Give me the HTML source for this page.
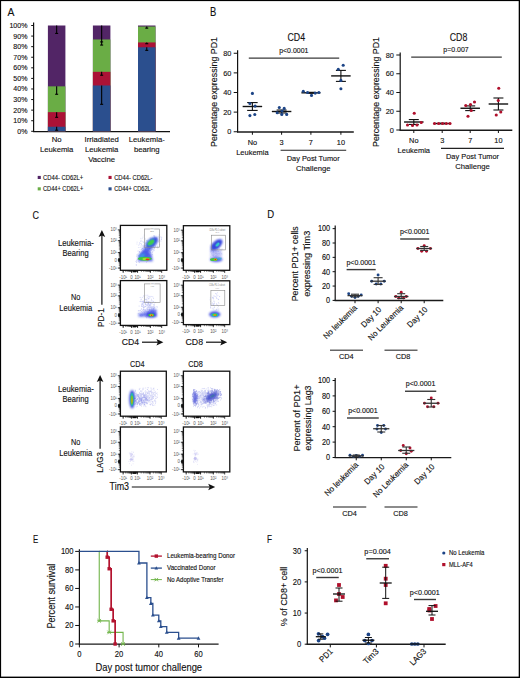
<!DOCTYPE html>
<html><head><meta charset="utf-8"><style>
html,body{margin:0;padding:0;background:#fff;}
svg{display:block;font-family:"Liberation Sans", sans-serif;}
text{stroke:currentColor;stroke-width:0.13px;}
text.ns{stroke:none;}

</style></head><body>
<svg width="520" height="678" viewBox="0 0 520 678">
<defs>
<filter id="b0_3" x="-50%" y="-50%" width="200%" height="200%"><feGaussianBlur stdDeviation="0.3"/></filter>
<filter id="b0_4" x="-50%" y="-50%" width="200%" height="200%"><feGaussianBlur stdDeviation="0.4"/></filter>
<filter id="b0_5" x="-50%" y="-50%" width="200%" height="200%"><feGaussianBlur stdDeviation="0.5"/></filter>
<filter id="b0_6" x="-50%" y="-50%" width="200%" height="200%"><feGaussianBlur stdDeviation="0.6"/></filter>
<filter id="b0_7" x="-50%" y="-50%" width="200%" height="200%"><feGaussianBlur stdDeviation="0.7"/></filter>
<filter id="b0_8" x="-50%" y="-50%" width="200%" height="200%"><feGaussianBlur stdDeviation="0.8"/></filter>
<filter id="b0_9" x="-50%" y="-50%" width="200%" height="200%"><feGaussianBlur stdDeviation="0.9"/></filter>
<filter id="b1_0" x="-50%" y="-50%" width="200%" height="200%"><feGaussianBlur stdDeviation="1.0"/></filter>
<filter id="b1_2" x="-50%" y="-50%" width="200%" height="200%"><feGaussianBlur stdDeviation="1.2"/></filter>
</defs>
<rect x="0" y="0" width="520" height="678" fill="#fff"/>
<text x="7.5" y="15.7" font-size="11.44" text-anchor="start" fill="#111" color="#111" textLength="6.9" lengthAdjust="spacingAndGlyphs">A</text>
<line x1="33.6" y1="22.5" x2="33.6" y2="131.8" stroke="#111" stroke-width="1.2" />
<line x1="31.2" y1="131.3" x2="33.6" y2="131.3" stroke="#111" stroke-width="1" />
<text x="27.4" y="133.8" font-size="7.59" text-anchor="end" fill="#111" color="#111" textLength="10.18" lengthAdjust="spacingAndGlyphs">0%</text>
<line x1="31.2" y1="120.72" x2="33.6" y2="120.72" stroke="#111" stroke-width="1" />
<text x="27.4" y="123.22" font-size="7.59" text-anchor="end" fill="#111" color="#111" textLength="14.1" lengthAdjust="spacingAndGlyphs">10%</text>
<line x1="31.2" y1="110.14" x2="33.6" y2="110.14" stroke="#111" stroke-width="1" />
<text x="27.4" y="112.64" font-size="7.59" text-anchor="end" fill="#111" color="#111" textLength="14.1" lengthAdjust="spacingAndGlyphs">20%</text>
<line x1="31.2" y1="99.56" x2="33.6" y2="99.56" stroke="#111" stroke-width="1" />
<text x="27.4" y="102.06" font-size="7.59" text-anchor="end" fill="#111" color="#111" textLength="14.1" lengthAdjust="spacingAndGlyphs">30%</text>
<line x1="31.2" y1="88.98" x2="33.6" y2="88.98" stroke="#111" stroke-width="1" />
<text x="27.4" y="91.48" font-size="7.59" text-anchor="end" fill="#111" color="#111" textLength="14.1" lengthAdjust="spacingAndGlyphs">40%</text>
<line x1="31.2" y1="78.4" x2="33.6" y2="78.4" stroke="#111" stroke-width="1" />
<text x="27.4" y="80.9" font-size="7.59" text-anchor="end" fill="#111" color="#111" textLength="14.1" lengthAdjust="spacingAndGlyphs">50%</text>
<line x1="31.2" y1="67.82" x2="33.6" y2="67.82" stroke="#111" stroke-width="1" />
<text x="27.4" y="70.32" font-size="7.59" text-anchor="end" fill="#111" color="#111" textLength="14.1" lengthAdjust="spacingAndGlyphs">60%</text>
<line x1="31.2" y1="57.24" x2="33.6" y2="57.24" stroke="#111" stroke-width="1" />
<text x="27.4" y="59.74" font-size="7.59" text-anchor="end" fill="#111" color="#111" textLength="14.1" lengthAdjust="spacingAndGlyphs">70%</text>
<line x1="31.2" y1="46.66" x2="33.6" y2="46.66" stroke="#111" stroke-width="1" />
<text x="27.4" y="49.16" font-size="7.59" text-anchor="end" fill="#111" color="#111" textLength="14.1" lengthAdjust="spacingAndGlyphs">80%</text>
<line x1="31.2" y1="36.08" x2="33.6" y2="36.08" stroke="#111" stroke-width="1" />
<text x="27.4" y="38.58" font-size="7.59" text-anchor="end" fill="#111" color="#111" textLength="14.1" lengthAdjust="spacingAndGlyphs">90%</text>
<line x1="31.2" y1="25.5" x2="33.6" y2="25.5" stroke="#111" stroke-width="1" />
<text x="27.4" y="28" font-size="7.59" text-anchor="end" fill="#111" color="#111" textLength="18.02" lengthAdjust="spacingAndGlyphs">100%</text>
<line x1="33" y1="131.6" x2="170" y2="131.6" stroke="#111" stroke-width="1.2" />
<rect x="47.9" y="25.5" width="17.5" height="105.8" fill="#522566" />
<rect x="47.9" y="86.34" width="17.5" height="44.97" fill="#6aad45" />
<rect x="47.9" y="112.15" width="17.5" height="19.15" fill="#ab1236" />
<rect x="47.9" y="126.75" width="17.5" height="4.55" fill="#2b4f8e" />
<rect x="92.9" y="25.5" width="17.5" height="105.8" fill="#522566" />
<rect x="92.9" y="39.47" width="17.5" height="91.83" fill="#6aad45" />
<rect x="92.9" y="71.84" width="17.5" height="59.46" fill="#ab1236" />
<rect x="92.9" y="85.49" width="17.5" height="45.81" fill="#2b4f8e" />
<rect x="138" y="25.5" width="17.5" height="105.8" fill="#522566" />
<rect x="138" y="26.56" width="17.5" height="104.74" fill="#6aad45" />
<rect x="138" y="42.43" width="17.5" height="88.87" fill="#ab1236" />
<rect x="138" y="47.29" width="17.5" height="84.01" fill="#2b4f8e" />
<line x1="56.65" y1="25.5" x2="56.65" y2="33.43" stroke="#000" stroke-width="1.1" />
<line x1="55.15" y1="33.43" x2="58.15" y2="33.43" stroke="#000" stroke-width="1.1" />
<line x1="56.65" y1="86.34" x2="56.65" y2="94.27" stroke="#000" stroke-width="1.1" />
<line x1="55.15" y1="94.27" x2="58.15" y2="94.27" stroke="#000" stroke-width="1.1" />
<line x1="56.65" y1="112.15" x2="56.65" y2="117.33" stroke="#000" stroke-width="1.1" />
<line x1="55.15" y1="117.33" x2="58.15" y2="117.33" stroke="#000" stroke-width="1.1" />
<line x1="56.65" y1="126.75" x2="56.65" y2="130.24" stroke="#000" stroke-width="1.1" />
<line x1="55.15" y1="130.24" x2="58.15" y2="130.24" stroke="#000" stroke-width="1.1" />
<line x1="101.65" y1="25.5" x2="101.65" y2="45.07" stroke="#000" stroke-width="1.1" />
<line x1="100.15" y1="41.9" x2="103.15" y2="41.9" stroke="#000" stroke-width="1.1" />
<line x1="100.15" y1="45.07" x2="103.15" y2="45.07" stroke="#000" stroke-width="1.1" />
<line x1="101.65" y1="71.84" x2="101.65" y2="75.23" stroke="#000" stroke-width="1.1" />
<line x1="100.15" y1="75.23" x2="103.15" y2="75.23" stroke="#000" stroke-width="1.1" />
<line x1="101.65" y1="85.49" x2="101.65" y2="104.32" stroke="#000" stroke-width="1.1" />
<line x1="100.15" y1="104.32" x2="103.15" y2="104.32" stroke="#000" stroke-width="1.1" />
<line x1="146.75" y1="26.56" x2="146.75" y2="28.14" stroke="#000" stroke-width="1.1" />
<line x1="145.25" y1="28.14" x2="148.25" y2="28.14" stroke="#000" stroke-width="1.1" />
<line x1="146.75" y1="42.43" x2="146.75" y2="43.7" stroke="#000" stroke-width="1.1" />
<line x1="145.25" y1="43.7" x2="148.25" y2="43.7" stroke="#000" stroke-width="1.1" />
<line x1="146.75" y1="47.29" x2="146.75" y2="50.36" stroke="#000" stroke-width="1.1" />
<line x1="145.25" y1="50.36" x2="148.25" y2="50.36" stroke="#000" stroke-width="1.1" />
<text x="56.65" y="141.8" font-size="7.76" text-anchor="middle" fill="#111" color="#111" textLength="9.87" lengthAdjust="spacingAndGlyphs">No</text>
<text x="56.65" y="151.65" font-size="7.76" text-anchor="middle" fill="#111" color="#111" textLength="33.47" lengthAdjust="spacingAndGlyphs">Leukemia</text>
<text x="101.65" y="141.8" font-size="7.76" text-anchor="middle" fill="#111" color="#111" textLength="34.33" lengthAdjust="spacingAndGlyphs">Irriadiated</text>
<text x="101.65" y="151.65" font-size="7.76" text-anchor="middle" fill="#111" color="#111" textLength="33.47" lengthAdjust="spacingAndGlyphs">Leukemia</text>
<text x="101.65" y="161.5" font-size="7.76" text-anchor="middle" fill="#111" color="#111" textLength="26.89" lengthAdjust="spacingAndGlyphs">Vaccine</text>
<text x="146.75" y="141.8" font-size="7.76" text-anchor="middle" fill="#111" color="#111" textLength="36.05" lengthAdjust="spacingAndGlyphs">Leukemia-</text>
<text x="146.75" y="151.65" font-size="7.76" text-anchor="middle" fill="#111" color="#111" textLength="25.75" lengthAdjust="spacingAndGlyphs">bearing</text>
<rect x="37.7" y="175.9" width="3.1" height="3.1" fill="#522566" />
<text x="43" y="179.7" font-size="7.18" text-anchor="start" fill="#111" color="#111" textLength="40.2" lengthAdjust="spacingAndGlyphs">CD44- CD62L+</text>
<rect x="108.5" y="175.9" width="3.1" height="3.1" fill="#ab1236" />
<text x="114.2" y="179.7" font-size="7.18" text-anchor="start" fill="#111" color="#111" textLength="38.3" lengthAdjust="spacingAndGlyphs">CD44- CD62L-</text>
<rect x="37.7" y="187.3" width="3.1" height="3.1" fill="#6aad45" />
<text x="43" y="191.1" font-size="7.18" text-anchor="start" fill="#111" color="#111" textLength="40.2" lengthAdjust="spacingAndGlyphs">CD44+ CD62L+</text>
<rect x="108.5" y="187.3" width="3.1" height="3.1" fill="#2b4f8e" />
<text x="114.2" y="191.1" font-size="7.18" text-anchor="start" fill="#111" color="#111" textLength="38.3" lengthAdjust="spacingAndGlyphs">CD44+ CD62L-</text>
<text x="209.9" y="16" font-size="11.96" text-anchor="start" fill="#111" color="#111" textLength="6.3" lengthAdjust="spacingAndGlyphs">B</text>
<text x="296.3" y="41.4" font-size="10.37" text-anchor="middle" fill="#111" color="#111" textLength="17.6" lengthAdjust="spacingAndGlyphs">CD4</text>
<line x1="237.6" y1="50.3" x2="237.6" y2="132.35" stroke="#111" stroke-width="1.2" />
<line x1="233.7" y1="131.75" x2="237.6" y2="131.75" stroke="#111" stroke-width="1" />
<text x="231.3" y="134.45" font-size="7.9" text-anchor="end" fill="#111" color="#111" textLength="4.08" lengthAdjust="spacingAndGlyphs">0</text>
<line x1="233.7" y1="112.12" x2="237.6" y2="112.12" stroke="#111" stroke-width="1" />
<text x="231.3" y="114.83" font-size="7.9" text-anchor="end" fill="#111" color="#111" textLength="8.16" lengthAdjust="spacingAndGlyphs">20</text>
<line x1="233.7" y1="92.5" x2="237.6" y2="92.5" stroke="#111" stroke-width="1" />
<text x="231.3" y="95.2" font-size="7.9" text-anchor="end" fill="#111" color="#111" textLength="8.16" lengthAdjust="spacingAndGlyphs">40</text>
<line x1="233.7" y1="72.88" x2="237.6" y2="72.88" stroke="#111" stroke-width="1" />
<text x="231.3" y="75.58" font-size="7.9" text-anchor="end" fill="#111" color="#111" textLength="8.16" lengthAdjust="spacingAndGlyphs">60</text>
<line x1="233.7" y1="53.25" x2="237.6" y2="53.25" stroke="#111" stroke-width="1" />
<text x="231.3" y="55.95" font-size="7.9" text-anchor="end" fill="#111" color="#111" textLength="8.16" lengthAdjust="spacingAndGlyphs">80</text>
<line x1="237" y1="131.9" x2="353.8" y2="131.9" stroke="#1a1a1a" stroke-width="1.55" />
<line x1="252.4" y1="131.75" x2="252.4" y2="134.75" stroke="#111" stroke-width="1" />
<line x1="281.6" y1="131.75" x2="281.6" y2="134.75" stroke="#111" stroke-width="1" />
<line x1="310.9" y1="131.75" x2="310.9" y2="134.75" stroke="#111" stroke-width="1" />
<line x1="340.9" y1="131.75" x2="340.9" y2="134.75" stroke="#111" stroke-width="1" />
<text x="252.4" y="145" font-size="7.9" text-anchor="middle" fill="#111" color="#111" textLength="9.38" lengthAdjust="spacingAndGlyphs">No</text>
<text x="252.4" y="154.8" font-size="7.9" text-anchor="middle" fill="#111" color="#111" textLength="32.5" lengthAdjust="spacingAndGlyphs">Leukemia</text>
<text x="281.6" y="145" font-size="7.9" text-anchor="middle" fill="#111" color="#111" textLength="4.08" lengthAdjust="spacingAndGlyphs">3</text>
<text x="310.9" y="145" font-size="7.9" text-anchor="middle" fill="#111" color="#111" textLength="4.08" lengthAdjust="spacingAndGlyphs">7</text>
<text x="340.9" y="145" font-size="7.9" text-anchor="middle" fill="#111" color="#111" textLength="8.16" lengthAdjust="spacingAndGlyphs">10</text>
<line x1="280.6" y1="150.3" x2="346.2" y2="150.3" stroke="#222" stroke-width="1.1" />
<text x="313.2" y="160.5" font-size="7.9" text-anchor="middle" fill="#111" color="#111" textLength="53" lengthAdjust="spacingAndGlyphs">Day Post Tumor</text>
<text x="313.2" y="170.5" font-size="7.9" text-anchor="middle" fill="#111" color="#111" textLength="34.5" lengthAdjust="spacingAndGlyphs">Challenge</text>
<line x1="248.8" y1="58.1" x2="339.2" y2="58.1" stroke="#3a3a3a" stroke-width="1.3" />
<text x="293.8" y="52.5" font-size="7.49" text-anchor="middle" fill="#111" color="#111" textLength="29.17" lengthAdjust="spacingAndGlyphs">p&lt;0.0001</text>
<text x="216.7" y="92" font-size="9.26" text-anchor="middle" fill="#111" color="#111" textLength="110" lengthAdjust="spacingAndGlyphs" transform="rotate(-90 216.7 92)">Percentage expressing PD1</text>
<line x1="242.65" y1="106.5" x2="262.15" y2="106.5" stroke="#111" stroke-width="1.4" />
<line x1="252.4" y1="110.42" x2="252.4" y2="102.58" stroke="#111" stroke-width="1.1" />
<line x1="247.15" y1="102.58" x2="257.65" y2="102.58" stroke="#111" stroke-width="1.1" />
<line x1="247.15" y1="110.42" x2="257.65" y2="110.42" stroke="#111" stroke-width="1.1" />
<line x1="271.85" y1="111.5" x2="291.35" y2="111.5" stroke="#111" stroke-width="1.4" />
<line x1="281.6" y1="112.97" x2="281.6" y2="110.03" stroke="#111" stroke-width="1.1" />
<line x1="276.6" y1="110.03" x2="286.6" y2="110.03" stroke="#111" stroke-width="1.1" />
<line x1="276.6" y1="112.97" x2="286.6" y2="112.97" stroke="#111" stroke-width="1.1" />
<line x1="301.4" y1="92.8" x2="320.4" y2="92.8" stroke="#111" stroke-width="1.4" />
<line x1="310.9" y1="93.29" x2="310.9" y2="92.31" stroke="#111" stroke-width="1.1" />
<line x1="306.9" y1="92.31" x2="314.9" y2="92.31" stroke="#111" stroke-width="1.1" />
<line x1="306.9" y1="93.29" x2="314.9" y2="93.29" stroke="#111" stroke-width="1.1" />
<line x1="331.15" y1="75.9" x2="350.65" y2="75.9" stroke="#111" stroke-width="1.4" />
<line x1="340.9" y1="81.4" x2="340.9" y2="70.41" stroke="#111" stroke-width="1.1" />
<line x1="335.9" y1="70.41" x2="345.9" y2="70.41" stroke="#111" stroke-width="1.1" />
<line x1="335.9" y1="81.4" x2="345.9" y2="81.4" stroke="#111" stroke-width="1.1" />
<circle cx="252.4" cy="93.4" r="1.55" fill="#1c4486" />
<circle cx="249.9" cy="103.5" r="1.55" fill="#1c4486" />
<circle cx="255.1" cy="106.1" r="1.55" fill="#1c4486" />
<circle cx="249.9" cy="115.6" r="1.55" fill="#1c4486" />
<circle cx="254.8" cy="114.5" r="1.55" fill="#1c4486" />
<circle cx="279.3" cy="107.5" r="1.55" fill="#1c4486" />
<circle cx="284.2" cy="108.4" r="1.55" fill="#1c4486" />
<circle cx="277.2" cy="112.7" r="1.55" fill="#1c4486" />
<circle cx="281.8" cy="114.4" r="1.55" fill="#1c4486" />
<circle cx="286.7" cy="114.4" r="1.55" fill="#1c4486" />
<circle cx="282" cy="111" r="1.55" fill="#1c4486" />
<circle cx="303.3" cy="91.3" r="1.55" fill="#1c4486" />
<circle cx="307.5" cy="92.5" r="1.55" fill="#1c4486" />
<circle cx="311.5" cy="95.4" r="1.55" fill="#1c4486" />
<circle cx="315.2" cy="93.1" r="1.55" fill="#1c4486" />
<circle cx="318.9" cy="92.5" r="1.55" fill="#1c4486" />
<circle cx="343.2" cy="65.2" r="1.55" fill="#1c4486" />
<circle cx="338.3" cy="69.2" r="1.55" fill="#1c4486" />
<circle cx="340.9" cy="80.4" r="1.55" fill="#1c4486" />
<circle cx="340.9" cy="88.7" r="1.55" fill="#1c4486" />
<text x="458.5" y="41.4" font-size="10.37" text-anchor="middle" fill="#111" color="#111" textLength="17.6" lengthAdjust="spacingAndGlyphs">CD8</text>
<line x1="400.2" y1="52.5" x2="400.2" y2="130.6" stroke="#111" stroke-width="1.2" />
<line x1="396.3" y1="130" x2="400.2" y2="130" stroke="#111" stroke-width="1" />
<text x="393.9" y="132.7" font-size="7.9" text-anchor="end" fill="#111" color="#111" textLength="4.08" lengthAdjust="spacingAndGlyphs">0</text>
<line x1="396.3" y1="111.25" x2="400.2" y2="111.25" stroke="#111" stroke-width="1" />
<text x="393.9" y="113.95" font-size="7.9" text-anchor="end" fill="#111" color="#111" textLength="8.16" lengthAdjust="spacingAndGlyphs">20</text>
<line x1="396.3" y1="92.5" x2="400.2" y2="92.5" stroke="#111" stroke-width="1" />
<text x="393.9" y="95.2" font-size="7.9" text-anchor="end" fill="#111" color="#111" textLength="8.16" lengthAdjust="spacingAndGlyphs">40</text>
<line x1="396.3" y1="73.75" x2="400.2" y2="73.75" stroke="#111" stroke-width="1" />
<text x="393.9" y="76.45" font-size="7.9" text-anchor="end" fill="#111" color="#111" textLength="8.16" lengthAdjust="spacingAndGlyphs">60</text>
<line x1="396.3" y1="55" x2="400.2" y2="55" stroke="#111" stroke-width="1" />
<text x="393.9" y="57.7" font-size="7.9" text-anchor="end" fill="#111" color="#111" textLength="8.16" lengthAdjust="spacingAndGlyphs">80</text>
<line x1="399.6" y1="130.15" x2="512.3" y2="130.15" stroke="#1a1a1a" stroke-width="1.55" />
<line x1="413.8" y1="130" x2="413.8" y2="133" stroke="#111" stroke-width="1" />
<line x1="442.2" y1="130" x2="442.2" y2="133" stroke="#111" stroke-width="1" />
<line x1="470.2" y1="130" x2="470.2" y2="133" stroke="#111" stroke-width="1" />
<line x1="498.4" y1="130" x2="498.4" y2="133" stroke="#111" stroke-width="1" />
<text x="413.8" y="143.25" font-size="7.9" text-anchor="middle" fill="#111" color="#111" textLength="9.38" lengthAdjust="spacingAndGlyphs">No</text>
<text x="413.8" y="153.05" font-size="7.9" text-anchor="middle" fill="#111" color="#111" textLength="32.5" lengthAdjust="spacingAndGlyphs">Leukemia</text>
<text x="442.2" y="143.25" font-size="7.9" text-anchor="middle" fill="#111" color="#111" textLength="4.08" lengthAdjust="spacingAndGlyphs">3</text>
<text x="470.2" y="143.25" font-size="7.9" text-anchor="middle" fill="#111" color="#111" textLength="4.08" lengthAdjust="spacingAndGlyphs">7</text>
<text x="498.4" y="143.25" font-size="7.9" text-anchor="middle" fill="#111" color="#111" textLength="8.16" lengthAdjust="spacingAndGlyphs">10</text>
<line x1="441" y1="148.4" x2="504" y2="148.4" stroke="#222" stroke-width="1.1" />
<text x="472.5" y="158.6" font-size="7.9" text-anchor="middle" fill="#111" color="#111" textLength="53" lengthAdjust="spacingAndGlyphs">Day Post Tumor</text>
<text x="472.5" y="168.6" font-size="7.9" text-anchor="middle" fill="#111" color="#111" textLength="34.5" lengthAdjust="spacingAndGlyphs">Challenge</text>
<line x1="411.2" y1="57.1" x2="501.8" y2="57.1" stroke="#3a3a3a" stroke-width="1.3" />
<text x="456" y="52.4" font-size="7.49" text-anchor="middle" fill="#111" color="#111" textLength="25.31" lengthAdjust="spacingAndGlyphs">p=0.007</text>
<text x="378.5" y="92" font-size="9.26" text-anchor="middle" fill="#111" color="#111" textLength="110" lengthAdjust="spacingAndGlyphs" transform="rotate(-90 378.5 92)">Percentage expressing PD1</text>
<line x1="404.05" y1="122" x2="423.55" y2="122" stroke="#111" stroke-width="1.4" />
<line x1="413.8" y1="124.44" x2="413.8" y2="119.56" stroke="#111" stroke-width="1.1" />
<line x1="408.8" y1="119.56" x2="418.8" y2="119.56" stroke="#111" stroke-width="1.1" />
<line x1="408.8" y1="124.44" x2="418.8" y2="124.44" stroke="#111" stroke-width="1.1" />
<line x1="433.7" y1="123.5" x2="450.7" y2="123.5" stroke="#111" stroke-width="1.4" />
<line x1="442.2" y1="123.78" x2="442.2" y2="123.22" stroke="#111" stroke-width="1.1" />
<line x1="439.2" y1="123.22" x2="445.2" y2="123.22" stroke="#111" stroke-width="1.1" />
<line x1="439.2" y1="123.78" x2="445.2" y2="123.78" stroke="#111" stroke-width="1.1" />
<line x1="460.45" y1="108.25" x2="479.95" y2="108.25" stroke="#111" stroke-width="1.4" />
<line x1="470.2" y1="110.59" x2="470.2" y2="105.91" stroke="#111" stroke-width="1.1" />
<line x1="465.2" y1="105.91" x2="475.2" y2="105.91" stroke="#111" stroke-width="1.1" />
<line x1="465.2" y1="110.59" x2="475.2" y2="110.59" stroke="#111" stroke-width="1.1" />
<line x1="488.65" y1="104" x2="508.15" y2="104" stroke="#111" stroke-width="1.4" />
<line x1="498.4" y1="110" x2="498.4" y2="98" stroke="#111" stroke-width="1.1" />
<line x1="493.4" y1="98" x2="503.4" y2="98" stroke="#111" stroke-width="1.1" />
<line x1="493.4" y1="110" x2="503.4" y2="110" stroke="#111" stroke-width="1.1" />
<circle cx="414.25" cy="113.25" r="1.55" fill="#b0102c" />
<circle cx="407.5" cy="125" r="1.55" fill="#b0102c" />
<circle cx="412.5" cy="125.5" r="1.55" fill="#b0102c" />
<circle cx="417" cy="125" r="1.55" fill="#b0102c" />
<circle cx="421.25" cy="122.5" r="1.55" fill="#b0102c" />
<circle cx="434.5" cy="123.5" r="1.55" fill="#b0102c" />
<circle cx="438.6" cy="123.5" r="1.55" fill="#b0102c" />
<circle cx="442.5" cy="123.5" r="1.55" fill="#b0102c" />
<circle cx="446.3" cy="123.5" r="1.55" fill="#b0102c" />
<circle cx="450" cy="123.5" r="1.55" fill="#b0102c" />
<circle cx="465.75" cy="105.5" r="1.55" fill="#b0102c" />
<circle cx="474.5" cy="102" r="1.55" fill="#b0102c" />
<circle cx="471.25" cy="110.5" r="1.55" fill="#b0102c" />
<circle cx="468" cy="116.25" r="1.55" fill="#b0102c" />
<circle cx="470.5" cy="104.5" r="1.55" fill="#b0102c" />
<circle cx="498.75" cy="88.25" r="1.55" fill="#b0102c" />
<circle cx="498.25" cy="100.5" r="1.55" fill="#b0102c" />
<circle cx="500.75" cy="112" r="1.55" fill="#b0102c" />
<circle cx="496.25" cy="115" r="1.55" fill="#b0102c" />
<text x="32.5" y="218.6" font-size="11.44" text-anchor="start" fill="#111" color="#111" textLength="6.5" lengthAdjust="spacingAndGlyphs">C</text>
<text x="75.9" y="246.2" font-size="8.51" text-anchor="middle" fill="#111" color="#111" textLength="36" lengthAdjust="spacingAndGlyphs">Leukemia-</text>
<text x="75.6" y="256" font-size="8.51" text-anchor="middle" fill="#111" color="#111" textLength="26" lengthAdjust="spacingAndGlyphs">Bearing</text>
<text x="75.9" y="392.1" font-size="8.51" text-anchor="middle" fill="#111" color="#111" textLength="36" lengthAdjust="spacingAndGlyphs">Leukemia-</text>
<text x="75.6" y="401.9" font-size="8.51" text-anchor="middle" fill="#111" color="#111" textLength="26" lengthAdjust="spacingAndGlyphs">Bearing</text>
<text x="75.7" y="300.4" font-size="8.51" text-anchor="middle" fill="#111" color="#111" textLength="9.38" lengthAdjust="spacingAndGlyphs">No</text>
<text x="75.7" y="310.5" font-size="8.51" text-anchor="middle" fill="#111" color="#111" textLength="33" lengthAdjust="spacingAndGlyphs">Leukemia</text>
<text x="75.7" y="445.4" font-size="8.51" text-anchor="middle" fill="#111" color="#111" textLength="9.38" lengthAdjust="spacingAndGlyphs">No</text>
<text x="75.7" y="455.5" font-size="8.51" text-anchor="middle" fill="#111" color="#111" textLength="33" lengthAdjust="spacingAndGlyphs">Leukemia</text>
<path d="M141.36 249.07h0.01 M141.43 244.11h0.01 M139.67 244.72h0.01 M144.78 248.54h0.01 M144.59 247.49h0.01 M142.99 247.11h0.01 M137.83 251.13h0.01 M143.27 248.99h0.01 M139.78 243.19h0.01 M142.76 245.72h0.01 M143.3 242.15h0.01 M142.77 248.36h0.01 M140.35 256.31h0.01 M143.39 253.18h0.01 M140.45 241.56h0.01 M141.14 245.36h0.01 M143.58 247.49h0.01 M140.88 240.26h0.01 M140.7 253.33h0.01 M139.98 247.47h0.01 M143.07 237.06h0.01 M142.12 253.84h0.01 M136.96 244.07h0.01 M141.73 241.1h0.01 M143.24 245.63h0.01 M138.34 250.97h0.01 M143.67 251.68h0.01 M145.6 248.17h0.01 M142.3 238.2h0.01 M143.54 242.33h0.01 M140.87 238.41h0.01 M139.58 242.81h0.01 M138.36 247.44h0.01 M145.61 249.47h0.01 M142.89 241.58h0.01 M139.2 251.86h0.01 M144.75 246.94h0.01 M142.61 248.61h0.01 M145.99 249.71h0.01 M143.3 249.29h0.01 M138.08 253.69h0.01 M144.39 249.18h0.01 M137.07 242.2h0.01 M144.11 235.13h0.01 M141.54 252.12h0.01 M138.72 255.66h0.01 M143.38 245.1h0.01 M142.81 249.9h0.01 M142.3 252.87h0.01 M140.35 243.51h0.01 M144.6 246.16h0.01 M139.8 251.68h0.01 M145.66 243.33h0.01 M138.55 245.19h0.01 M141.63 244.21h0.01 M145.51 239.84h0.01 M145.15 238.39h0.01 M140.03 249.79h0.01 M144.82 251.15h0.01 M142.86 246.85h0.01" stroke="#6f78e8" stroke-width="0.7" stroke-linecap="round" opacity="0.35"/>
<path d="M150.75 250.22h0.01 M147.79 252.07h0.01 M151.53 245.49h0.01 M154.49 245.37h0.01 M144.19 252.45h0.01 M150.83 252.38h0.01 M147.14 253.6h0.01 M141.85 259.46h0.01 M151.2 247.45h0.01 M147.41 255.01h0.01 M148.09 246.49h0.01 M144.27 254.12h0.01 M146.41 251.62h0.01 M150.53 239.17h0.01 M150.59 252.87h0.01 M157.97 246.93h0.01 M136.41 262.54h0.01 M147.87 254.22h0.01 M150.14 237.86h0.01 M147.5 240.94h0.01 M152.85 251.56h0.01 M147.68 251.65h0.01 M153.35 244.07h0.01 M152.29 254.47h0.01 M153.53 241.01h0.01 M152.79 242.14h0.01 M151.04 250.69h0.01 M151.38 249.82h0.01 M148.75 242.78h0.01 M137.05 254.47h0.01 M158.15 241.86h0.01 M154.11 236.08h0.01 M144.41 247.18h0.01 M157.73 247.88h0.01 M147.44 260.86h0.01 M153.52 241.78h0.01 M145.51 249.27h0.01 M151.75 247.86h0.01 M154.01 235.68h0.01 M159.68 244.71h0.01 M156.37 238.11h0.01 M146.63 258.37h0.01 M149.1 249.4h0.01 M155.94 238.13h0.01 M148.03 246h0.01 M150.57 252.13h0.01 M152.67 252.64h0.01 M150.9 253.04h0.01 M146.64 257.46h0.01 M140.38 259.68h0.01 M146.73 251.44h0.01 M145.09 255.24h0.01 M159.17 235.99h0.01 M154.42 248.28h0.01 M142.81 248.46h0.01 M147.96 257.02h0.01 M135.98 261.5h0.01 M156.7 244.01h0.01 M150.59 251.92h0.01 M145.31 245.79h0.01 M136.36 260.75h0.01 M151.9 241.34h0.01 M140.01 255.21h0.01 M138.2 261.78h0.01 M141.89 260.19h0.01 M151.59 243.61h0.01 M148.35 246.58h0.01 M155.16 245.69h0.01 M153.13 245.55h0.01 M158.29 241.12h0.01 M157.65 246.16h0.01 M144.69 251.18h0.01 M144.46 259.01h0.01 M159.23 234.84h0.01 M154.3 247.8h0.01 M142.14 256.92h0.01 M152.4 249.73h0.01 M147.17 249.79h0.01 M140.61 257.12h0.01 M153.81 243.22h0.01 M140.1 254.65h0.01 M153.34 246.29h0.01 M159.72 237.78h0.01 M149.23 251.82h0.01 M147.79 245.71h0.01 M137.27 259.41h0.01 M150.37 248.16h0.01 M142.48 250.74h0.01 M136.41 256.1h0.01 M161.6 239.02h0.01 M161.76 237.65h0.01 M143.45 257.51h0.01 M149.29 251.75h0.01 M143.13 255.43h0.01 M152.01 247.31h0.01 M152.59 245.49h0.01 M148.49 254.5h0.01 M145.7 247.58h0.01 M144.15 254.93h0.01 M147.82 251.25h0.01 M148.55 250.44h0.01 M143.21 247.96h0.01 M153.92 249.27h0.01 M150.08 246.11h0.01 M147.7 244.1h0.01 M136.51 265.09h0.01 M144.6 259.15h0.01 M146.57 262.08h0.01 M141.33 249.64h0.01 M144.94 257.3h0.01 M151.62 246.52h0.01 M159.36 240.05h0.01 M149.75 251.63h0.01 M161.25 239.35h0.01 M150.89 239.27h0.01 M149.39 252.97h0.01 M149.54 254.97h0.01 M154.53 247.54h0.01 M154.96 239.7h0.01 M148.64 254.86h0.01 M154.06 242.29h0.01 M141.41 259.66h0.01 M153.77 249.95h0.01 M152.9 243.89h0.01 M154.96 244.6h0.01 M149.44 248.51h0.01 M148.66 253.61h0.01 M139.53 256.76h0.01 M143.42 246.36h0.01 M145.59 256.78h0.01 M151.32 245.4h0.01 M142.11 248.34h0.01 M160.88 236.87h0.01 M151.95 239.21h0.01 M141.12 246.98h0.01 M155.75 246.15h0.01 M136.15 264.82h0.01 M146.33 240.69h0.01 M139.7 251.5h0.01 M148.98 250.37h0.01 M154.12 246.73h0.01 M160.92 241.03h0.01 M138.33 259.09h0.01 M138.08 255.7h0.01 M147.52 250.65h0.01 M146.02 242.23h0.01 M140.31 259.7h0.01 M145.79 250.81h0.01 M145.22 248.63h0.01 M153.43 245.35h0.01 M145.34 249.04h0.01 M142.08 257.82h0.01 M139.37 262.34h0.01 M144.57 245.45h0.01 M145.47 251.2h0.01 M152.76 247.88h0.01 M145.09 248.19h0.01 M146.91 250.98h0.01 M153.45 244.94h0.01 M139.28 252.36h0.01 M143.37 251.12h0.01 M140.79 258.48h0.01 M145.31 254.13h0.01 M149.92 244.86h0.01 M155.17 241.62h0.01 M144.15 256.53h0.01 M154.02 250.61h0.01 M155.7 246.29h0.01 M150.65 245.6h0.01 M147.74 243.33h0.01 M152.07 238.19h0.01 M146.69 251.81h0.01 M155.24 240.9h0.01 M143.84 257h0.01 M153.82 247.16h0.01 M148.77 260.4h0.01 M158.32 236.91h0.01 M148.3 246.83h0.01 M154.48 237.12h0.01 M150.64 243.51h0.01" stroke="#5560e0" stroke-width="0.7" stroke-linecap="round" opacity="0.45"/>
<path d="M138.2 261.2 L152.8 261.2 L151.5 254 L146 250 L141 252.5 L138.4 256 Z" fill="#4656e8" opacity="0.9" filter="url(#b1_2)"/>
<path d="M139 258 L143 250 L150 242 L155.5 236.8 L158 238.5 L157 243 L152 248.5 L148 254 L146 259 Z" fill="#4656e8" opacity="0.85" filter="url(#b1_2)"/>
<ellipse cx="151.3" cy="242.3" rx="6.8" ry="3.6" fill="#2f3fd8" opacity="0.85" filter="url(#b1_0)" transform="rotate(-37 151.3 242.3)"/>
<ellipse cx="151" cy="242.4" rx="4.6" ry="2.5" fill="#30b8c0" opacity="0.8" filter="url(#b0_8)" transform="rotate(-37 151 242.4)"/>
<ellipse cx="151" cy="242.5" rx="3.6" ry="1.9" fill="#40d048" opacity="0.95" filter="url(#b0_7)" transform="rotate(-37 151 242.5)"/>
<ellipse cx="142" cy="256" rx="3.4" ry="1.8" fill="#38b0e0" opacity="0.8" filter="url(#b0_8)" transform="rotate(-40 142 256)"/>
<ellipse cx="144.8" cy="258.7" rx="7" ry="2" fill="#3cc83c" opacity="0.95" filter="url(#b0_7)" transform="rotate(0 144.8 258.7)"/>
<ellipse cx="146" cy="259" rx="3.6" ry="1.3" fill="#a8e030" opacity="0.9" filter="url(#b0_5)" transform="rotate(0 146 259)"/>
<ellipse cx="147.5" cy="259.3" rx="2" ry="0.85" fill="#f02a12" opacity="1" filter="url(#b0_4)" transform="rotate(0 147.5 259.3)"/>
<rect x="144.5" y="229" width="15.1" height="18.2" fill="none" stroke="#888" stroke-width="0.6"/>
<rect x="149.85" y="227.4" width="4.4" height="2.2" fill="#fff" />
<text x="152.05" y="229.3" font-size="2.5" text-anchor="middle" fill="#888" color="#888" class="ns" textLength="3.4" lengthAdjust="spacingAndGlyphs">PD1</text>
<text x="152.05" y="231.8" font-size="2.5" text-anchor="middle" fill="#777" color="#777" class="ns" textLength="3.6" lengthAdjust="spacingAndGlyphs">28.8</text>
<line x1="118.8" y1="240.67" x2="120.4" y2="240.67" stroke="#111" stroke-width="0.5" />
<line x1="118.8" y1="237.42" x2="120.4" y2="237.42" stroke="#111" stroke-width="0.5" />
<line x1="118.8" y1="235.52" x2="120.4" y2="235.52" stroke="#111" stroke-width="0.5" />
<line x1="118.8" y1="234.18" x2="120.4" y2="234.18" stroke="#111" stroke-width="0.5" />
<line x1="118.8" y1="233.13" x2="120.4" y2="233.13" stroke="#111" stroke-width="0.5" />
<line x1="118.8" y1="232.28" x2="120.4" y2="232.28" stroke="#111" stroke-width="0.5" />
<line x1="118.8" y1="231.56" x2="120.4" y2="231.56" stroke="#111" stroke-width="0.5" />
<line x1="118.8" y1="230.93" x2="120.4" y2="230.93" stroke="#111" stroke-width="0.5" />
<line x1="118.8" y1="230.38" x2="120.4" y2="230.38" stroke="#111" stroke-width="0.5" />
<line x1="118.8" y1="252.56" x2="120.4" y2="252.56" stroke="#111" stroke-width="0.5" />
<line x1="118.8" y1="248.98" x2="120.4" y2="248.98" stroke="#111" stroke-width="0.5" />
<line x1="118.8" y1="246.89" x2="120.4" y2="246.89" stroke="#111" stroke-width="0.5" />
<line x1="118.8" y1="245.4" x2="120.4" y2="245.4" stroke="#111" stroke-width="0.5" />
<line x1="118.8" y1="244.25" x2="120.4" y2="244.25" stroke="#111" stroke-width="0.5" />
<line x1="118.8" y1="243.31" x2="120.4" y2="243.31" stroke="#111" stroke-width="0.5" />
<line x1="118.8" y1="242.51" x2="120.4" y2="242.51" stroke="#111" stroke-width="0.5" />
<line x1="118.8" y1="241.82" x2="120.4" y2="241.82" stroke="#111" stroke-width="0.5" />
<line x1="118.8" y1="241.21" x2="120.4" y2="241.21" stroke="#111" stroke-width="0.5" />
<line x1="118.8" y1="259.97" x2="120.4" y2="259.97" stroke="#111" stroke-width="0.5" />
<line x1="118.8" y1="257.74" x2="120.4" y2="257.74" stroke="#111" stroke-width="0.5" />
<line x1="118.8" y1="256.44" x2="120.4" y2="256.44" stroke="#111" stroke-width="0.5" />
<line x1="118.8" y1="255.51" x2="120.4" y2="255.51" stroke="#111" stroke-width="0.5" />
<line x1="118.8" y1="254.79" x2="120.4" y2="254.79" stroke="#111" stroke-width="0.5" />
<line x1="118.8" y1="254.21" x2="120.4" y2="254.21" stroke="#111" stroke-width="0.5" />
<line x1="118.8" y1="253.71" x2="120.4" y2="253.71" stroke="#111" stroke-width="0.5" />
<line x1="118.8" y1="253.28" x2="120.4" y2="253.28" stroke="#111" stroke-width="0.5" />
<line x1="118.8" y1="252.9" x2="120.4" y2="252.9" stroke="#111" stroke-width="0.5" />
<line x1="118.8" y1="268.06" x2="120.4" y2="268.06" stroke="#111" stroke-width="0.5" />
<line x1="118.8" y1="265.62" x2="120.4" y2="265.62" stroke="#111" stroke-width="0.5" />
<line x1="118.8" y1="264.2" x2="120.4" y2="264.2" stroke="#111" stroke-width="0.5" />
<line x1="118.8" y1="263.19" x2="120.4" y2="263.19" stroke="#111" stroke-width="0.5" />
<line x1="118.8" y1="262.41" x2="120.4" y2="262.41" stroke="#111" stroke-width="0.5" />
<line x1="118.8" y1="261.77" x2="120.4" y2="261.77" stroke="#111" stroke-width="0.5" />
<line x1="118.8" y1="261.22" x2="120.4" y2="261.22" stroke="#111" stroke-width="0.5" />
<line x1="118.8" y1="260.76" x2="120.4" y2="260.76" stroke="#111" stroke-width="0.5" />
<line x1="118.8" y1="260.34" x2="120.4" y2="260.34" stroke="#111" stroke-width="0.5" />
<line x1="117.8" y1="229.89" x2="120.4" y2="229.89" stroke="#111" stroke-width="0.8" />
<line x1="117.8" y1="240.67" x2="120.4" y2="240.67" stroke="#111" stroke-width="0.8" />
<line x1="117.8" y1="252.56" x2="120.4" y2="252.56" stroke="#111" stroke-width="0.8" />
<line x1="117.8" y1="259.97" x2="120.4" y2="259.97" stroke="#111" stroke-width="0.8" />
<line x1="117.8" y1="268.06" x2="120.4" y2="268.06" stroke="#111" stroke-width="0.8" />
<line x1="123.18" y1="270.3" x2="123.18" y2="271.9" stroke="#111" stroke-width="0.5" />
<line x1="125.7" y1="270.3" x2="125.7" y2="271.9" stroke="#111" stroke-width="0.5" />
<line x1="127.17" y1="270.3" x2="127.17" y2="271.9" stroke="#111" stroke-width="0.5" />
<line x1="128.21" y1="270.3" x2="128.21" y2="271.9" stroke="#111" stroke-width="0.5" />
<line x1="129.02" y1="270.3" x2="129.02" y2="271.9" stroke="#111" stroke-width="0.5" />
<line x1="129.68" y1="270.3" x2="129.68" y2="271.9" stroke="#111" stroke-width="0.5" />
<line x1="130.24" y1="270.3" x2="130.24" y2="271.9" stroke="#111" stroke-width="0.5" />
<line x1="130.73" y1="270.3" x2="130.73" y2="271.9" stroke="#111" stroke-width="0.5" />
<line x1="131.15" y1="270.3" x2="131.15" y2="271.9" stroke="#111" stroke-width="0.5" />
<line x1="131.54" y1="270.3" x2="131.54" y2="271.9" stroke="#111" stroke-width="0.5" />
<line x1="133.35" y1="270.3" x2="133.35" y2="271.9" stroke="#111" stroke-width="0.5" />
<line x1="134.41" y1="270.3" x2="134.41" y2="271.9" stroke="#111" stroke-width="0.5" />
<line x1="135.17" y1="270.3" x2="135.17" y2="271.9" stroke="#111" stroke-width="0.5" />
<line x1="135.75" y1="270.3" x2="135.75" y2="271.9" stroke="#111" stroke-width="0.5" />
<line x1="136.23" y1="270.3" x2="136.23" y2="271.9" stroke="#111" stroke-width="0.5" />
<line x1="136.63" y1="270.3" x2="136.63" y2="271.9" stroke="#111" stroke-width="0.5" />
<line x1="136.98" y1="270.3" x2="136.98" y2="271.9" stroke="#111" stroke-width="0.5" />
<line x1="137.29" y1="270.3" x2="137.29" y2="271.9" stroke="#111" stroke-width="0.5" />
<line x1="137.57" y1="270.3" x2="137.57" y2="271.9" stroke="#111" stroke-width="0.5" />
<line x1="141.41" y1="270.3" x2="141.41" y2="271.9" stroke="#111" stroke-width="0.5" />
<line x1="143.66" y1="270.3" x2="143.66" y2="271.9" stroke="#111" stroke-width="0.5" />
<line x1="145.25" y1="270.3" x2="145.25" y2="271.9" stroke="#111" stroke-width="0.5" />
<line x1="146.49" y1="270.3" x2="146.49" y2="271.9" stroke="#111" stroke-width="0.5" />
<line x1="147.5" y1="270.3" x2="147.5" y2="271.9" stroke="#111" stroke-width="0.5" />
<line x1="148.35" y1="270.3" x2="148.35" y2="271.9" stroke="#111" stroke-width="0.5" />
<line x1="149.09" y1="270.3" x2="149.09" y2="271.9" stroke="#111" stroke-width="0.5" />
<line x1="149.74" y1="270.3" x2="149.74" y2="271.9" stroke="#111" stroke-width="0.5" />
<line x1="150.33" y1="270.3" x2="150.33" y2="271.9" stroke="#111" stroke-width="0.5" />
<line x1="153.75" y1="270.3" x2="153.75" y2="271.9" stroke="#111" stroke-width="0.5" />
<line x1="155.75" y1="270.3" x2="155.75" y2="271.9" stroke="#111" stroke-width="0.5" />
<line x1="157.17" y1="270.3" x2="157.17" y2="271.9" stroke="#111" stroke-width="0.5" />
<line x1="158.27" y1="270.3" x2="158.27" y2="271.9" stroke="#111" stroke-width="0.5" />
<line x1="159.17" y1="270.3" x2="159.17" y2="271.9" stroke="#111" stroke-width="0.5" />
<line x1="159.94" y1="270.3" x2="159.94" y2="271.9" stroke="#111" stroke-width="0.5" />
<line x1="160.59" y1="270.3" x2="160.59" y2="271.9" stroke="#111" stroke-width="0.5" />
<line x1="161.18" y1="270.3" x2="161.18" y2="271.9" stroke="#111" stroke-width="0.5" />
<line x1="123.18" y1="270.3" x2="123.18" y2="272.9" stroke="#111" stroke-width="0.8" />
<line x1="131.54" y1="270.3" x2="131.54" y2="272.9" stroke="#111" stroke-width="0.8" />
<line x1="137.57" y1="270.3" x2="137.57" y2="272.9" stroke="#111" stroke-width="0.8" />
<line x1="150.33" y1="270.3" x2="150.33" y2="272.9" stroke="#111" stroke-width="0.8" />
<line x1="161.7" y1="270.3" x2="161.7" y2="272.9" stroke="#111" stroke-width="0.8" />
<rect x="118.2" y="258.18" width="2.2" height="3.59" fill="#111" />
<rect x="132.46" y="270.3" width="3.71" height="2" fill="#111" />
<text x="116.8" y="231.49" font-size="4.68" text-anchor="end" fill="#555" color="#555" class="ns" textLength="6.28" lengthAdjust="spacingAndGlyphs">10³</text>
<text x="116.8" y="242.27" font-size="4.68" text-anchor="end" fill="#555" color="#555" class="ns" textLength="6.28" lengthAdjust="spacingAndGlyphs">10²</text>
<text x="116.8" y="254.16" font-size="4.68" text-anchor="end" fill="#555" color="#555" class="ns" textLength="6.28" lengthAdjust="spacingAndGlyphs">10¹</text>
<text x="116.8" y="261.57" font-size="4.68" text-anchor="end" fill="#555" color="#555" class="ns" textLength="2.42" lengthAdjust="spacingAndGlyphs">0</text>
<text x="116.8" y="269.66" font-size="4.68" text-anchor="end" fill="#555" color="#555" class="ns" textLength="7.72" lengthAdjust="spacingAndGlyphs">-10¹</text>
<text x="123.18" y="278.7" font-size="4.68" text-anchor="middle" fill="#555" color="#555" class="ns" textLength="7.72" lengthAdjust="spacingAndGlyphs">-10¹</text>
<text x="131.54" y="278.7" font-size="4.68" text-anchor="middle" fill="#555" color="#555" class="ns" textLength="2.42" lengthAdjust="spacingAndGlyphs">0</text>
<text x="137.57" y="278.7" font-size="4.68" text-anchor="middle" fill="#555" color="#555" class="ns" textLength="6.28" lengthAdjust="spacingAndGlyphs">10¹</text>
<text x="150.33" y="278.7" font-size="4.68" text-anchor="middle" fill="#555" color="#555" class="ns" textLength="6.28" lengthAdjust="spacingAndGlyphs">10²</text>
<text x="161.7" y="278.7" font-size="4.68" text-anchor="middle" fill="#555" color="#555" class="ns" textLength="6.28" lengthAdjust="spacingAndGlyphs">10³</text>
<rect x="120.4" y="225.4" width="46.4" height="44.9" fill="none" stroke="#111" stroke-width="1.3"/>
<path d="M213.57 255.59h0.01 M220.67 251.95h0.01 M213.63 256.06h0.01 M215.83 253.55h0.01 M221.33 257.66h0.01 M216.01 255.93h0.01 M213.73 251.78h0.01 M220.78 245.92h0.01 M220.12 249.7h0.01 M215.79 250.44h0.01 M215.58 246.56h0.01 M216.08 244.81h0.01 M215.75 253.54h0.01 M217.64 250.84h0.01 M212.84 252.8h0.01 M214.3 259.83h0.01 M218.69 251.42h0.01 M214.35 248.49h0.01 M212.72 250.24h0.01 M217.03 254.58h0.01 M213.53 252.06h0.01 M214.17 252.85h0.01 M216.54 254.04h0.01 M215.16 253.83h0.01 M216.18 255.86h0.01 M215.99 246.84h0.01 M212.34 255.14h0.01 M213.73 255.17h0.01 M218.61 253.53h0.01 M217.78 251.48h0.01 M211.07 251.85h0.01 M217.59 249.35h0.01 M215.65 255.75h0.01 M212.93 255.2h0.01 M222.52 249.23h0.01 M216.51 251.25h0.01 M221.39 253.58h0.01 M219.14 248.55h0.01 M215.94 251.95h0.01 M219.15 243.25h0.01 M218.61 251.34h0.01 M217.57 253.83h0.01 M210.75 250.94h0.01 M221.22 249.13h0.01 M212.42 245.2h0.01 M211.73 253.68h0.01 M221.92 254.15h0.01 M214.18 248.63h0.01 M217.85 254.74h0.01 M212.45 246.15h0.01 M217.02 253.24h0.01 M211.43 250.99h0.01 M214.1 254.3h0.01 M215.59 251.57h0.01 M214.76 257.27h0.01 M220.87 250.17h0.01 M218.96 248.21h0.01 M216.25 255.75h0.01 M221.3 250.09h0.01 M215.74 252.98h0.01 M210.76 252.08h0.01 M213.63 253.86h0.01 M216.13 253.3h0.01 M214.08 256.44h0.01 M215.04 248.97h0.01 M217.67 244.16h0.01 M213.63 251.9h0.01 M218.97 251.19h0.01 M217.08 248.72h0.01 M217.06 260.32h0.01 M213.75 252.09h0.01 M216.61 257.12h0.01 M218.12 255.98h0.01 M216.72 253.27h0.01 M219.25 253.84h0.01 M218.84 250.14h0.01 M215.98 250.73h0.01 M214.25 247.81h0.01 M213.79 255.2h0.01 M216.13 252.33h0.01 M215.39 256.57h0.01 M217.73 251.29h0.01 M218.33 251.24h0.01 M211.96 259.28h0.01 M217.63 247.21h0.01 M219.78 253.72h0.01 M217.17 256.46h0.01 M216.69 251.25h0.01 M210.58 256.86h0.01 M216.11 250.57h0.01" stroke="#6f78e8" stroke-width="0.7" stroke-linecap="round" opacity="0.35"/>
<path d="M210.6 250.5 L212 244.5 L217 240 L221.8 239.5 L222.2 242.5 L219 247.5 L214 251.5 Z" fill="#4656e8" opacity="0.9" filter="url(#b1_2)"/>
<ellipse cx="216.5" cy="244.7" rx="6.5" ry="3.3" fill="#2f3fd8" opacity="0.85" filter="url(#b1_0)" transform="rotate(-40 216.5 244.7)"/>
<ellipse cx="217.6" cy="244.6" rx="2.6" ry="1.3" fill="#3ad8c8" opacity="0.95" filter="url(#b0_6)" transform="rotate(-45 217.6 244.6)"/>
<path d="M210.4 250 L221.5 250 L222 257 L210.4 257 Z" fill="#7a84ec" opacity="0.45" filter="url(#b1_2)"/>
<ellipse cx="216.2" cy="259.5" rx="6.2" ry="2.4" fill="#4656e8" opacity="0.95" filter="url(#b1_0)" transform="rotate(0 216.2 259.5)"/>
<ellipse cx="213.8" cy="259.6" rx="3.8" ry="1.5" fill="#3cc83c" opacity="0.95" filter="url(#b0_7)" transform="rotate(0 213.8 259.6)"/>
<ellipse cx="219.5" cy="258.6" rx="2.2" ry="1.1" fill="#35b8d0" opacity="0.8" filter="url(#b0_5)" transform="rotate(0 219.5 258.6)"/>
<ellipse cx="215.3" cy="259.6" rx="1.6" ry="1" fill="#d8e020" opacity="0.9" filter="url(#b0_4)" transform="rotate(0 215.3 259.6)"/>
<ellipse cx="215.3" cy="259.6" rx="1" ry="0.75" fill="#f02a12" opacity="1" filter="url(#b0_3)" transform="rotate(0 215.3 259.6)"/>
<rect x="211.3" y="235.2" width="14.1" height="14.7" fill="none" stroke="#888" stroke-width="0.6"/>
<text x="217.2" y="231.2" font-size="2.7" text-anchor="middle" fill="#777" color="#777" class="ns" textLength="16" lengthAdjust="spacingAndGlyphs">CD8a PD-1 subset</text>
<text x="217.3" y="233.4" font-size="2.5" text-anchor="middle" fill="#999" color="#999" class="ns" textLength="3.6" lengthAdjust="spacingAndGlyphs">27.3</text>
<line x1="181.8" y1="240.86" x2="183.4" y2="240.86" stroke="#111" stroke-width="0.5" />
<line x1="181.8" y1="237.64" x2="183.4" y2="237.64" stroke="#111" stroke-width="0.5" />
<line x1="181.8" y1="235.76" x2="183.4" y2="235.76" stroke="#111" stroke-width="0.5" />
<line x1="181.8" y1="234.42" x2="183.4" y2="234.42" stroke="#111" stroke-width="0.5" />
<line x1="181.8" y1="233.38" x2="183.4" y2="233.38" stroke="#111" stroke-width="0.5" />
<line x1="181.8" y1="232.53" x2="183.4" y2="232.53" stroke="#111" stroke-width="0.5" />
<line x1="181.8" y1="231.82" x2="183.4" y2="231.82" stroke="#111" stroke-width="0.5" />
<line x1="181.8" y1="231.2" x2="183.4" y2="231.2" stroke="#111" stroke-width="0.5" />
<line x1="181.8" y1="230.65" x2="183.4" y2="230.65" stroke="#111" stroke-width="0.5" />
<line x1="181.8" y1="252.68" x2="183.4" y2="252.68" stroke="#111" stroke-width="0.5" />
<line x1="181.8" y1="249.13" x2="183.4" y2="249.13" stroke="#111" stroke-width="0.5" />
<line x1="181.8" y1="247.04" x2="183.4" y2="247.04" stroke="#111" stroke-width="0.5" />
<line x1="181.8" y1="245.57" x2="183.4" y2="245.57" stroke="#111" stroke-width="0.5" />
<line x1="181.8" y1="244.42" x2="183.4" y2="244.42" stroke="#111" stroke-width="0.5" />
<line x1="181.8" y1="243.49" x2="183.4" y2="243.49" stroke="#111" stroke-width="0.5" />
<line x1="181.8" y1="242.69" x2="183.4" y2="242.69" stroke="#111" stroke-width="0.5" />
<line x1="181.8" y1="242.01" x2="183.4" y2="242.01" stroke="#111" stroke-width="0.5" />
<line x1="181.8" y1="241.4" x2="183.4" y2="241.4" stroke="#111" stroke-width="0.5" />
<line x1="181.8" y1="260.04" x2="183.4" y2="260.04" stroke="#111" stroke-width="0.5" />
<line x1="181.8" y1="257.83" x2="183.4" y2="257.83" stroke="#111" stroke-width="0.5" />
<line x1="181.8" y1="256.53" x2="183.4" y2="256.53" stroke="#111" stroke-width="0.5" />
<line x1="181.8" y1="255.61" x2="183.4" y2="255.61" stroke="#111" stroke-width="0.5" />
<line x1="181.8" y1="254.9" x2="183.4" y2="254.9" stroke="#111" stroke-width="0.5" />
<line x1="181.8" y1="254.32" x2="183.4" y2="254.32" stroke="#111" stroke-width="0.5" />
<line x1="181.8" y1="253.82" x2="183.4" y2="253.82" stroke="#111" stroke-width="0.5" />
<line x1="181.8" y1="253.4" x2="183.4" y2="253.4" stroke="#111" stroke-width="0.5" />
<line x1="181.8" y1="253.02" x2="183.4" y2="253.02" stroke="#111" stroke-width="0.5" />
<line x1="181.8" y1="268.07" x2="183.4" y2="268.07" stroke="#111" stroke-width="0.5" />
<line x1="181.8" y1="265.65" x2="183.4" y2="265.65" stroke="#111" stroke-width="0.5" />
<line x1="181.8" y1="264.24" x2="183.4" y2="264.24" stroke="#111" stroke-width="0.5" />
<line x1="181.8" y1="263.24" x2="183.4" y2="263.24" stroke="#111" stroke-width="0.5" />
<line x1="181.8" y1="262.46" x2="183.4" y2="262.46" stroke="#111" stroke-width="0.5" />
<line x1="181.8" y1="261.82" x2="183.4" y2="261.82" stroke="#111" stroke-width="0.5" />
<line x1="181.8" y1="261.29" x2="183.4" y2="261.29" stroke="#111" stroke-width="0.5" />
<line x1="181.8" y1="260.82" x2="183.4" y2="260.82" stroke="#111" stroke-width="0.5" />
<line x1="181.8" y1="260.41" x2="183.4" y2="260.41" stroke="#111" stroke-width="0.5" />
<line x1="180.8" y1="230.16" x2="183.4" y2="230.16" stroke="#111" stroke-width="0.8" />
<line x1="180.8" y1="240.86" x2="183.4" y2="240.86" stroke="#111" stroke-width="0.8" />
<line x1="180.8" y1="252.68" x2="183.4" y2="252.68" stroke="#111" stroke-width="0.8" />
<line x1="180.8" y1="260.04" x2="183.4" y2="260.04" stroke="#111" stroke-width="0.8" />
<line x1="180.8" y1="268.07" x2="183.4" y2="268.07" stroke="#111" stroke-width="0.8" />
<line x1="186.18" y1="270.3" x2="186.18" y2="271.9" stroke="#111" stroke-width="0.5" />
<line x1="188.7" y1="270.3" x2="188.7" y2="271.9" stroke="#111" stroke-width="0.5" />
<line x1="190.17" y1="270.3" x2="190.17" y2="271.9" stroke="#111" stroke-width="0.5" />
<line x1="191.21" y1="270.3" x2="191.21" y2="271.9" stroke="#111" stroke-width="0.5" />
<line x1="192.02" y1="270.3" x2="192.02" y2="271.9" stroke="#111" stroke-width="0.5" />
<line x1="192.68" y1="270.3" x2="192.68" y2="271.9" stroke="#111" stroke-width="0.5" />
<line x1="193.24" y1="270.3" x2="193.24" y2="271.9" stroke="#111" stroke-width="0.5" />
<line x1="193.73" y1="270.3" x2="193.73" y2="271.9" stroke="#111" stroke-width="0.5" />
<line x1="194.15" y1="270.3" x2="194.15" y2="271.9" stroke="#111" stroke-width="0.5" />
<line x1="194.54" y1="270.3" x2="194.54" y2="271.9" stroke="#111" stroke-width="0.5" />
<line x1="196.35" y1="270.3" x2="196.35" y2="271.9" stroke="#111" stroke-width="0.5" />
<line x1="197.41" y1="270.3" x2="197.41" y2="271.9" stroke="#111" stroke-width="0.5" />
<line x1="198.17" y1="270.3" x2="198.17" y2="271.9" stroke="#111" stroke-width="0.5" />
<line x1="198.75" y1="270.3" x2="198.75" y2="271.9" stroke="#111" stroke-width="0.5" />
<line x1="199.23" y1="270.3" x2="199.23" y2="271.9" stroke="#111" stroke-width="0.5" />
<line x1="199.63" y1="270.3" x2="199.63" y2="271.9" stroke="#111" stroke-width="0.5" />
<line x1="199.98" y1="270.3" x2="199.98" y2="271.9" stroke="#111" stroke-width="0.5" />
<line x1="200.29" y1="270.3" x2="200.29" y2="271.9" stroke="#111" stroke-width="0.5" />
<line x1="200.57" y1="270.3" x2="200.57" y2="271.9" stroke="#111" stroke-width="0.5" />
<line x1="204.41" y1="270.3" x2="204.41" y2="271.9" stroke="#111" stroke-width="0.5" />
<line x1="206.66" y1="270.3" x2="206.66" y2="271.9" stroke="#111" stroke-width="0.5" />
<line x1="208.25" y1="270.3" x2="208.25" y2="271.9" stroke="#111" stroke-width="0.5" />
<line x1="209.49" y1="270.3" x2="209.49" y2="271.9" stroke="#111" stroke-width="0.5" />
<line x1="210.5" y1="270.3" x2="210.5" y2="271.9" stroke="#111" stroke-width="0.5" />
<line x1="211.35" y1="270.3" x2="211.35" y2="271.9" stroke="#111" stroke-width="0.5" />
<line x1="212.09" y1="270.3" x2="212.09" y2="271.9" stroke="#111" stroke-width="0.5" />
<line x1="212.74" y1="270.3" x2="212.74" y2="271.9" stroke="#111" stroke-width="0.5" />
<line x1="213.33" y1="270.3" x2="213.33" y2="271.9" stroke="#111" stroke-width="0.5" />
<line x1="216.75" y1="270.3" x2="216.75" y2="271.9" stroke="#111" stroke-width="0.5" />
<line x1="218.75" y1="270.3" x2="218.75" y2="271.9" stroke="#111" stroke-width="0.5" />
<line x1="220.17" y1="270.3" x2="220.17" y2="271.9" stroke="#111" stroke-width="0.5" />
<line x1="221.27" y1="270.3" x2="221.27" y2="271.9" stroke="#111" stroke-width="0.5" />
<line x1="222.17" y1="270.3" x2="222.17" y2="271.9" stroke="#111" stroke-width="0.5" />
<line x1="222.94" y1="270.3" x2="222.94" y2="271.9" stroke="#111" stroke-width="0.5" />
<line x1="223.59" y1="270.3" x2="223.59" y2="271.9" stroke="#111" stroke-width="0.5" />
<line x1="224.18" y1="270.3" x2="224.18" y2="271.9" stroke="#111" stroke-width="0.5" />
<line x1="186.18" y1="270.3" x2="186.18" y2="272.9" stroke="#111" stroke-width="0.8" />
<line x1="194.54" y1="270.3" x2="194.54" y2="272.9" stroke="#111" stroke-width="0.8" />
<line x1="200.57" y1="270.3" x2="200.57" y2="272.9" stroke="#111" stroke-width="0.8" />
<line x1="213.33" y1="270.3" x2="213.33" y2="272.9" stroke="#111" stroke-width="0.8" />
<line x1="224.7" y1="270.3" x2="224.7" y2="272.9" stroke="#111" stroke-width="0.8" />
<rect x="181.2" y="258.26" width="2.2" height="3.57" fill="#111" />
<rect x="195.46" y="270.3" width="3.71" height="2" fill="#111" />
<text x="179.8" y="231.76" font-size="4.68" text-anchor="end" fill="#555" color="#555" class="ns" textLength="6.28" lengthAdjust="spacingAndGlyphs">10³</text>
<text x="179.8" y="242.46" font-size="4.68" text-anchor="end" fill="#555" color="#555" class="ns" textLength="6.28" lengthAdjust="spacingAndGlyphs">10²</text>
<text x="179.8" y="254.28" font-size="4.68" text-anchor="end" fill="#555" color="#555" class="ns" textLength="6.28" lengthAdjust="spacingAndGlyphs">10¹</text>
<text x="179.8" y="261.64" font-size="4.68" text-anchor="end" fill="#555" color="#555" class="ns" textLength="2.42" lengthAdjust="spacingAndGlyphs">0</text>
<text x="179.8" y="269.67" font-size="4.68" text-anchor="end" fill="#555" color="#555" class="ns" textLength="7.72" lengthAdjust="spacingAndGlyphs">-10¹</text>
<text x="186.18" y="278.7" font-size="4.68" text-anchor="middle" fill="#555" color="#555" class="ns" textLength="7.72" lengthAdjust="spacingAndGlyphs">-10¹</text>
<text x="194.54" y="278.7" font-size="4.68" text-anchor="middle" fill="#555" color="#555" class="ns" textLength="2.42" lengthAdjust="spacingAndGlyphs">0</text>
<text x="200.57" y="278.7" font-size="4.68" text-anchor="middle" fill="#555" color="#555" class="ns" textLength="6.28" lengthAdjust="spacingAndGlyphs">10¹</text>
<text x="213.33" y="278.7" font-size="4.68" text-anchor="middle" fill="#555" color="#555" class="ns" textLength="6.28" lengthAdjust="spacingAndGlyphs">10²</text>
<text x="224.7" y="278.7" font-size="4.68" text-anchor="middle" fill="#555" color="#555" class="ns" textLength="6.28" lengthAdjust="spacingAndGlyphs">10³</text>
<rect x="183.4" y="225.7" width="46.4" height="44.6" fill="none" stroke="#111" stroke-width="1.3"/>
<path d="M148.93 307.01h0.01 M150.72 304.09h0.01 M144.67 310.89h0.01 M154.35 304.13h0.01 M146.33 316.79h0.01 M145.21 311.27h0.01 M156.23 306.76h0.01 M153.75 301.88h0.01 M148.14 306h0.01 M147.63 313.84h0.01 M143.84 309.73h0.01 M141.2 309.73h0.01 M150.15 304.7h0.01 M149.92 296.43h0.01 M151.18 296.46h0.01 M143.17 302.88h0.01 M144.79 312.08h0.01 M147.45 303.92h0.01 M149.99 316.78h0.01 M147.03 308.88h0.01 M153.82 308.24h0.01 M146.78 309.21h0.01 M152.31 310.85h0.01 M145.5 299.65h0.01 M147.57 313.22h0.01 M141.01 299.82h0.01 M145.57 303.66h0.01 M149.48 301.94h0.01 M142.15 303.94h0.01 M146.73 302.18h0.01 M147.07 311.38h0.01 M142.69 303.77h0.01 M143.01 306.28h0.01 M149.87 297.67h0.01 M149.55 306.33h0.01 M151.44 307.86h0.01 M149.61 309.37h0.01 M154.17 305.05h0.01 M151.8 303.84h0.01 M151 301.21h0.01 M146.4 317.75h0.01 M149.45 305.47h0.01 M140.7 301.36h0.01 M148.07 312.61h0.01 M149.34 309.91h0.01 M146.77 315.29h0.01 M144.85 302.93h0.01 M151.88 306.91h0.01 M145.47 302.76h0.01 M145.59 310.55h0.01 M148.95 298.64h0.01 M149.34 307.66h0.01 M141.5 311.52h0.01 M145.46 304.32h0.01 M151.38 315.08h0.01 M143.21 309.35h0.01 M144.28 314.27h0.01 M143.44 311.77h0.01 M144.61 309.75h0.01 M146.49 302.15h0.01 M143.82 307.44h0.01 M153.94 307.27h0.01 M153.5 311.31h0.01 M142.51 312.09h0.01 M149.73 310.71h0.01 M151.95 311.27h0.01 M147.93 309.7h0.01 M145.19 306.73h0.01 M151.87 303.62h0.01 M153.31 301.38h0.01 M148.47 303.07h0.01 M147.87 302.01h0.01 M138.21 313.61h0.01 M148.67 302.87h0.01 M148.11 312.94h0.01 M141.62 305.78h0.01 M149.97 309.92h0.01 M153.84 308.63h0.01 M147.07 304.69h0.01 M148.45 303.73h0.01 M141.36 301.69h0.01 M143.72 302.52h0.01 M140.63 310.64h0.01 M139.8 310.79h0.01 M141.42 308.79h0.01 M154.56 307.82h0.01 M142.98 306.81h0.01 M147.81 295.23h0.01 M143.66 307.56h0.01 M144.42 307.02h0.01 M151.04 311.48h0.01 M151.98 310.33h0.01 M145.42 306.38h0.01 M145.51 304.46h0.01 M146.01 295.29h0.01 M145.17 306.34h0.01 M141.64 306.34h0.01 M149.84 305.43h0.01 M149.85 304.53h0.01 M151.69 308.92h0.01 M147.13 302.68h0.01 M150.51 303.34h0.01 M148.23 303.18h0.01 M148.11 311.4h0.01 M142.18 306.28h0.01 M150.39 307.45h0.01 M151.71 316.44h0.01 M152.07 311.79h0.01 M143.6 301.86h0.01 M151.89 300.57h0.01 M143.22 301.76h0.01 M148.27 301.63h0.01 M154.21 305.99h0.01 M141.03 315.01h0.01 M143.79 307.94h0.01 M146.93 304.46h0.01 M148.79 302h0.01 M140.03 301.57h0.01 M146.87 306.86h0.01 M150.06 307.28h0.01 M142.64 301.89h0.01 M149.67 309.94h0.01 M146.33 305.37h0.01 M152.15 306.6h0.01 M151.06 310.29h0.01 M148.17 314.99h0.01 M143.85 304.17h0.01 M142.56 301.32h0.01 M147.13 310.19h0.01 M153.46 311.75h0.01 M153.63 298.29h0.01 M143.48 309.44h0.01 M154.89 307.18h0.01 M142.28 304.2h0.01 M143.37 300.92h0.01 M155.26 302.43h0.01 M153.52 308.68h0.01 M143.63 309.17h0.01 M155.92 310.55h0.01 M153.94 307.14h0.01 M149.84 305.19h0.01 M149.35 314.95h0.01 M139.13 306.09h0.01 M148.32 302.79h0.01 M145.31 311.61h0.01 M148.79 296.42h0.01 M157.6 307h0.01 M146.81 299.23h0.01 M146.69 299.38h0.01 M147.39 309.53h0.01 M147.17 308.32h0.01 M142.31 315.79h0.01 M145.97 301.54h0.01 M141.45 304.19h0.01 M148.6 298.82h0.01 M146.24 315.77h0.01 M150.76 305.51h0.01 M147.7 305.72h0.01 M146.74 311.26h0.01 M146.88 300.72h0.01 M150.58 302.53h0.01 M141.24 299.19h0.01 M138.85 310.51h0.01 M142.74 304.12h0.01 M148.82 315.32h0.01 M147.79 307.7h0.01 M145.29 309.48h0.01 M148.58 306.84h0.01 M144.25 297.88h0.01 M144.06 296.46h0.01 M153.73 309.99h0.01 M140.37 315.57h0.01 M149.92 309.25h0.01 M148.11 307.61h0.01 M152.79 296.79h0.01 M140.17 297.44h0.01 M143.93 302.56h0.01 M149.02 308.23h0.01 M147.17 302.1h0.01 M144.57 312.69h0.01 M151.2 307.16h0.01 M145.23 316.59h0.01 M143.73 310.72h0.01 M153.34 304.77h0.01 M151.54 299.25h0.01 M152.57 307.8h0.01 M138.27 310.85h0.01 M142.09 314.83h0.01 M143.27 305.43h0.01 M148.56 304.34h0.01 M148.43 302.9h0.01 M150.7 306.54h0.01 M153.39 306.71h0.01 M149.57 313.46h0.01 M141.05 316.56h0.01 M146.2 310.92h0.01 M144.98 299.25h0.01 M153.03 312.39h0.01 M155.46 312.07h0.01 M143.85 295.69h0.01 M143.42 302.11h0.01 M142.52 310.29h0.01 M148.8 304.75h0.01 M147.95 305.55h0.01 M148.17 311.39h0.01 M152.28 302.04h0.01 M147.63 313.69h0.01 M147.15 297.13h0.01 M144.16 311.21h0.01 M152.93 316.86h0.01 M142.25 297.39h0.01 M149.86 312.61h0.01 M148.06 298.04h0.01 M151.3 311.65h0.01 M150.04 303.33h0.01 M148.67 311.64h0.01 M148.81 309.63h0.01 M147.07 312.28h0.01 M143.77 305.97h0.01 M145.32 310.21h0.01" stroke="#5f6ae4" stroke-width="0.7" stroke-linecap="round" opacity="0.45"/>
<path d="M138.5 313.5 L146 312 L152 308.5 L156.5 309.5 L157 316.8 L138.5 316.8 Z" fill="#4656e8" opacity="0.75" filter="url(#b1_2)"/>
<ellipse cx="151.3" cy="314.8" rx="4.8" ry="2.6" fill="#2f3fd8" opacity="0.9" filter="url(#b0_9)" transform="rotate(0 151.3 314.8)"/>
<ellipse cx="151.3" cy="315" rx="3" ry="1.6" fill="#3cc83c" opacity="1" filter="url(#b0_5)" transform="rotate(0 151.3 315)"/>
<ellipse cx="151.5" cy="315.2" rx="1.6" ry="1" fill="#d8e020" opacity="1" filter="url(#b0_4)" transform="rotate(0 151.5 315.2)"/>
<ellipse cx="151.6" cy="315.3" rx="1" ry="0.7" fill="#f02a12" opacity="1" filter="url(#b0_3)" transform="rotate(0 151.6 315.3)"/>
<rect x="144.4" y="283.9" width="15.7" height="18.7" fill="none" stroke="#888" stroke-width="0.6"/>
<rect x="150.05" y="282.3" width="4.4" height="2.2" fill="#fff" />
<text x="152.25" y="284.2" font-size="2.5" text-anchor="middle" fill="#888" color="#888" class="ns" textLength="3.4" lengthAdjust="spacingAndGlyphs">PD1</text>
<text x="152.25" y="286.7" font-size="2.5" text-anchor="middle" fill="#777" color="#777" class="ns" textLength="3.6" lengthAdjust="spacingAndGlyphs">4.06</text>
<line x1="118.8" y1="295.83" x2="120.4" y2="295.83" stroke="#111" stroke-width="0.5" />
<line x1="118.8" y1="292.6" x2="120.4" y2="292.6" stroke="#111" stroke-width="0.5" />
<line x1="118.8" y1="290.7" x2="120.4" y2="290.7" stroke="#111" stroke-width="0.5" />
<line x1="118.8" y1="289.36" x2="120.4" y2="289.36" stroke="#111" stroke-width="0.5" />
<line x1="118.8" y1="288.32" x2="120.4" y2="288.32" stroke="#111" stroke-width="0.5" />
<line x1="118.8" y1="287.47" x2="120.4" y2="287.47" stroke="#111" stroke-width="0.5" />
<line x1="118.8" y1="286.75" x2="120.4" y2="286.75" stroke="#111" stroke-width="0.5" />
<line x1="118.8" y1="286.12" x2="120.4" y2="286.12" stroke="#111" stroke-width="0.5" />
<line x1="118.8" y1="285.57" x2="120.4" y2="285.57" stroke="#111" stroke-width="0.5" />
<line x1="118.8" y1="307.7" x2="120.4" y2="307.7" stroke="#111" stroke-width="0.5" />
<line x1="118.8" y1="304.13" x2="120.4" y2="304.13" stroke="#111" stroke-width="0.5" />
<line x1="118.8" y1="302.04" x2="120.4" y2="302.04" stroke="#111" stroke-width="0.5" />
<line x1="118.8" y1="300.56" x2="120.4" y2="300.56" stroke="#111" stroke-width="0.5" />
<line x1="118.8" y1="299.41" x2="120.4" y2="299.41" stroke="#111" stroke-width="0.5" />
<line x1="118.8" y1="298.47" x2="120.4" y2="298.47" stroke="#111" stroke-width="0.5" />
<line x1="118.8" y1="297.67" x2="120.4" y2="297.67" stroke="#111" stroke-width="0.5" />
<line x1="118.8" y1="296.98" x2="120.4" y2="296.98" stroke="#111" stroke-width="0.5" />
<line x1="118.8" y1="296.38" x2="120.4" y2="296.38" stroke="#111" stroke-width="0.5" />
<line x1="118.8" y1="315.1" x2="120.4" y2="315.1" stroke="#111" stroke-width="0.5" />
<line x1="118.8" y1="312.87" x2="120.4" y2="312.87" stroke="#111" stroke-width="0.5" />
<line x1="118.8" y1="311.57" x2="120.4" y2="311.57" stroke="#111" stroke-width="0.5" />
<line x1="118.8" y1="310.65" x2="120.4" y2="310.65" stroke="#111" stroke-width="0.5" />
<line x1="118.8" y1="309.93" x2="120.4" y2="309.93" stroke="#111" stroke-width="0.5" />
<line x1="118.8" y1="309.34" x2="120.4" y2="309.34" stroke="#111" stroke-width="0.5" />
<line x1="118.8" y1="308.85" x2="120.4" y2="308.85" stroke="#111" stroke-width="0.5" />
<line x1="118.8" y1="308.42" x2="120.4" y2="308.42" stroke="#111" stroke-width="0.5" />
<line x1="118.8" y1="308.04" x2="120.4" y2="308.04" stroke="#111" stroke-width="0.5" />
<line x1="118.8" y1="323.16" x2="120.4" y2="323.16" stroke="#111" stroke-width="0.5" />
<line x1="118.8" y1="320.73" x2="120.4" y2="320.73" stroke="#111" stroke-width="0.5" />
<line x1="118.8" y1="319.31" x2="120.4" y2="319.31" stroke="#111" stroke-width="0.5" />
<line x1="118.8" y1="318.3" x2="120.4" y2="318.3" stroke="#111" stroke-width="0.5" />
<line x1="118.8" y1="317.52" x2="120.4" y2="317.52" stroke="#111" stroke-width="0.5" />
<line x1="118.8" y1="316.88" x2="120.4" y2="316.88" stroke="#111" stroke-width="0.5" />
<line x1="118.8" y1="316.35" x2="120.4" y2="316.35" stroke="#111" stroke-width="0.5" />
<line x1="118.8" y1="315.88" x2="120.4" y2="315.88" stroke="#111" stroke-width="0.5" />
<line x1="118.8" y1="315.46" x2="120.4" y2="315.46" stroke="#111" stroke-width="0.5" />
<line x1="117.8" y1="285.08" x2="120.4" y2="285.08" stroke="#111" stroke-width="0.8" />
<line x1="117.8" y1="295.83" x2="120.4" y2="295.83" stroke="#111" stroke-width="0.8" />
<line x1="117.8" y1="307.7" x2="120.4" y2="307.7" stroke="#111" stroke-width="0.8" />
<line x1="117.8" y1="315.1" x2="120.4" y2="315.1" stroke="#111" stroke-width="0.8" />
<line x1="117.8" y1="323.16" x2="120.4" y2="323.16" stroke="#111" stroke-width="0.8" />
<line x1="123.18" y1="325.4" x2="123.18" y2="327" stroke="#111" stroke-width="0.5" />
<line x1="125.7" y1="325.4" x2="125.7" y2="327" stroke="#111" stroke-width="0.5" />
<line x1="127.17" y1="325.4" x2="127.17" y2="327" stroke="#111" stroke-width="0.5" />
<line x1="128.21" y1="325.4" x2="128.21" y2="327" stroke="#111" stroke-width="0.5" />
<line x1="129.02" y1="325.4" x2="129.02" y2="327" stroke="#111" stroke-width="0.5" />
<line x1="129.68" y1="325.4" x2="129.68" y2="327" stroke="#111" stroke-width="0.5" />
<line x1="130.24" y1="325.4" x2="130.24" y2="327" stroke="#111" stroke-width="0.5" />
<line x1="130.73" y1="325.4" x2="130.73" y2="327" stroke="#111" stroke-width="0.5" />
<line x1="131.15" y1="325.4" x2="131.15" y2="327" stroke="#111" stroke-width="0.5" />
<line x1="131.54" y1="325.4" x2="131.54" y2="327" stroke="#111" stroke-width="0.5" />
<line x1="133.35" y1="325.4" x2="133.35" y2="327" stroke="#111" stroke-width="0.5" />
<line x1="134.41" y1="325.4" x2="134.41" y2="327" stroke="#111" stroke-width="0.5" />
<line x1="135.17" y1="325.4" x2="135.17" y2="327" stroke="#111" stroke-width="0.5" />
<line x1="135.75" y1="325.4" x2="135.75" y2="327" stroke="#111" stroke-width="0.5" />
<line x1="136.23" y1="325.4" x2="136.23" y2="327" stroke="#111" stroke-width="0.5" />
<line x1="136.63" y1="325.4" x2="136.63" y2="327" stroke="#111" stroke-width="0.5" />
<line x1="136.98" y1="325.4" x2="136.98" y2="327" stroke="#111" stroke-width="0.5" />
<line x1="137.29" y1="325.4" x2="137.29" y2="327" stroke="#111" stroke-width="0.5" />
<line x1="137.57" y1="325.4" x2="137.57" y2="327" stroke="#111" stroke-width="0.5" />
<line x1="141.41" y1="325.4" x2="141.41" y2="327" stroke="#111" stroke-width="0.5" />
<line x1="143.66" y1="325.4" x2="143.66" y2="327" stroke="#111" stroke-width="0.5" />
<line x1="145.25" y1="325.4" x2="145.25" y2="327" stroke="#111" stroke-width="0.5" />
<line x1="146.49" y1="325.4" x2="146.49" y2="327" stroke="#111" stroke-width="0.5" />
<line x1="147.5" y1="325.4" x2="147.5" y2="327" stroke="#111" stroke-width="0.5" />
<line x1="148.35" y1="325.4" x2="148.35" y2="327" stroke="#111" stroke-width="0.5" />
<line x1="149.09" y1="325.4" x2="149.09" y2="327" stroke="#111" stroke-width="0.5" />
<line x1="149.74" y1="325.4" x2="149.74" y2="327" stroke="#111" stroke-width="0.5" />
<line x1="150.33" y1="325.4" x2="150.33" y2="327" stroke="#111" stroke-width="0.5" />
<line x1="153.75" y1="325.4" x2="153.75" y2="327" stroke="#111" stroke-width="0.5" />
<line x1="155.75" y1="325.4" x2="155.75" y2="327" stroke="#111" stroke-width="0.5" />
<line x1="157.17" y1="325.4" x2="157.17" y2="327" stroke="#111" stroke-width="0.5" />
<line x1="158.27" y1="325.4" x2="158.27" y2="327" stroke="#111" stroke-width="0.5" />
<line x1="159.17" y1="325.4" x2="159.17" y2="327" stroke="#111" stroke-width="0.5" />
<line x1="159.94" y1="325.4" x2="159.94" y2="327" stroke="#111" stroke-width="0.5" />
<line x1="160.59" y1="325.4" x2="160.59" y2="327" stroke="#111" stroke-width="0.5" />
<line x1="161.18" y1="325.4" x2="161.18" y2="327" stroke="#111" stroke-width="0.5" />
<line x1="123.18" y1="325.4" x2="123.18" y2="328" stroke="#111" stroke-width="0.8" />
<line x1="131.54" y1="325.4" x2="131.54" y2="328" stroke="#111" stroke-width="0.8" />
<line x1="137.57" y1="325.4" x2="137.57" y2="328" stroke="#111" stroke-width="0.8" />
<line x1="150.33" y1="325.4" x2="150.33" y2="328" stroke="#111" stroke-width="0.8" />
<line x1="161.7" y1="325.4" x2="161.7" y2="328" stroke="#111" stroke-width="0.8" />
<rect x="118.2" y="313.3" width="2.2" height="3.58" fill="#111" />
<rect x="132.46" y="325.4" width="3.71" height="2" fill="#111" />
<text x="116.8" y="286.68" font-size="4.68" text-anchor="end" fill="#555" color="#555" class="ns" textLength="6.28" lengthAdjust="spacingAndGlyphs">10³</text>
<text x="116.8" y="297.43" font-size="4.68" text-anchor="end" fill="#555" color="#555" class="ns" textLength="6.28" lengthAdjust="spacingAndGlyphs">10²</text>
<text x="116.8" y="309.3" font-size="4.68" text-anchor="end" fill="#555" color="#555" class="ns" textLength="6.28" lengthAdjust="spacingAndGlyphs">10¹</text>
<text x="116.8" y="316.7" font-size="4.68" text-anchor="end" fill="#555" color="#555" class="ns" textLength="2.42" lengthAdjust="spacingAndGlyphs">0</text>
<text x="116.8" y="324.76" font-size="4.68" text-anchor="end" fill="#555" color="#555" class="ns" textLength="7.72" lengthAdjust="spacingAndGlyphs">-10¹</text>
<text x="123.18" y="333.8" font-size="4.68" text-anchor="middle" fill="#555" color="#555" class="ns" textLength="7.72" lengthAdjust="spacingAndGlyphs">-10¹</text>
<text x="131.54" y="333.8" font-size="4.68" text-anchor="middle" fill="#555" color="#555" class="ns" textLength="2.42" lengthAdjust="spacingAndGlyphs">0</text>
<text x="137.57" y="333.8" font-size="4.68" text-anchor="middle" fill="#555" color="#555" class="ns" textLength="6.28" lengthAdjust="spacingAndGlyphs">10¹</text>
<text x="150.33" y="333.8" font-size="4.68" text-anchor="middle" fill="#555" color="#555" class="ns" textLength="6.28" lengthAdjust="spacingAndGlyphs">10²</text>
<text x="161.7" y="333.8" font-size="4.68" text-anchor="middle" fill="#555" color="#555" class="ns" textLength="6.28" lengthAdjust="spacingAndGlyphs">10³</text>
<rect x="120.4" y="280.6" width="46.4" height="44.8" fill="none" stroke="#111" stroke-width="1.3"/>
<path d="M217.53 305.23h0.01 M214.64 296.16h0.01 M216.51 309.4h0.01 M216.7 304.33h0.01 M214.36 302.93h0.01 M210.44 307.77h0.01 M213.69 295.92h0.01 M212.6 297.46h0.01 M217.74 307.82h0.01 M210.66 307.09h0.01 M217.84 298.81h0.01 M210.24 297.9h0.01 M212.97 303.88h0.01 M215.75 293.56h0.01 M217.9 295.36h0.01 M212.78 297.3h0.01 M213.26 309.14h0.01 M217.73 305.31h0.01 M216.02 293.49h0.01 M213.33 298.97h0.01 M211.87 304.8h0.01 M212.63 298.1h0.01 M216.9 309.32h0.01 M215.56 296.63h0.01 M218.89 303.63h0.01 M217.97 310.13h0.01 M218.61 299.57h0.01 M218.37 306.27h0.01 M210.08 299.77h0.01 M210.44 301.4h0.01 M216.85 296.13h0.01 M216.21 310.09h0.01 M210.76 307.83h0.01 M214.33 303.48h0.01 M214.51 307.49h0.01 M218.32 302.48h0.01 M210.65 306.08h0.01 M213.5 305.46h0.01 M215.84 310.93h0.01 M218.64 299.52h0.01 M213.28 304.38h0.01 M218.81 308.91h0.01 M216.66 294.74h0.01 M210.96 303.36h0.01 M212.24 308.26h0.01 M217.47 292.81h0.01 M212.38 302.91h0.01 M213.42 301.15h0.01 M216.5 297.55h0.01 M216.49 298.5h0.01 M213.26 304.95h0.01 M213.16 303.58h0.01 M214.53 306.04h0.01 M213.83 307.96h0.01 M210.89 305.4h0.01 M213.36 297.61h0.01 M219.65 296.63h0.01 M218.84 310.01h0.01 M214.63 301.29h0.01 M213.65 298.54h0.01 M216.43 303.82h0.01 M213.95 304.6h0.01 M219.67 296.48h0.01" stroke="#6f78e8" stroke-width="0.7" stroke-linecap="round" opacity="0.4"/>
<ellipse cx="214.7" cy="314.3" rx="5.6" ry="3" fill="#3a48e0" opacity="0.95" filter="url(#b1_0)" transform="rotate(0 214.7 314.3)"/>
<ellipse cx="214.8" cy="314.9" rx="3.8" ry="1.9" fill="#2ab0d8" opacity="0.9" filter="url(#b0_7)" transform="rotate(0 214.8 314.9)"/>
<ellipse cx="214.8" cy="315" rx="2.6" ry="1.4" fill="#3cc83c" opacity="1" filter="url(#b0_5)" transform="rotate(0 214.8 315)"/>
<ellipse cx="214.9" cy="315.1" rx="1.5" ry="0.95" fill="#d8e020" opacity="1" filter="url(#b0_4)" transform="rotate(0 214.9 315.1)"/>
<ellipse cx="215" cy="315.1" rx="0.9" ry="0.65" fill="#f02a12" opacity="1" filter="url(#b0_3)" transform="rotate(0 215 315.1)"/>
<rect x="210.9" y="290.3" width="13.9" height="15" fill="none" stroke="#888" stroke-width="0.6"/>
<text x="217" y="286.4" font-size="2.7" text-anchor="middle" fill="#777" color="#777" class="ns" textLength="16" lengthAdjust="spacingAndGlyphs">CD8a PD-1 subset</text>
<text x="217.3" y="288.8" font-size="2.5" text-anchor="middle" fill="#999" color="#999" class="ns" textLength="3.6" lengthAdjust="spacingAndGlyphs">1.34</text>
<line x1="181.8" y1="295.69" x2="183.4" y2="295.69" stroke="#111" stroke-width="0.5" />
<line x1="181.8" y1="292.53" x2="183.4" y2="292.53" stroke="#111" stroke-width="0.5" />
<line x1="181.8" y1="290.68" x2="183.4" y2="290.68" stroke="#111" stroke-width="0.5" />
<line x1="181.8" y1="289.36" x2="183.4" y2="289.36" stroke="#111" stroke-width="0.5" />
<line x1="181.8" y1="288.34" x2="183.4" y2="288.34" stroke="#111" stroke-width="0.5" />
<line x1="181.8" y1="287.51" x2="183.4" y2="287.51" stroke="#111" stroke-width="0.5" />
<line x1="181.8" y1="286.81" x2="183.4" y2="286.81" stroke="#111" stroke-width="0.5" />
<line x1="181.8" y1="286.2" x2="183.4" y2="286.2" stroke="#111" stroke-width="0.5" />
<line x1="181.8" y1="285.66" x2="183.4" y2="285.66" stroke="#111" stroke-width="0.5" />
<line x1="181.8" y1="307.3" x2="183.4" y2="307.3" stroke="#111" stroke-width="0.5" />
<line x1="181.8" y1="303.8" x2="183.4" y2="303.8" stroke="#111" stroke-width="0.5" />
<line x1="181.8" y1="301.76" x2="183.4" y2="301.76" stroke="#111" stroke-width="0.5" />
<line x1="181.8" y1="300.31" x2="183.4" y2="300.31" stroke="#111" stroke-width="0.5" />
<line x1="181.8" y1="299.19" x2="183.4" y2="299.19" stroke="#111" stroke-width="0.5" />
<line x1="181.8" y1="298.27" x2="183.4" y2="298.27" stroke="#111" stroke-width="0.5" />
<line x1="181.8" y1="297.49" x2="183.4" y2="297.49" stroke="#111" stroke-width="0.5" />
<line x1="181.8" y1="296.82" x2="183.4" y2="296.82" stroke="#111" stroke-width="0.5" />
<line x1="181.8" y1="296.22" x2="183.4" y2="296.22" stroke="#111" stroke-width="0.5" />
<line x1="181.8" y1="314.53" x2="183.4" y2="314.53" stroke="#111" stroke-width="0.5" />
<line x1="181.8" y1="312.35" x2="183.4" y2="312.35" stroke="#111" stroke-width="0.5" />
<line x1="181.8" y1="311.08" x2="183.4" y2="311.08" stroke="#111" stroke-width="0.5" />
<line x1="181.8" y1="310.17" x2="183.4" y2="310.17" stroke="#111" stroke-width="0.5" />
<line x1="181.8" y1="309.47" x2="183.4" y2="309.47" stroke="#111" stroke-width="0.5" />
<line x1="181.8" y1="308.9" x2="183.4" y2="308.9" stroke="#111" stroke-width="0.5" />
<line x1="181.8" y1="308.42" x2="183.4" y2="308.42" stroke="#111" stroke-width="0.5" />
<line x1="181.8" y1="308" x2="183.4" y2="308" stroke="#111" stroke-width="0.5" />
<line x1="181.8" y1="307.63" x2="183.4" y2="307.63" stroke="#111" stroke-width="0.5" />
<line x1="181.8" y1="322.41" x2="183.4" y2="322.41" stroke="#111" stroke-width="0.5" />
<line x1="181.8" y1="320.04" x2="183.4" y2="320.04" stroke="#111" stroke-width="0.5" />
<line x1="181.8" y1="318.65" x2="183.4" y2="318.65" stroke="#111" stroke-width="0.5" />
<line x1="181.8" y1="317.66" x2="183.4" y2="317.66" stroke="#111" stroke-width="0.5" />
<line x1="181.8" y1="316.9" x2="183.4" y2="316.9" stroke="#111" stroke-width="0.5" />
<line x1="181.8" y1="316.28" x2="183.4" y2="316.28" stroke="#111" stroke-width="0.5" />
<line x1="181.8" y1="315.75" x2="183.4" y2="315.75" stroke="#111" stroke-width="0.5" />
<line x1="181.8" y1="315.29" x2="183.4" y2="315.29" stroke="#111" stroke-width="0.5" />
<line x1="181.8" y1="314.89" x2="183.4" y2="314.89" stroke="#111" stroke-width="0.5" />
<line x1="180.8" y1="285.18" x2="183.4" y2="285.18" stroke="#111" stroke-width="0.8" />
<line x1="180.8" y1="295.69" x2="183.4" y2="295.69" stroke="#111" stroke-width="0.8" />
<line x1="180.8" y1="307.3" x2="183.4" y2="307.3" stroke="#111" stroke-width="0.8" />
<line x1="180.8" y1="314.53" x2="183.4" y2="314.53" stroke="#111" stroke-width="0.8" />
<line x1="180.8" y1="322.41" x2="183.4" y2="322.41" stroke="#111" stroke-width="0.8" />
<line x1="186.18" y1="324.6" x2="186.18" y2="326.2" stroke="#111" stroke-width="0.5" />
<line x1="188.7" y1="324.6" x2="188.7" y2="326.2" stroke="#111" stroke-width="0.5" />
<line x1="190.17" y1="324.6" x2="190.17" y2="326.2" stroke="#111" stroke-width="0.5" />
<line x1="191.21" y1="324.6" x2="191.21" y2="326.2" stroke="#111" stroke-width="0.5" />
<line x1="192.02" y1="324.6" x2="192.02" y2="326.2" stroke="#111" stroke-width="0.5" />
<line x1="192.68" y1="324.6" x2="192.68" y2="326.2" stroke="#111" stroke-width="0.5" />
<line x1="193.24" y1="324.6" x2="193.24" y2="326.2" stroke="#111" stroke-width="0.5" />
<line x1="193.73" y1="324.6" x2="193.73" y2="326.2" stroke="#111" stroke-width="0.5" />
<line x1="194.15" y1="324.6" x2="194.15" y2="326.2" stroke="#111" stroke-width="0.5" />
<line x1="194.54" y1="324.6" x2="194.54" y2="326.2" stroke="#111" stroke-width="0.5" />
<line x1="196.35" y1="324.6" x2="196.35" y2="326.2" stroke="#111" stroke-width="0.5" />
<line x1="197.41" y1="324.6" x2="197.41" y2="326.2" stroke="#111" stroke-width="0.5" />
<line x1="198.17" y1="324.6" x2="198.17" y2="326.2" stroke="#111" stroke-width="0.5" />
<line x1="198.75" y1="324.6" x2="198.75" y2="326.2" stroke="#111" stroke-width="0.5" />
<line x1="199.23" y1="324.6" x2="199.23" y2="326.2" stroke="#111" stroke-width="0.5" />
<line x1="199.63" y1="324.6" x2="199.63" y2="326.2" stroke="#111" stroke-width="0.5" />
<line x1="199.98" y1="324.6" x2="199.98" y2="326.2" stroke="#111" stroke-width="0.5" />
<line x1="200.29" y1="324.6" x2="200.29" y2="326.2" stroke="#111" stroke-width="0.5" />
<line x1="200.57" y1="324.6" x2="200.57" y2="326.2" stroke="#111" stroke-width="0.5" />
<line x1="204.41" y1="324.6" x2="204.41" y2="326.2" stroke="#111" stroke-width="0.5" />
<line x1="206.66" y1="324.6" x2="206.66" y2="326.2" stroke="#111" stroke-width="0.5" />
<line x1="208.25" y1="324.6" x2="208.25" y2="326.2" stroke="#111" stroke-width="0.5" />
<line x1="209.49" y1="324.6" x2="209.49" y2="326.2" stroke="#111" stroke-width="0.5" />
<line x1="210.5" y1="324.6" x2="210.5" y2="326.2" stroke="#111" stroke-width="0.5" />
<line x1="211.35" y1="324.6" x2="211.35" y2="326.2" stroke="#111" stroke-width="0.5" />
<line x1="212.09" y1="324.6" x2="212.09" y2="326.2" stroke="#111" stroke-width="0.5" />
<line x1="212.74" y1="324.6" x2="212.74" y2="326.2" stroke="#111" stroke-width="0.5" />
<line x1="213.33" y1="324.6" x2="213.33" y2="326.2" stroke="#111" stroke-width="0.5" />
<line x1="216.75" y1="324.6" x2="216.75" y2="326.2" stroke="#111" stroke-width="0.5" />
<line x1="218.75" y1="324.6" x2="218.75" y2="326.2" stroke="#111" stroke-width="0.5" />
<line x1="220.17" y1="324.6" x2="220.17" y2="326.2" stroke="#111" stroke-width="0.5" />
<line x1="221.27" y1="324.6" x2="221.27" y2="326.2" stroke="#111" stroke-width="0.5" />
<line x1="222.17" y1="324.6" x2="222.17" y2="326.2" stroke="#111" stroke-width="0.5" />
<line x1="222.94" y1="324.6" x2="222.94" y2="326.2" stroke="#111" stroke-width="0.5" />
<line x1="223.59" y1="324.6" x2="223.59" y2="326.2" stroke="#111" stroke-width="0.5" />
<line x1="224.18" y1="324.6" x2="224.18" y2="326.2" stroke="#111" stroke-width="0.5" />
<line x1="186.18" y1="324.6" x2="186.18" y2="327.2" stroke="#111" stroke-width="0.8" />
<line x1="194.54" y1="324.6" x2="194.54" y2="327.2" stroke="#111" stroke-width="0.8" />
<line x1="200.57" y1="324.6" x2="200.57" y2="327.2" stroke="#111" stroke-width="0.8" />
<line x1="213.33" y1="324.6" x2="213.33" y2="327.2" stroke="#111" stroke-width="0.8" />
<line x1="224.7" y1="324.6" x2="224.7" y2="327.2" stroke="#111" stroke-width="0.8" />
<rect x="181.2" y="312.77" width="2.2" height="3.5" fill="#111" />
<rect x="195.46" y="324.6" width="3.71" height="2" fill="#111" />
<text x="179.8" y="286.78" font-size="4.68" text-anchor="end" fill="#555" color="#555" class="ns" textLength="6.28" lengthAdjust="spacingAndGlyphs">10³</text>
<text x="179.8" y="297.29" font-size="4.68" text-anchor="end" fill="#555" color="#555" class="ns" textLength="6.28" lengthAdjust="spacingAndGlyphs">10²</text>
<text x="179.8" y="308.9" font-size="4.68" text-anchor="end" fill="#555" color="#555" class="ns" textLength="6.28" lengthAdjust="spacingAndGlyphs">10¹</text>
<text x="179.8" y="316.13" font-size="4.68" text-anchor="end" fill="#555" color="#555" class="ns" textLength="2.42" lengthAdjust="spacingAndGlyphs">0</text>
<text x="179.8" y="324.01" font-size="4.68" text-anchor="end" fill="#555" color="#555" class="ns" textLength="7.72" lengthAdjust="spacingAndGlyphs">-10¹</text>
<text x="186.18" y="333" font-size="4.68" text-anchor="middle" fill="#555" color="#555" class="ns" textLength="7.72" lengthAdjust="spacingAndGlyphs">-10¹</text>
<text x="194.54" y="333" font-size="4.68" text-anchor="middle" fill="#555" color="#555" class="ns" textLength="2.42" lengthAdjust="spacingAndGlyphs">0</text>
<text x="200.57" y="333" font-size="4.68" text-anchor="middle" fill="#555" color="#555" class="ns" textLength="6.28" lengthAdjust="spacingAndGlyphs">10¹</text>
<text x="213.33" y="333" font-size="4.68" text-anchor="middle" fill="#555" color="#555" class="ns" textLength="6.28" lengthAdjust="spacingAndGlyphs">10²</text>
<text x="224.7" y="333" font-size="4.68" text-anchor="middle" fill="#555" color="#555" class="ns" textLength="6.28" lengthAdjust="spacingAndGlyphs">10³</text>
<rect x="183.4" y="280.8" width="46.4" height="43.8" fill="none" stroke="#111" stroke-width="1.3"/>
<text x="137.3" y="366.5" font-size="8.74" text-anchor="middle" fill="#111" color="#111" textLength="14.5" lengthAdjust="spacingAndGlyphs">CD4</text>
<text x="195.5" y="366.5" font-size="8.74" text-anchor="middle" fill="#111" color="#111" textLength="14.6" lengthAdjust="spacingAndGlyphs">CD8</text>
<path d="M148.08 387.84h0.01 M150.22 404.26h0.01 M138.26 396.87h0.01 M145.77 400.16h0.01 M141.9 397.9h0.01 M140.17 398.58h0.01 M134.54 398.92h0.01 M135.43 390.2h0.01 M138.79 401.86h0.01 M148.39 396.66h0.01 M136.14 393.01h0.01 M157.21 397.45h0.01 M134.68 398.2h0.01 M146.8 396.52h0.01 M141.79 390.93h0.01 M136.47 406.89h0.01 M138.67 402.42h0.01 M147.88 402.41h0.01 M135.26 401.52h0.01 M148.07 393.47h0.01 M148.8 392.59h0.01 M137.86 398.16h0.01 M135.28 391.17h0.01 M141.59 401.69h0.01 M142.04 404.18h0.01 M153.03 392.5h0.01 M152.34 398.03h0.01 M150.82 397.02h0.01 M155.46 393.14h0.01 M135.6 391.06h0.01 M155 392.74h0.01 M135.17 393.81h0.01 M140.35 391.6h0.01 M142.07 394.65h0.01 M139.56 393.25h0.01 M145.09 395.17h0.01 M146.16 398.63h0.01 M139.79 394.05h0.01 M151.11 388.93h0.01 M138.45 396.71h0.01 M142.51 402.75h0.01 M141.54 402.71h0.01 M156.14 398.52h0.01 M149.43 397.65h0.01 M148.7 391h0.01 M153.21 393.96h0.01 M153.87 397.01h0.01 M155.02 395.76h0.01 M141.59 399.08h0.01 M140.91 395.19h0.01 M145.99 398.12h0.01 M146.24 398.06h0.01 M143.34 394h0.01 M144.07 394.38h0.01 M140 388.39h0.01 M144.31 395.48h0.01 M134.69 392.87h0.01 M144.65 396.79h0.01 M146.3 395.49h0.01 M140.37 405.53h0.01 M154.85 405.09h0.01 M141.88 397.98h0.01 M137.62 403.14h0.01 M155.55 403.49h0.01 M137.16 403.8h0.01 M138.22 394.41h0.01 M138.03 396.53h0.01 M139.21 389.09h0.01 M139.6 404.04h0.01 M138.54 395.61h0.01 M135.84 403.81h0.01 M147.18 393.43h0.01 M152 396.81h0.01 M134.81 401.7h0.01 M138.38 396.44h0.01 M153.88 389.23h0.01 M143.02 399.45h0.01 M150.4 404.9h0.01 M150.79 395.36h0.01 M139.13 398.86h0.01 M145.43 405.84h0.01 M147.01 391.9h0.01 M145.53 393.82h0.01 M152.74 392.65h0.01 M147.5 400.29h0.01 M151.6 403.89h0.01 M138 403.16h0.01 M136.53 401.88h0.01 M146.73 398.54h0.01 M153.65 396.5h0.01 M155.41 400.81h0.01 M145.92 394.55h0.01 M137.98 395.59h0.01 M143.18 397.57h0.01 M151.43 392.5h0.01 M138.47 396.58h0.01 M146.18 392.17h0.01 M145.08 398.89h0.01 M147.03 400.31h0.01 M147.59 398.04h0.01 M147.65 396.24h0.01 M137.34 395.38h0.01 M145.15 403.96h0.01 M140.22 393.6h0.01 M140.09 398.96h0.01 M145.59 398.83h0.01 M145.18 402.16h0.01 M146.31 396.03h0.01 M147.39 389.55h0.01 M149.8 397.96h0.01 M141.26 394.1h0.01 M151.53 399.55h0.01 M145.07 400.08h0.01 M139.64 398.42h0.01 M145.65 400.22h0.01 M144.3 396.85h0.01 M143.46 394.42h0.01 M151.66 401.01h0.01 M151.28 390.92h0.01 M137.35 399.66h0.01 M148.99 391.95h0.01 M141.35 395.87h0.01 M145.72 399.12h0.01 M141.79 391.62h0.01 M144.59 402.7h0.01 M149.32 400.36h0.01 M148.91 393.25h0.01 M150.67 401.99h0.01 M141.66 394.84h0.01 M137.78 398.84h0.01 M145.06 400.86h0.01 M151.3 399.23h0.01 M147.34 396.2h0.01 M143.47 393.52h0.01 M146.58 397.21h0.01 M147.42 392.95h0.01 M145.38 397.7h0.01 M149.85 391.64h0.01 M149.27 401.99h0.01 M150.15 395.11h0.01 M140.48 396.79h0.01 M152.34 404.54h0.01 M143.25 394.45h0.01 M148.47 398.16h0.01 M136.49 394.69h0.01 M144.44 400.94h0.01 M148.83 390.94h0.01 M146.16 399.15h0.01 M143.47 392.54h0.01 M144.29 395.9h0.01 M147.57 393.01h0.01 M153.89 388.14h0.01 M143.43 397.7h0.01 M153.29 393.57h0.01 M149.59 394.17h0.01 M152.52 405.44h0.01 M141.64 400.08h0.01 M137.21 403.21h0.01 M155.86 396.54h0.01 M135.05 400.57h0.01 M155.85 401.84h0.01 M139.66 405.21h0.01 M134.62 404.28h0.01 M154.85 394.79h0.01 M143.2 397.45h0.01 M151.16 396.13h0.01 M146.94 399.43h0.01 M145.92 406.67h0.01 M149 397.5h0.01 M142.81 394.59h0.01 M157.11 396.98h0.01 M135.05 395.72h0.01 M143.54 395.41h0.01 M154.1 390.7h0.01 M149.48 397.75h0.01 M144.42 400.08h0.01 M141.13 399.43h0.01 M152.57 401.94h0.01 M144.57 394.53h0.01 M138.19 401.59h0.01 M150.3 391.75h0.01 M145.9 392.9h0.01 M145.96 401.93h0.01 M150.97 387.92h0.01 M155.41 398.41h0.01 M145.59 402.7h0.01 M138.9 394.6h0.01 M141.63 397.49h0.01 M135.57 400.93h0.01 M149.9 397.34h0.01 M156.41 393.55h0.01 M146.68 396.44h0.01 M140.25 394.93h0.01 M141.51 394.25h0.01 M139.81 395.41h0.01 M135.46 397.82h0.01 M151.89 395.52h0.01 M141.3 404.71h0.01 M154.23 401.16h0.01 M155.17 394.79h0.01 M144.42 403.16h0.01 M139.98 397.43h0.01 M148.58 399h0.01 M143.04 402.65h0.01 M143.79 401.27h0.01 M154.93 399.77h0.01 M150.96 391.04h0.01 M150.04 404.52h0.01 M136.97 394.66h0.01 M142.89 401.2h0.01 M147.52 403.17h0.01 M136.64 402.85h0.01 M153.36 396.97h0.01 M148.98 394.25h0.01 M135.03 396.51h0.01 M141.52 406.16h0.01 M146.97 398.86h0.01 M151.25 392.93h0.01 M153.4 398.51h0.01 M150.18 399.23h0.01 M149.97 400.74h0.01 M137.57 404.31h0.01 M149.11 391.59h0.01 M143.1 389.43h0.01 M145.03 391.8h0.01 M147.26 389.56h0.01 M148.88 395.75h0.01 M145.54 397.1h0.01 M145.48 390.81h0.01 M136.39 396.12h0.01 M137.85 395.18h0.01 M135.71 400.12h0.01 M143.32 393.55h0.01 M136.61 402.44h0.01 M139.4 401.03h0.01 M148.03 387.66h0.01 M135.3 398.53h0.01 M148.47 401.06h0.01 M152.72 401.89h0.01 M141.54 396.81h0.01 M151.72 394.65h0.01 M153.63 388.6h0.01 M150.76 396.02h0.01 M147.8 397.31h0.01 M135.12 396.2h0.01 M141 393.33h0.01 M138.01 403.5h0.01 M139.56 392.58h0.01 M152.34 399.56h0.01 M136.06 402.2h0.01 M154.95 395.17h0.01 M153.19 396.53h0.01 M149.14 400.93h0.01 M140.66 397.76h0.01 M155.3 391.68h0.01 M151.79 393.39h0.01 M149.47 400.49h0.01 M147.46 400.19h0.01 M136.16 393.44h0.01 M143.16 396.57h0.01 M140.96 405.14h0.01 M152.64 396.8h0.01 M150.93 391.29h0.01 M141.78 394.94h0.01 M144.45 404.77h0.01 M136.54 396.06h0.01 M148.99 399.11h0.01 M145.01 395.12h0.01 M149.61 398.82h0.01 M146.34 397.66h0.01 M145.56 393.04h0.01 M142.72 393.15h0.01 M148.78 400.57h0.01 M137.55 395.98h0.01 M136.76 399.9h0.01 M145.17 398.99h0.01 M147.66 393.3h0.01 M145.91 402.4h0.01 M143.39 394.18h0.01 M145.55 400.54h0.01 M141.64 400.36h0.01 M152.22 396h0.01 M140.81 397h0.01 M136.25 397.37h0.01 M142.41 398.83h0.01 M141.33 400.92h0.01 M148.04 401.01h0.01 M145.33 398.8h0.01 M140.39 394.04h0.01 M153.48 403.14h0.01 M151.16 399.04h0.01 M147.15 395.01h0.01 M146.49 394.56h0.01 M137.03 404.76h0.01 M138.56 398.07h0.01 M140.55 398.75h0.01 M142.73 393.98h0.01 M154.21 392.59h0.01 M140.74 400.74h0.01 M139.96 395.84h0.01 M147.99 395.34h0.01 M143.92 406.18h0.01 M135.69 403.35h0.01 M137.78 396.47h0.01 M142.22 399.15h0.01 M153.64 405.39h0.01 M140 404.71h0.01 M154.33 400.6h0.01 M138.67 402.69h0.01 M144.22 399.36h0.01 M142.94 401.06h0.01 M155.57 402.08h0.01 M143.68 402.64h0.01 M157.48 389.47h0.01 M150.17 399.94h0.01 M140.28 393.99h0.01 M142.5 394.15h0.01 M149.36 393.2h0.01 M140.85 395.63h0.01 M142.76 389.84h0.01 M147.51 397.6h0.01 M148.42 399.98h0.01 M142.62 402.4h0.01 M152.6 397.76h0.01 M141.11 395.49h0.01 M150.62 391.38h0.01 M143.18 393.92h0.01 M144.79 397.7h0.01 M152.05 389.25h0.01 M144.55 399h0.01 M151.88 391.32h0.01 M151.52 397.92h0.01 M144.77 395.39h0.01 M141.46 393.14h0.01 M143.76 388.19h0.01 M144.47 399.7h0.01 M153.69 394.84h0.01 M157.09 392.95h0.01 M142.81 388.29h0.01 M137.77 394.28h0.01 M135.62 401.11h0.01 M149.09 395.92h0.01 M145.04 396h0.01 M139.35 389.39h0.01 M144.86 403.82h0.01 M157.37 394.83h0.01 M138.36 397.16h0.01 M153.02 398.38h0.01 M140.08 399.79h0.01 M143.46 400.19h0.01 M140.69 390.74h0.01 M145.89 401.14h0.01 M135.28 398h0.01 M152.47 394.88h0.01 M152.76 401.72h0.01 M137.58 406.28h0.01 M152.13 403.26h0.01 M136.56 395.14h0.01 M145.73 387.99h0.01 M150.85 399.62h0.01 M141.38 400.51h0.01 M151.91 398.28h0.01 M150.31 404.33h0.01 M140.93 398.72h0.01 M140.98 402.97h0.01" stroke="#6a70e0" stroke-width="0.7" stroke-linecap="round" opacity="0.4"/>
<path d="M139.42 401.38h0.01 M141.53 400.19h0.01 M147.66 399.75h0.01 M146.49 402.4h0.01 M146.11 399.52h0.01 M144.59 402.2h0.01 M138.62 400.78h0.01 M140.5 399.9h0.01 M146.03 397.91h0.01 M139.25 398.13h0.01 M141.06 401.64h0.01 M147.8 400.9h0.01 M142.79 397.87h0.01 M143.24 403.93h0.01 M144.44 404.58h0.01 M144.19 395.68h0.01 M139.82 401.7h0.01 M142.6 397.65h0.01 M137.57 402.79h0.01 M135.86 404.14h0.01 M141.08 400.87h0.01 M135.86 398.28h0.01 M143.65 395.75h0.01 M136.3 400.12h0.01 M142.85 402.12h0.01 M139.57 399.4h0.01 M140.09 398.34h0.01 M141.97 400.46h0.01 M138.58 400.72h0.01 M140.95 399.78h0.01 M145.25 395.04h0.01 M141.97 396.93h0.01 M139.78 404.32h0.01 M136.83 399.71h0.01 M138.73 402.74h0.01 M137.24 395.15h0.01 M142.97 398.98h0.01 M139.77 403.11h0.01 M137.59 398.92h0.01 M141.57 401.19h0.01 M139.02 402.98h0.01 M146.4 399.01h0.01 M141.53 399.02h0.01 M138.56 396.32h0.01 M139.48 403.73h0.01 M145.38 399h0.01 M138.97 397.98h0.01 M143.55 400.34h0.01 M139.11 397.06h0.01 M146.06 402.25h0.01 M137.34 402.85h0.01 M136.75 401.85h0.01 M137.31 398.81h0.01 M142.9 401.25h0.01 M144.88 397.59h0.01 M147.06 403.87h0.01 M140.96 401.34h0.01 M138.01 399.56h0.01 M135.93 400.26h0.01 M141.77 403.87h0.01 M144.64 402.35h0.01 M139.61 399.35h0.01 M139.69 400.64h0.01 M133.59 402.22h0.01 M134.98 398.52h0.01 M141.09 398.52h0.01 M147.39 399.72h0.01 M147.04 403.38h0.01 M139.09 401.15h0.01 M145.99 399.04h0.01 M141.34 398.39h0.01 M141.23 398.98h0.01 M141.32 402.89h0.01 M146.35 400.38h0.01 M141.78 402.47h0.01 M139.89 396.95h0.01 M145.26 397.31h0.01 M144.57 397.22h0.01 M144.26 404.32h0.01 M137.31 404.28h0.01 M137.84 394.92h0.01 M143.77 402.02h0.01 M140.79 399.12h0.01 M139.54 399.17h0.01 M134.13 398.37h0.01 M139.61 397.95h0.01 M142.52 403.06h0.01 M143.78 396.63h0.01 M141.62 400.4h0.01 M146.52 403.45h0.01 M143.01 403.5h0.01 M139.48 404.43h0.01 M139.36 401.14h0.01 M144.53 397.37h0.01 M138.3 394.94h0.01 M141.63 399.84h0.01 M139.75 401.44h0.01 M141.34 399.23h0.01 M144.05 405.05h0.01 M139.29 397.29h0.01 M138.68 400.27h0.01 M143.25 397.52h0.01 M144.84 397.05h0.01 M144.18 401.23h0.01 M139.99 399.52h0.01 M142.83 402.49h0.01 M135.86 400.79h0.01 M138.15 401.82h0.01 M146.26 400.15h0.01 M140.59 400.53h0.01 M143.16 400.47h0.01 M139.48 397.9h0.01 M140.31 403.49h0.01 M140.61 403.88h0.01 M142.05 399.96h0.01 M134.63 398.09h0.01 M145.8 396.28h0.01 M137.2 396.84h0.01 M138.88 401.85h0.01 M146.61 398.29h0.01" stroke="#5a62e0" stroke-width="0.7" stroke-linecap="round" opacity="0.45"/>
<ellipse cx="132.1" cy="399.2" rx="2.8" ry="9.3" fill="#2f3fd8" opacity="0.95" filter="url(#b0_8)" transform="rotate(0 132.1 399.2)"/>
<ellipse cx="132" cy="399.4" rx="1.8" ry="7" fill="#28b8b0" opacity="0.95" filter="url(#b0_6)" transform="rotate(0 132 399.4)"/>
<ellipse cx="131.9" cy="400" rx="1.2" ry="4.6" fill="#78c828" opacity="0.95" filter="url(#b0_5)" transform="rotate(0 131.9 400)"/>
<ellipse cx="131.8" cy="400.5" rx="0.8" ry="2.2" fill="#c8a020" opacity="0.8" filter="url(#b0_4)" transform="rotate(0 131.8 400.5)"/>
<line x1="118.8" y1="386.5" x2="120.4" y2="386.5" stroke="#111" stroke-width="0.5" />
<line x1="118.8" y1="383.25" x2="120.4" y2="383.25" stroke="#111" stroke-width="0.5" />
<line x1="118.8" y1="381.35" x2="120.4" y2="381.35" stroke="#111" stroke-width="0.5" />
<line x1="118.8" y1="380" x2="120.4" y2="380" stroke="#111" stroke-width="0.5" />
<line x1="118.8" y1="378.95" x2="120.4" y2="378.95" stroke="#111" stroke-width="0.5" />
<line x1="118.8" y1="378.1" x2="120.4" y2="378.1" stroke="#111" stroke-width="0.5" />
<line x1="118.8" y1="377.37" x2="120.4" y2="377.37" stroke="#111" stroke-width="0.5" />
<line x1="118.8" y1="376.75" x2="120.4" y2="376.75" stroke="#111" stroke-width="0.5" />
<line x1="118.8" y1="376.19" x2="120.4" y2="376.19" stroke="#111" stroke-width="0.5" />
<line x1="118.8" y1="398.43" x2="120.4" y2="398.43" stroke="#111" stroke-width="0.5" />
<line x1="118.8" y1="394.84" x2="120.4" y2="394.84" stroke="#111" stroke-width="0.5" />
<line x1="118.8" y1="392.74" x2="120.4" y2="392.74" stroke="#111" stroke-width="0.5" />
<line x1="118.8" y1="391.25" x2="120.4" y2="391.25" stroke="#111" stroke-width="0.5" />
<line x1="118.8" y1="390.09" x2="120.4" y2="390.09" stroke="#111" stroke-width="0.5" />
<line x1="118.8" y1="389.15" x2="120.4" y2="389.15" stroke="#111" stroke-width="0.5" />
<line x1="118.8" y1="388.35" x2="120.4" y2="388.35" stroke="#111" stroke-width="0.5" />
<line x1="118.8" y1="387.66" x2="120.4" y2="387.66" stroke="#111" stroke-width="0.5" />
<line x1="118.8" y1="387.05" x2="120.4" y2="387.05" stroke="#111" stroke-width="0.5" />
<line x1="118.8" y1="405.85" x2="120.4" y2="405.85" stroke="#111" stroke-width="0.5" />
<line x1="118.8" y1="403.61" x2="120.4" y2="403.61" stroke="#111" stroke-width="0.5" />
<line x1="118.8" y1="402.31" x2="120.4" y2="402.31" stroke="#111" stroke-width="0.5" />
<line x1="118.8" y1="401.38" x2="120.4" y2="401.38" stroke="#111" stroke-width="0.5" />
<line x1="118.8" y1="400.66" x2="120.4" y2="400.66" stroke="#111" stroke-width="0.5" />
<line x1="118.8" y1="400.07" x2="120.4" y2="400.07" stroke="#111" stroke-width="0.5" />
<line x1="118.8" y1="399.58" x2="120.4" y2="399.58" stroke="#111" stroke-width="0.5" />
<line x1="118.8" y1="399.14" x2="120.4" y2="399.14" stroke="#111" stroke-width="0.5" />
<line x1="118.8" y1="398.76" x2="120.4" y2="398.76" stroke="#111" stroke-width="0.5" />
<line x1="118.8" y1="413.95" x2="120.4" y2="413.95" stroke="#111" stroke-width="0.5" />
<line x1="118.8" y1="411.51" x2="120.4" y2="411.51" stroke="#111" stroke-width="0.5" />
<line x1="118.8" y1="410.09" x2="120.4" y2="410.09" stroke="#111" stroke-width="0.5" />
<line x1="118.8" y1="409.07" x2="120.4" y2="409.07" stroke="#111" stroke-width="0.5" />
<line x1="118.8" y1="408.29" x2="120.4" y2="408.29" stroke="#111" stroke-width="0.5" />
<line x1="118.8" y1="407.65" x2="120.4" y2="407.65" stroke="#111" stroke-width="0.5" />
<line x1="118.8" y1="407.1" x2="120.4" y2="407.1" stroke="#111" stroke-width="0.5" />
<line x1="118.8" y1="406.63" x2="120.4" y2="406.63" stroke="#111" stroke-width="0.5" />
<line x1="118.8" y1="406.22" x2="120.4" y2="406.22" stroke="#111" stroke-width="0.5" />
<line x1="117.8" y1="375.7" x2="120.4" y2="375.7" stroke="#111" stroke-width="0.8" />
<line x1="117.8" y1="386.5" x2="120.4" y2="386.5" stroke="#111" stroke-width="0.8" />
<line x1="117.8" y1="398.43" x2="120.4" y2="398.43" stroke="#111" stroke-width="0.8" />
<line x1="117.8" y1="405.85" x2="120.4" y2="405.85" stroke="#111" stroke-width="0.8" />
<line x1="117.8" y1="413.95" x2="120.4" y2="413.95" stroke="#111" stroke-width="0.8" />
<line x1="123.15" y1="416.2" x2="123.15" y2="417.8" stroke="#111" stroke-width="0.5" />
<line x1="125.64" y1="416.2" x2="125.64" y2="417.8" stroke="#111" stroke-width="0.5" />
<line x1="127.1" y1="416.2" x2="127.1" y2="417.8" stroke="#111" stroke-width="0.5" />
<line x1="128.13" y1="416.2" x2="128.13" y2="417.8" stroke="#111" stroke-width="0.5" />
<line x1="128.93" y1="416.2" x2="128.93" y2="417.8" stroke="#111" stroke-width="0.5" />
<line x1="129.58" y1="416.2" x2="129.58" y2="417.8" stroke="#111" stroke-width="0.5" />
<line x1="130.14" y1="416.2" x2="130.14" y2="417.8" stroke="#111" stroke-width="0.5" />
<line x1="130.62" y1="416.2" x2="130.62" y2="417.8" stroke="#111" stroke-width="0.5" />
<line x1="131.04" y1="416.2" x2="131.04" y2="417.8" stroke="#111" stroke-width="0.5" />
<line x1="131.42" y1="416.2" x2="131.42" y2="417.8" stroke="#111" stroke-width="0.5" />
<line x1="133.21" y1="416.2" x2="133.21" y2="417.8" stroke="#111" stroke-width="0.5" />
<line x1="134.26" y1="416.2" x2="134.26" y2="417.8" stroke="#111" stroke-width="0.5" />
<line x1="135.01" y1="416.2" x2="135.01" y2="417.8" stroke="#111" stroke-width="0.5" />
<line x1="135.59" y1="416.2" x2="135.59" y2="417.8" stroke="#111" stroke-width="0.5" />
<line x1="136.06" y1="416.2" x2="136.06" y2="417.8" stroke="#111" stroke-width="0.5" />
<line x1="136.46" y1="416.2" x2="136.46" y2="417.8" stroke="#111" stroke-width="0.5" />
<line x1="136.8" y1="416.2" x2="136.8" y2="417.8" stroke="#111" stroke-width="0.5" />
<line x1="137.11" y1="416.2" x2="137.11" y2="417.8" stroke="#111" stroke-width="0.5" />
<line x1="137.38" y1="416.2" x2="137.38" y2="417.8" stroke="#111" stroke-width="0.5" />
<line x1="141.18" y1="416.2" x2="141.18" y2="417.8" stroke="#111" stroke-width="0.5" />
<line x1="143.41" y1="416.2" x2="143.41" y2="417.8" stroke="#111" stroke-width="0.5" />
<line x1="144.98" y1="416.2" x2="144.98" y2="417.8" stroke="#111" stroke-width="0.5" />
<line x1="146.21" y1="416.2" x2="146.21" y2="417.8" stroke="#111" stroke-width="0.5" />
<line x1="147.21" y1="416.2" x2="147.21" y2="417.8" stroke="#111" stroke-width="0.5" />
<line x1="148.05" y1="416.2" x2="148.05" y2="417.8" stroke="#111" stroke-width="0.5" />
<line x1="148.78" y1="416.2" x2="148.78" y2="417.8" stroke="#111" stroke-width="0.5" />
<line x1="149.43" y1="416.2" x2="149.43" y2="417.8" stroke="#111" stroke-width="0.5" />
<line x1="150.01" y1="416.2" x2="150.01" y2="417.8" stroke="#111" stroke-width="0.5" />
<line x1="153.39" y1="416.2" x2="153.39" y2="417.8" stroke="#111" stroke-width="0.5" />
<line x1="155.37" y1="416.2" x2="155.37" y2="417.8" stroke="#111" stroke-width="0.5" />
<line x1="156.78" y1="416.2" x2="156.78" y2="417.8" stroke="#111" stroke-width="0.5" />
<line x1="157.87" y1="416.2" x2="157.87" y2="417.8" stroke="#111" stroke-width="0.5" />
<line x1="158.76" y1="416.2" x2="158.76" y2="417.8" stroke="#111" stroke-width="0.5" />
<line x1="159.51" y1="416.2" x2="159.51" y2="417.8" stroke="#111" stroke-width="0.5" />
<line x1="160.16" y1="416.2" x2="160.16" y2="417.8" stroke="#111" stroke-width="0.5" />
<line x1="160.74" y1="416.2" x2="160.74" y2="417.8" stroke="#111" stroke-width="0.5" />
<line x1="123.15" y1="416.2" x2="123.15" y2="418.8" stroke="#111" stroke-width="0.8" />
<line x1="131.42" y1="416.2" x2="131.42" y2="418.8" stroke="#111" stroke-width="0.8" />
<line x1="137.38" y1="416.2" x2="137.38" y2="418.8" stroke="#111" stroke-width="0.8" />
<line x1="150.01" y1="416.2" x2="150.01" y2="418.8" stroke="#111" stroke-width="0.8" />
<line x1="161.25" y1="416.2" x2="161.25" y2="418.8" stroke="#111" stroke-width="0.8" />
<rect x="118.2" y="404.05" width="2.2" height="3.6" fill="#111" />
<rect x="132.33" y="416.2" width="3.67" height="2" fill="#111" />
<text x="116.8" y="377.3" font-size="4.68" text-anchor="end" fill="#555" color="#555" class="ns" textLength="6.28" lengthAdjust="spacingAndGlyphs">10³</text>
<text x="116.8" y="388.1" font-size="4.68" text-anchor="end" fill="#555" color="#555" class="ns" textLength="6.28" lengthAdjust="spacingAndGlyphs">10²</text>
<text x="116.8" y="400.03" font-size="4.68" text-anchor="end" fill="#555" color="#555" class="ns" textLength="6.28" lengthAdjust="spacingAndGlyphs">10¹</text>
<text x="116.8" y="407.45" font-size="4.68" text-anchor="end" fill="#555" color="#555" class="ns" textLength="2.42" lengthAdjust="spacingAndGlyphs">0</text>
<text x="116.8" y="415.55" font-size="4.68" text-anchor="end" fill="#555" color="#555" class="ns" textLength="7.72" lengthAdjust="spacingAndGlyphs">-10¹</text>
<text x="123.15" y="424.6" font-size="4.68" text-anchor="middle" fill="#555" color="#555" class="ns" textLength="7.72" lengthAdjust="spacingAndGlyphs">-10¹</text>
<text x="131.42" y="424.6" font-size="4.68" text-anchor="middle" fill="#555" color="#555" class="ns" textLength="2.42" lengthAdjust="spacingAndGlyphs">0</text>
<text x="137.38" y="424.6" font-size="4.68" text-anchor="middle" fill="#555" color="#555" class="ns" textLength="6.28" lengthAdjust="spacingAndGlyphs">10¹</text>
<text x="150.01" y="424.6" font-size="4.68" text-anchor="middle" fill="#555" color="#555" class="ns" textLength="6.28" lengthAdjust="spacingAndGlyphs">10²</text>
<text x="161.25" y="424.6" font-size="4.68" text-anchor="middle" fill="#555" color="#555" class="ns" textLength="6.28" lengthAdjust="spacingAndGlyphs">10³</text>
<rect x="120.4" y="371.2" width="45.9" height="45" fill="none" stroke="#111" stroke-width="1.3"/>
<path d="M202.72 407.03h0.01 M204.27 392.02h0.01 M200.24 395.33h0.01 M197.6 397.79h0.01 M213.35 398.48h0.01 M198.15 399.97h0.01 M206.91 401.7h0.01 M203.76 400.71h0.01 M197.59 401.15h0.01 M199.23 397.32h0.01 M207.8 399.39h0.01 M204.45 402.57h0.01 M203.32 391.86h0.01 M212.74 394.97h0.01 M215.18 393.06h0.01 M210.88 398.74h0.01 M198.22 406.5h0.01 M215.21 398.89h0.01 M210.99 394.61h0.01 M206.11 399.12h0.01 M209.99 400.88h0.01 M203.73 394.85h0.01 M201.84 400.82h0.01 M202.21 395.87h0.01 M203.04 397.25h0.01 M203.95 400.77h0.01 M210.97 403.19h0.01 M213.57 391.34h0.01 M210.83 395.45h0.01 M200.87 406.69h0.01 M200.2 394.69h0.01 M201.98 394.38h0.01 M214.43 398.44h0.01 M217.63 398.04h0.01 M201.96 404.03h0.01 M200.33 396.65h0.01 M204.69 398.43h0.01 M215.09 393.32h0.01 M208.81 397.36h0.01 M194.91 394.39h0.01 M204.58 400.31h0.01 M209 399.91h0.01 M206 395.72h0.01 M208.57 392.45h0.01 M194.88 398.27h0.01 M194.02 397.49h0.01 M199.49 396.33h0.01 M204.94 394.12h0.01 M201.1 390.16h0.01 M206.4 393.45h0.01 M199.74 400.34h0.01 M206.85 398.37h0.01 M194.12 401.26h0.01 M206.35 392.98h0.01 M211.97 396.7h0.01 M205.76 395.75h0.01 M210.51 397.7h0.01 M215.58 398.61h0.01 M200.82 397.78h0.01 M213.1 394.89h0.01 M209.55 400.04h0.01 M207.25 398.87h0.01 M206.43 394.05h0.01 M215.66 395.61h0.01 M200.33 395.34h0.01 M207.95 392.09h0.01 M217.53 401.35h0.01 M217.57 399h0.01 M193.4 406.32h0.01 M216.46 398.66h0.01 M216.63 393.61h0.01 M207.71 401.67h0.01 M206.27 403.57h0.01 M207.26 401.31h0.01 M205.4 390.54h0.01 M209.41 404.1h0.01 M216.73 404.88h0.01 M209.98 394.25h0.01 M204.47 388.45h0.01 M205.27 402.77h0.01 M213.85 403.41h0.01 M197.91 396.09h0.01 M197.9 406.49h0.01 M209.04 394.93h0.01 M205.64 399.18h0.01 M215.17 403.38h0.01 M210.48 399.06h0.01 M204.15 396.23h0.01 M208.12 397.45h0.01 M209.03 406.78h0.01 M204.9 396.83h0.01 M199.91 398.96h0.01 M202.61 399.65h0.01 M213.75 400.82h0.01 M212.54 401.05h0.01 M212.73 404.06h0.01 M215.38 403.27h0.01 M201.91 398.71h0.01 M200.9 403.82h0.01 M212.36 394.48h0.01 M215.1 390.66h0.01 M205.81 401.3h0.01 M206.05 399.98h0.01 M215.9 397.94h0.01 M197.68 403.14h0.01 M205.31 398.71h0.01 M200.17 391.92h0.01 M195.53 398.03h0.01 M214.34 390.56h0.01 M200.56 401.69h0.01 M200.31 402.4h0.01 M202.34 400.22h0.01 M206.86 397.84h0.01 M206.9 405.09h0.01 M202.02 401.44h0.01 M207.75 400.18h0.01 M212.77 389.1h0.01 M208.08 396.72h0.01 M202.7 394.19h0.01 M198.68 393.99h0.01 M219.87 395.61h0.01 M211.19 392.06h0.01 M208.42 404.98h0.01 M204.78 393.07h0.01 M203.15 393.37h0.01 M194.42 398.85h0.01 M202.03 394.52h0.01 M197.96 394.63h0.01 M209.15 404.61h0.01 M193.04 401.7h0.01 M196.42 398.86h0.01 M207.33 400.64h0.01 M214.73 393.61h0.01 M195.7 398.85h0.01 M207.78 394.09h0.01 M214.77 405.12h0.01 M194.72 401.85h0.01 M207.48 396.58h0.01 M195.54 406.61h0.01 M207.35 395.3h0.01 M210.18 400.57h0.01 M212.79 399.79h0.01 M208.3 391.54h0.01 M202.68 399.25h0.01 M201.98 393.28h0.01 M205.75 395.04h0.01 M201.82 394.17h0.01 M199.8 398.59h0.01 M201.35 402.31h0.01 M204.95 398.86h0.01 M210.43 403.76h0.01 M211.11 398.27h0.01 M203.96 394.21h0.01 M203.81 401.9h0.01 M207.51 395.74h0.01 M193.79 392.27h0.01 M209.53 402.66h0.01 M207.84 390.61h0.01 M204.46 399.41h0.01 M198.81 401.05h0.01 M203.63 394.12h0.01 M196.58 403.83h0.01 M208.13 393.06h0.01 M198.51 403.9h0.01 M210.59 395.62h0.01 M218.74 394.26h0.01 M198.35 404.97h0.01 M204.77 399.99h0.01 M205.43 392.95h0.01 M196.15 398.74h0.01 M216.58 390.97h0.01 M217.27 397.15h0.01 M197.17 400.93h0.01 M209.83 392.7h0.01 M197.34 401.79h0.01 M198.1 391.78h0.01 M204.19 399.2h0.01 M200.42 392.92h0.01 M206.19 388.98h0.01 M210.79 399.68h0.01 M220.44 399.99h0.01 M209.12 398.8h0.01 M205.06 391.36h0.01 M218.37 398.52h0.01 M202.67 392.71h0.01 M218.54 398.52h0.01 M196.95 403.04h0.01 M221.4 395.17h0.01 M208.89 395.36h0.01 M201.83 404.24h0.01 M205.69 402.12h0.01 M204.16 402.06h0.01 M211.85 391.76h0.01 M197.22 399.17h0.01 M213.01 398.19h0.01 M214.88 389.38h0.01 M209.46 394.2h0.01 M207.1 399.46h0.01 M197.92 398.25h0.01 M196.78 400.99h0.01 M198.66 396.76h0.01 M207.21 394.44h0.01 M214.77 393.19h0.01 M213.15 398.19h0.01 M197.41 398.4h0.01 M198.89 397.4h0.01 M205.39 407.42h0.01 M203.97 406.39h0.01 M208.48 390.87h0.01 M214.69 398.47h0.01 M204.08 397.05h0.01 M207.84 396.13h0.01 M201.34 396.93h0.01 M214.95 393.25h0.01 M208.07 391.75h0.01 M199.02 392.2h0.01 M204.99 401.67h0.01 M208.04 395.12h0.01 M210.65 395.41h0.01 M209.26 398.82h0.01 M196.12 403.7h0.01 M203.62 395.6h0.01 M218.59 398.62h0.01 M204.98 401.88h0.01 M199.23 396.91h0.01 M201.31 397.69h0.01 M211.89 394.5h0.01 M208.17 395.07h0.01 M204.46 399.13h0.01 M198.15 404.56h0.01 M208.87 404.03h0.01 M214.34 399.8h0.01 M203.84 392.84h0.01 M203.82 396.04h0.01 M207.62 395.34h0.01 M215.09 394h0.01 M204.85 402.93h0.01 M204.96 392h0.01 M209.17 396.44h0.01 M196.82 395.82h0.01 M210.16 398.79h0.01 M208.86 394.37h0.01 M207.81 397.06h0.01 M204.27 396.9h0.01 M202.29 403.65h0.01 M207.71 406.39h0.01 M213.8 405.01h0.01 M205.38 400.02h0.01 M202.36 397.78h0.01 M197.75 396.13h0.01 M216.05 397.56h0.01 M216.64 400.49h0.01 M214.3 401.65h0.01 M201.81 402.82h0.01 M202.94 395.84h0.01 M199.62 407.97h0.01 M211.97 392.63h0.01 M208.53 399.44h0.01 M208.72 395.71h0.01 M195.66 399.98h0.01 M213.63 400.65h0.01 M212.29 402.5h0.01 M197.97 399.2h0.01 M209.62 402.44h0.01 M207.71 400.34h0.01 M193.85 396.69h0.01 M209.3 406.14h0.01 M210.31 400.64h0.01 M214.38 397.54h0.01 M199 398.74h0.01 M208.47 396.16h0.01 M200.31 397.18h0.01 M193 395.08h0.01 M204.96 396.35h0.01 M207.52 404.87h0.01 M208.39 397.42h0.01 M195.6 394.35h0.01 M208.27 393.16h0.01 M208.53 392.1h0.01 M207.02 397.45h0.01 M213.69 394.65h0.01 M203.21 399.74h0.01 M207.91 406.25h0.01 M203.46 395.72h0.01 M203.84 400.79h0.01 M208.49 401.08h0.01 M220.8 395.23h0.01 M196.4 400.48h0.01 M204.82 390.7h0.01 M210.89 404.16h0.01 M213.02 389.11h0.01 M217.92 400.5h0.01 M203.53 400.99h0.01 M217.93 394.21h0.01 M205.39 395.27h0.01 M216.59 391.22h0.01 M212.05 388.68h0.01 M197.94 396.39h0.01 M211.26 388.83h0.01 M210.3 394.01h0.01 M215.73 394.7h0.01 M209.77 396.46h0.01 M220.13 393.68h0.01 M207.52 407.81h0.01 M207.22 401.27h0.01 M200.24 400.03h0.01 M199.49 391.51h0.01 M195.59 405.64h0.01 M208.12 389.92h0.01 M220.01 392h0.01 M203.24 399.74h0.01 M195.44 391.65h0.01 M201.02 404.88h0.01 M212.29 388.86h0.01 M215.73 396.46h0.01 M210.08 397.54h0.01 M208.46 392.48h0.01 M198.07 395.83h0.01 M203.57 401.57h0.01 M197.59 407.58h0.01 M200.39 396h0.01 M212.04 399.14h0.01 M202.34 393.21h0.01 M196.55 391.55h0.01 M216.15 401.71h0.01 M221.48 397.8h0.01 M209.34 401.26h0.01 M213.44 395.37h0.01 M198.9 403.08h0.01 M215.28 394.64h0.01 M211.37 396.81h0.01 M207.95 394.91h0.01 M205.78 398.02h0.01 M206.8 402.78h0.01 M215.23 400.34h0.01 M211.69 392.17h0.01 M214.91 391.59h0.01 M216.98 399.45h0.01 M199.06 405.15h0.01 M199.86 395.3h0.01 M193.36 399.13h0.01 M213.62 393.24h0.01 M221.48 398.78h0.01 M200.61 392.79h0.01 M193.27 403.08h0.01 M215.56 390.92h0.01 M205.76 396.63h0.01 M204.37 400.84h0.01 M213.8 402.16h0.01 M203.58 397.67h0.01 M196.12 405.23h0.01 M201.15 395.53h0.01 M205.8 393.67h0.01 M197.33 398.01h0.01 M217.82 394.87h0.01 M208.98 390.01h0.01 M201.45 390.97h0.01 M205.67 401.15h0.01 M207.29 393.08h0.01 M213.27 401.62h0.01 M209.2 395.25h0.01 M205.07 394.94h0.01 M205.22 399.76h0.01 M204.42 403.24h0.01 M209.49 401.58h0.01 M211 395.91h0.01 M203 403.65h0.01 M211.49 399.61h0.01 M200.06 402.27h0.01 M212.26 395.95h0.01 M195.34 392.92h0.01 M204.57 401.04h0.01 M205.4 392.16h0.01 M193.88 397.3h0.01 M205.39 393.87h0.01 M199.08 398.42h0.01 M201.05 395.88h0.01 M206.07 396.47h0.01 M209.98 391.25h0.01 M206.06 401.91h0.01 M216.04 399.06h0.01 M204.94 390.24h0.01 M193.88 405.14h0.01 M211.98 399.85h0.01 M196.41 393.65h0.01 M206.4 392.7h0.01 M218.29 392.65h0.01 M202.2 403.09h0.01 M207.88 393.07h0.01 M195.83 398.52h0.01 M211.7 400.57h0.01 M214.29 398.73h0.01 M199.54 393.11h0.01 M197.68 403.39h0.01 M205.31 408.2h0.01 M208.15 387.83h0.01 M214.36 402.93h0.01 M205.19 391.92h0.01 M203.64 388.63h0.01 M215.9 402.31h0.01 M201.51 391.83h0.01 M205.84 399.97h0.01 M192.55 394.42h0.01 M205.78 401.66h0.01 M207 400.14h0.01 M207.73 392.97h0.01 M204.66 396.3h0.01 M209.24 393.45h0.01 M217.82 396.08h0.01 M210.87 400.38h0.01 M214.83 398.52h0.01 M211 399.53h0.01 M200.16 395.53h0.01 M201.73 404.73h0.01 M210.55 406.38h0.01 M211.75 406.75h0.01 M208.7 391.41h0.01 M220.56 397.18h0.01 M215.95 397.35h0.01 M203.47 399.32h0.01 M195.74 393.63h0.01 M198.25 396.65h0.01 M194.78 399.44h0.01 M221.07 395.09h0.01 M213.07 395.62h0.01 M209.18 397.26h0.01 M201.62 399.16h0.01 M194.23 402.36h0.01 M202.66 392.97h0.01 M203.53 401.31h0.01 M200.83 401.38h0.01 M212.08 405.02h0.01 M196.95 399.02h0.01 M211.55 404.82h0.01 M208.83 401.42h0.01 M193.39 397.19h0.01 M219.44 394.15h0.01 M202.29 390.36h0.01 M211.48 398.41h0.01 M202.68 391.25h0.01 M206.16 402.9h0.01 M213.21 403.13h0.01 M213.1 396.51h0.01 M211.15 397.99h0.01 M208.16 392.14h0.01 M209.44 398.89h0.01 M215.53 403.85h0.01 M217.82 390.97h0.01 M209.1 399.28h0.01 M196.39 397.25h0.01 M208.28 401.49h0.01 M214.78 395.76h0.01 M204.21 393.15h0.01 M210.48 387.83h0.01 M207.01 398.46h0.01 M209.66 404.18h0.01 M205.26 398.62h0.01 M211.72 388.87h0.01 M203.64 398.77h0.01 M213.22 392.54h0.01 M213.02 398.78h0.01 M194.22 400.81h0.01 M208.37 401.38h0.01 M212.33 393.99h0.01 M215.62 400.6h0.01 M210.35 399.75h0.01 M195.63 401.72h0.01 M196.34 393.45h0.01 M203.22 399.22h0.01 M205.26 396.4h0.01 M197.85 400.42h0.01 M198.57 391.92h0.01 M208.08 405.26h0.01 M201.68 393.19h0.01 M203.36 397.36h0.01 M208.01 402.87h0.01 M208.06 388.08h0.01 M195.71 393.34h0.01 M209.7 397.91h0.01 M220.67 393.99h0.01 M208.64 397.93h0.01 M209.7 405.09h0.01 M216.27 393h0.01 M211.37 395.05h0.01 M207.06 398.65h0.01 M205.75 395.57h0.01 M218.75 394.36h0.01 M213.37 405.54h0.01 M212.15 402.32h0.01 M218.57 401.51h0.01 M194.34 399.94h0.01 M192.66 395.05h0.01 M208.61 398.37h0.01 M199.13 397.98h0.01 M205.24 398.53h0.01 M205.74 396.88h0.01 M211.89 388.5h0.01 M202 399.41h0.01 M202.15 395.77h0.01 M202.54 399.71h0.01 M216.24 395.22h0.01 M204.09 400.21h0.01 M202.23 388.46h0.01" stroke="#6068dc" stroke-width="0.7" stroke-linecap="round" opacity="0.42"/>
<path d="M195.4 395.8h0.01 M194.14 400.33h0.01 M195.07 394.96h0.01 M195.02 396.97h0.01 M195.66 398.5h0.01 M194.28 391.81h0.01 M193.36 396.87h0.01 M193.28 400.9h0.01 M194.71 389.52h0.01 M197.44 393.04h0.01 M194.92 396.4h0.01 M193.77 389.55h0.01 M192.81 400.02h0.01 M194.98 401.3h0.01 M194.23 400.75h0.01 M196.34 400.23h0.01 M197.17 396.71h0.01 M197.32 394.35h0.01 M195.02 393.9h0.01 M195 402.14h0.01 M196.08 397.93h0.01 M193.78 404.29h0.01 M195.51 392.17h0.01 M197.22 402.65h0.01 M194.18 403.32h0.01 M193.75 401.64h0.01 M195.87 396.93h0.01 M192.87 396.24h0.01 M195.88 399.16h0.01 M196.16 397.8h0.01 M195.72 401.82h0.01 M194.11 391.14h0.01 M194.94 389.98h0.01 M195.01 400.97h0.01 M197.26 398.69h0.01 M195.29 400.87h0.01 M197.1 396.06h0.01 M193.16 393.94h0.01 M193.11 393.5h0.01 M194.82 399.04h0.01 M195.23 397.81h0.01 M194.46 399.41h0.01 M196.33 400.92h0.01 M197.25 396.19h0.01 M194.62 405.13h0.01 M195.3 399.36h0.01 M194.5 401.86h0.01 M194.4 392.97h0.01 M194.91 395.51h0.01 M196.25 395.8h0.01 M195.19 396.52h0.01 M195.51 394.66h0.01 M196.66 391.09h0.01 M194.42 394.31h0.01 M195.97 397.68h0.01 M195.73 396.01h0.01 M193.92 392.46h0.01 M194.5 395.09h0.01 M195.42 399.1h0.01 M196.47 397.02h0.01 M193.88 392.73h0.01 M195.09 399.12h0.01 M197.92 398.32h0.01 M193.43 402.95h0.01 M196.7 403.55h0.01 M194.99 401.8h0.01 M194.28 397.18h0.01 M195.03 405.52h0.01 M194.68 401.8h0.01 M195.1 394.31h0.01 M195.36 400.47h0.01 M193.93 400.35h0.01 M193.93 393.55h0.01 M195.33 396.44h0.01 M193.53 390.17h0.01 M195.03 398.59h0.01 M194.31 398.34h0.01 M192.71 399.27h0.01 M195.62 398.75h0.01 M194.08 397.86h0.01 M195.2 402.31h0.01 M195.41 398.64h0.01 M193.91 401.38h0.01 M196.76 395.28h0.01 M195.96 398.89h0.01 M194.93 391.71h0.01 M195.45 395.81h0.01 M196.72 395.6h0.01 M195.06 400.25h0.01 M195.68 395.16h0.01 M196.02 399.26h0.01 M196.48 395.2h0.01 M194.93 395.74h0.01 M193.74 398.65h0.01 M195.61 403.88h0.01 M194.51 399.24h0.01 M196.71 396.99h0.01 M195.09 398.1h0.01 M193.97 393.06h0.01 M196.67 398.28h0.01 M194.89 391.92h0.01 M195.18 402.76h0.01 M193.28 393.5h0.01 M196.66 403.92h0.01 M197.32 395.02h0.01 M195.9 394.13h0.01 M195.78 395.86h0.01 M195.29 403.51h0.01 M195.51 396.42h0.01 M195.08 398.69h0.01 M194.23 398.43h0.01 M195.9 404.48h0.01 M193.15 401.42h0.01 M195.18 402.6h0.01 M194.24 395.33h0.01 M195.51 394.89h0.01 M196.66 397.49h0.01 M194.33 401.64h0.01 M193.77 403.08h0.01 M196.44 398.13h0.01 M196.48 404.69h0.01 M197.05 397.51h0.01 M194.92 402.45h0.01 M192.81 394.81h0.01 M195.72 400.04h0.01 M195.48 399.47h0.01 M193.04 396.67h0.01 M195.39 396.49h0.01 M195.09 400.21h0.01 M193.59 394.97h0.01 M193.43 389.91h0.01 M196.14 396.55h0.01 M196.43 395.86h0.01 M195.22 398.01h0.01 M194.69 401.1h0.01 M193.39 400.16h0.01 M196.58 390.86h0.01 M193.97 393.07h0.01 M195.83 399.75h0.01 M193.91 392.49h0.01 M195.95 396.81h0.01 M194.14 396.28h0.01 M194.59 394.27h0.01 M195.12 401.78h0.01 M192.77 396.49h0.01 M197.21 400.79h0.01 M193.8 393.92h0.01 M193.74 390.38h0.01 M196.7 397.81h0.01 M193.97 391.14h0.01 M194.43 395.23h0.01 M197.54 395.46h0.01 M195.17 402.25h0.01 M195.99 396.7h0.01 M195.88 395.58h0.01 M194.87 393.27h0.01 M193.67 390.93h0.01 M195.74 399.79h0.01 M195.26 400.95h0.01 M195.79 398.04h0.01" stroke="#4048d0" stroke-width="0.7" stroke-linecap="round" opacity="0.5"/>
<path d="M208.73 400.4h0.01 M218.49 394.9h0.01 M217.15 391.92h0.01 M209.26 402.34h0.01 M209.63 398.7h0.01 M211.14 397.07h0.01 M209.94 395.86h0.01 M210.12 391.04h0.01 M206.1 396.08h0.01 M217.1 399.13h0.01 M211.94 399.06h0.01 M212.98 391.71h0.01 M208.79 397.14h0.01 M218.04 393.42h0.01 M210.24 394.79h0.01 M212.48 396.37h0.01 M217.46 398.08h0.01 M215.47 394.56h0.01 M213.64 400.99h0.01 M212.91 395.92h0.01 M214.49 394.69h0.01 M210.61 400.92h0.01 M211.3 400.16h0.01 M208.5 398.87h0.01 M214.09 395.78h0.01 M213.65 396.84h0.01 M205.14 396.7h0.01 M213.96 401.48h0.01 M210.06 394.48h0.01 M208.98 398.36h0.01 M216.68 391.88h0.01 M214.89 395.47h0.01 M208.96 395.06h0.01 M210.23 395.07h0.01 M211.92 390.58h0.01 M218.36 395.39h0.01 M216.89 398.75h0.01 M212.3 390.54h0.01 M212.91 397.5h0.01 M207.16 395.47h0.01 M214.76 396.64h0.01 M209.67 397.03h0.01 M208.81 396.42h0.01 M213.3 399.38h0.01 M204.02 399.96h0.01 M219.97 392.97h0.01 M213.94 398.2h0.01 M205.57 396.13h0.01 M214.4 397.99h0.01 M209.07 395.89h0.01 M214.77 396.97h0.01 M210.41 390.99h0.01 M211.89 393.7h0.01 M211.15 402.06h0.01 M218.84 394.18h0.01 M213.53 396.2h0.01 M209.21 397.94h0.01 M209.17 398.68h0.01 M217.36 396.22h0.01 M207.33 398.76h0.01 M208.97 394.09h0.01 M211.66 395.08h0.01 M216.9 395.13h0.01 M208.5 398.79h0.01 M209.42 395.85h0.01 M211.3 400.49h0.01 M207.58 393.27h0.01 M209.59 400.61h0.01 M209.87 396.62h0.01 M206.07 401.28h0.01 M212.17 397.34h0.01 M216.89 396.48h0.01 M208.19 396.7h0.01 M220.26 394.14h0.01 M211.07 393.35h0.01 M216.86 395.47h0.01 M216.12 395.03h0.01 M211.49 394.94h0.01 M213.79 396.29h0.01 M216.6 397.5h0.01 M212.65 394.29h0.01 M218 398.26h0.01 M208.75 399.79h0.01 M215.32 396.39h0.01 M214.21 394.92h0.01 M213.99 401.03h0.01 M208.13 397h0.01 M205.14 401.65h0.01 M210.96 395.28h0.01 M220.54 395.52h0.01 M211.06 399.26h0.01 M213.51 399.52h0.01 M214.65 394.86h0.01 M213.51 393.21h0.01 M217.86 398.18h0.01 M211.14 398.87h0.01 M205.66 403.32h0.01 M214.58 391.58h0.01 M220.24 392.13h0.01 M215.65 393.48h0.01 M214.85 389.64h0.01 M212.97 399.23h0.01 M209.86 400.03h0.01 M210.84 398.33h0.01 M207.41 401.78h0.01 M216.44 390.16h0.01 M208.41 392.82h0.01 M212.35 393.86h0.01 M208.18 395.89h0.01 M212.68 394.54h0.01 M207.49 398.34h0.01 M212.63 393.25h0.01 M214.72 389.34h0.01 M213.32 394.43h0.01 M218.34 390.67h0.01 M206.98 394.89h0.01 M206.49 398.55h0.01 M209.79 402.9h0.01 M214.31 398.25h0.01 M212.7 397.69h0.01 M211.8 397.32h0.01 M211.95 394.15h0.01 M213.85 395.99h0.01 M210.83 394.88h0.01 M207.67 399.83h0.01 M211.5 401.35h0.01 M215.2 392.25h0.01 M216.82 390.39h0.01 M209.67 397.12h0.01 M202.89 398.36h0.01 M206.36 399.29h0.01 M209.47 395.92h0.01 M210.15 400.07h0.01 M218.51 391.37h0.01 M218.65 393.67h0.01 M206.08 402.19h0.01 M210.39 398.08h0.01 M202.86 400.83h0.01 M211.71 393.51h0.01 M215.8 399.94h0.01 M212.07 394.15h0.01 M208.34 399.99h0.01 M214.42 397.91h0.01 M210.46 402.33h0.01 M216.06 398.18h0.01 M204.92 400.58h0.01 M218.11 392.97h0.01 M211.93 394.42h0.01 M216.08 391.8h0.01 M212.59 396.89h0.01 M209.23 397.39h0.01 M204.18 396.43h0.01 M207.2 401.44h0.01 M212.98 398.71h0.01 M207.85 400.89h0.01 M210.08 397.91h0.01 M216.39 394.08h0.01 M207.93 393.22h0.01 M213.45 398.32h0.01 M208.96 398.03h0.01 M215.78 398.71h0.01 M208.1 393.09h0.01 M207.93 393.55h0.01 M213.55 402.15h0.01 M213.17 395.31h0.01 M216.28 392.74h0.01 M213.84 396.11h0.01 M211.92 391.56h0.01 M216.61 396.83h0.01 M210.01 402.71h0.01 M213.1 398.17h0.01 M215.9 397.27h0.01 M208.16 396.73h0.01 M214.65 397.04h0.01 M215.19 395.82h0.01 M211.36 400.63h0.01 M215.77 397.94h0.01 M209.07 398.61h0.01 M209.31 396.99h0.01 M213.41 396.86h0.01 M209.14 400h0.01 M208.68 399.88h0.01 M208.88 395.08h0.01 M219.93 397.58h0.01 M211.44 396.65h0.01 M214.54 390.5h0.01 M209.58 401.77h0.01 M215.5 392.79h0.01 M208.86 399.51h0.01 M204.64 399.04h0.01 M215.91 396.86h0.01 M214.89 389.91h0.01 M204.74 397.9h0.01 M206.93 398.35h0.01 M213.65 397.11h0.01 M217.22 389.75h0.01 M216.37 394.49h0.01 M206.7 400.08h0.01 M210.05 401.08h0.01 M217.22 391.36h0.01 M207.96 399.28h0.01 M208.38 401.68h0.01 M211.69 394.05h0.01 M209.84 400.24h0.01 M208 398.14h0.01 M210.05 403.22h0.01 M217.84 397.61h0.01 M215.23 394.95h0.01 M221.02 393.58h0.01 M214.93 396.8h0.01 M215.9 395.21h0.01 M208.83 392.83h0.01 M209.54 398.83h0.01 M208.92 391.43h0.01 M210.85 398.17h0.01 M215.76 390.17h0.01 M213.69 395.8h0.01 M212.93 396.47h0.01 M208.22 393.97h0.01 M214.73 396.26h0.01 M216.61 398.15h0.01 M208.25 400.04h0.01 M213.02 398.43h0.01 M210.3 395.42h0.01 M213.95 397.18h0.01 M209.36 402.59h0.01 M218.13 394.5h0.01 M211.12 396.19h0.01 M205.16 402.72h0.01 M206.61 397.88h0.01 M215.37 391.37h0.01 M210.8 400.16h0.01 M219.81 389.6h0.01 M216.27 391.77h0.01 M214.57 396.69h0.01 M208.12 402.29h0.01 M220.65 391.69h0.01 M211.53 392.71h0.01 M220.61 391.75h0.01 M207.07 402h0.01 M204.01 398.74h0.01 M208.02 396.8h0.01 M210.14 399.49h0.01 M217.44 389.87h0.01 M211.39 390.61h0.01 M219.13 392.08h0.01 M210.96 402.4h0.01 M213.55 400.35h0.01 M219.6 397.85h0.01 M208.27 398.85h0.01 M213.46 394.98h0.01 M218.18 390.46h0.01 M218.82 397.28h0.01 M206.88 397.57h0.01 M213.6 394.97h0.01 M211.69 395.09h0.01 M212.34 397.98h0.01 M214.38 392.42h0.01 M210.32 394.83h0.01 M209 393.26h0.01 M217.55 395.62h0.01 M210.39 395.06h0.01 M208.83 396.03h0.01 M207.31 401.21h0.01 M212.53 390.75h0.01 M203.66 403.19h0.01 M209.77 398.08h0.01 M211.15 395.05h0.01 M210.87 396.11h0.01 M217.79 392.84h0.01 M211.05 395.21h0.01 M207.87 396.33h0.01 M214.8 401.24h0.01 M217.67 394.05h0.01 M221.47 394.54h0.01 M212.74 395.5h0.01 M207.15 400.16h0.01 M208.12 393.25h0.01 M213.77 397.2h0.01 M212.26 394.74h0.01 M215.82 398.05h0.01 M211.3 398.68h0.01 M216.16 392.43h0.01 M211.7 394.11h0.01 M214.32 393.88h0.01 M216.31 391.36h0.01 M219.58 391.05h0.01 M206.64 396.46h0.01 M213.87 392.45h0.01 M212.33 391.38h0.01 M210.8 394.68h0.01 M204.01 402.59h0.01 M217.78 397.61h0.01 M206.91 398.26h0.01 M213.99 396.99h0.01 M206.87 400.21h0.01 M212.92 399.27h0.01 M203.55 399.43h0.01 M209.13 397.06h0.01 M214.5 392.88h0.01" stroke="#3c44cc" stroke-width="0.7" stroke-linecap="round" opacity="0.5"/>
<ellipse cx="212" cy="396.2" rx="6.5" ry="3" fill="#3a44c8" opacity="0.75" filter="url(#b1_0)" transform="rotate(-30 212 396.2)"/>
<ellipse cx="195" cy="397.5" rx="1.7" ry="6" fill="#4650d8" opacity="0.65" filter="url(#b0_8)" transform="rotate(0 195 397.5)"/>
<ellipse cx="212.5" cy="396" rx="2.6" ry="1" fill="#2e8c8a" opacity="0.55" filter="url(#b0_6)" transform="rotate(-30 212.5 396)"/>
<line x1="181.8" y1="386.5" x2="183.4" y2="386.5" stroke="#111" stroke-width="0.5" />
<line x1="181.8" y1="383.25" x2="183.4" y2="383.25" stroke="#111" stroke-width="0.5" />
<line x1="181.8" y1="381.35" x2="183.4" y2="381.35" stroke="#111" stroke-width="0.5" />
<line x1="181.8" y1="380" x2="183.4" y2="380" stroke="#111" stroke-width="0.5" />
<line x1="181.8" y1="378.95" x2="183.4" y2="378.95" stroke="#111" stroke-width="0.5" />
<line x1="181.8" y1="378.1" x2="183.4" y2="378.1" stroke="#111" stroke-width="0.5" />
<line x1="181.8" y1="377.37" x2="183.4" y2="377.37" stroke="#111" stroke-width="0.5" />
<line x1="181.8" y1="376.75" x2="183.4" y2="376.75" stroke="#111" stroke-width="0.5" />
<line x1="181.8" y1="376.19" x2="183.4" y2="376.19" stroke="#111" stroke-width="0.5" />
<line x1="181.8" y1="398.43" x2="183.4" y2="398.43" stroke="#111" stroke-width="0.5" />
<line x1="181.8" y1="394.84" x2="183.4" y2="394.84" stroke="#111" stroke-width="0.5" />
<line x1="181.8" y1="392.74" x2="183.4" y2="392.74" stroke="#111" stroke-width="0.5" />
<line x1="181.8" y1="391.25" x2="183.4" y2="391.25" stroke="#111" stroke-width="0.5" />
<line x1="181.8" y1="390.09" x2="183.4" y2="390.09" stroke="#111" stroke-width="0.5" />
<line x1="181.8" y1="389.15" x2="183.4" y2="389.15" stroke="#111" stroke-width="0.5" />
<line x1="181.8" y1="388.35" x2="183.4" y2="388.35" stroke="#111" stroke-width="0.5" />
<line x1="181.8" y1="387.66" x2="183.4" y2="387.66" stroke="#111" stroke-width="0.5" />
<line x1="181.8" y1="387.05" x2="183.4" y2="387.05" stroke="#111" stroke-width="0.5" />
<line x1="181.8" y1="405.85" x2="183.4" y2="405.85" stroke="#111" stroke-width="0.5" />
<line x1="181.8" y1="403.61" x2="183.4" y2="403.61" stroke="#111" stroke-width="0.5" />
<line x1="181.8" y1="402.31" x2="183.4" y2="402.31" stroke="#111" stroke-width="0.5" />
<line x1="181.8" y1="401.38" x2="183.4" y2="401.38" stroke="#111" stroke-width="0.5" />
<line x1="181.8" y1="400.66" x2="183.4" y2="400.66" stroke="#111" stroke-width="0.5" />
<line x1="181.8" y1="400.07" x2="183.4" y2="400.07" stroke="#111" stroke-width="0.5" />
<line x1="181.8" y1="399.58" x2="183.4" y2="399.58" stroke="#111" stroke-width="0.5" />
<line x1="181.8" y1="399.14" x2="183.4" y2="399.14" stroke="#111" stroke-width="0.5" />
<line x1="181.8" y1="398.76" x2="183.4" y2="398.76" stroke="#111" stroke-width="0.5" />
<line x1="181.8" y1="413.95" x2="183.4" y2="413.95" stroke="#111" stroke-width="0.5" />
<line x1="181.8" y1="411.51" x2="183.4" y2="411.51" stroke="#111" stroke-width="0.5" />
<line x1="181.8" y1="410.09" x2="183.4" y2="410.09" stroke="#111" stroke-width="0.5" />
<line x1="181.8" y1="409.07" x2="183.4" y2="409.07" stroke="#111" stroke-width="0.5" />
<line x1="181.8" y1="408.29" x2="183.4" y2="408.29" stroke="#111" stroke-width="0.5" />
<line x1="181.8" y1="407.65" x2="183.4" y2="407.65" stroke="#111" stroke-width="0.5" />
<line x1="181.8" y1="407.1" x2="183.4" y2="407.1" stroke="#111" stroke-width="0.5" />
<line x1="181.8" y1="406.63" x2="183.4" y2="406.63" stroke="#111" stroke-width="0.5" />
<line x1="181.8" y1="406.22" x2="183.4" y2="406.22" stroke="#111" stroke-width="0.5" />
<line x1="180.8" y1="375.7" x2="183.4" y2="375.7" stroke="#111" stroke-width="0.8" />
<line x1="180.8" y1="386.5" x2="183.4" y2="386.5" stroke="#111" stroke-width="0.8" />
<line x1="180.8" y1="398.43" x2="183.4" y2="398.43" stroke="#111" stroke-width="0.8" />
<line x1="180.8" y1="405.85" x2="183.4" y2="405.85" stroke="#111" stroke-width="0.8" />
<line x1="180.8" y1="413.95" x2="183.4" y2="413.95" stroke="#111" stroke-width="0.8" />
<line x1="186.18" y1="416.2" x2="186.18" y2="417.8" stroke="#111" stroke-width="0.5" />
<line x1="188.7" y1="416.2" x2="188.7" y2="417.8" stroke="#111" stroke-width="0.5" />
<line x1="190.17" y1="416.2" x2="190.17" y2="417.8" stroke="#111" stroke-width="0.5" />
<line x1="191.21" y1="416.2" x2="191.21" y2="417.8" stroke="#111" stroke-width="0.5" />
<line x1="192.02" y1="416.2" x2="192.02" y2="417.8" stroke="#111" stroke-width="0.5" />
<line x1="192.68" y1="416.2" x2="192.68" y2="417.8" stroke="#111" stroke-width="0.5" />
<line x1="193.24" y1="416.2" x2="193.24" y2="417.8" stroke="#111" stroke-width="0.5" />
<line x1="193.73" y1="416.2" x2="193.73" y2="417.8" stroke="#111" stroke-width="0.5" />
<line x1="194.15" y1="416.2" x2="194.15" y2="417.8" stroke="#111" stroke-width="0.5" />
<line x1="194.54" y1="416.2" x2="194.54" y2="417.8" stroke="#111" stroke-width="0.5" />
<line x1="196.35" y1="416.2" x2="196.35" y2="417.8" stroke="#111" stroke-width="0.5" />
<line x1="197.41" y1="416.2" x2="197.41" y2="417.8" stroke="#111" stroke-width="0.5" />
<line x1="198.17" y1="416.2" x2="198.17" y2="417.8" stroke="#111" stroke-width="0.5" />
<line x1="198.75" y1="416.2" x2="198.75" y2="417.8" stroke="#111" stroke-width="0.5" />
<line x1="199.23" y1="416.2" x2="199.23" y2="417.8" stroke="#111" stroke-width="0.5" />
<line x1="199.63" y1="416.2" x2="199.63" y2="417.8" stroke="#111" stroke-width="0.5" />
<line x1="199.98" y1="416.2" x2="199.98" y2="417.8" stroke="#111" stroke-width="0.5" />
<line x1="200.29" y1="416.2" x2="200.29" y2="417.8" stroke="#111" stroke-width="0.5" />
<line x1="200.57" y1="416.2" x2="200.57" y2="417.8" stroke="#111" stroke-width="0.5" />
<line x1="204.41" y1="416.2" x2="204.41" y2="417.8" stroke="#111" stroke-width="0.5" />
<line x1="206.66" y1="416.2" x2="206.66" y2="417.8" stroke="#111" stroke-width="0.5" />
<line x1="208.25" y1="416.2" x2="208.25" y2="417.8" stroke="#111" stroke-width="0.5" />
<line x1="209.49" y1="416.2" x2="209.49" y2="417.8" stroke="#111" stroke-width="0.5" />
<line x1="210.5" y1="416.2" x2="210.5" y2="417.8" stroke="#111" stroke-width="0.5" />
<line x1="211.35" y1="416.2" x2="211.35" y2="417.8" stroke="#111" stroke-width="0.5" />
<line x1="212.09" y1="416.2" x2="212.09" y2="417.8" stroke="#111" stroke-width="0.5" />
<line x1="212.74" y1="416.2" x2="212.74" y2="417.8" stroke="#111" stroke-width="0.5" />
<line x1="213.33" y1="416.2" x2="213.33" y2="417.8" stroke="#111" stroke-width="0.5" />
<line x1="216.75" y1="416.2" x2="216.75" y2="417.8" stroke="#111" stroke-width="0.5" />
<line x1="218.75" y1="416.2" x2="218.75" y2="417.8" stroke="#111" stroke-width="0.5" />
<line x1="220.17" y1="416.2" x2="220.17" y2="417.8" stroke="#111" stroke-width="0.5" />
<line x1="221.27" y1="416.2" x2="221.27" y2="417.8" stroke="#111" stroke-width="0.5" />
<line x1="222.17" y1="416.2" x2="222.17" y2="417.8" stroke="#111" stroke-width="0.5" />
<line x1="222.94" y1="416.2" x2="222.94" y2="417.8" stroke="#111" stroke-width="0.5" />
<line x1="223.59" y1="416.2" x2="223.59" y2="417.8" stroke="#111" stroke-width="0.5" />
<line x1="224.18" y1="416.2" x2="224.18" y2="417.8" stroke="#111" stroke-width="0.5" />
<line x1="186.18" y1="416.2" x2="186.18" y2="418.8" stroke="#111" stroke-width="0.8" />
<line x1="194.54" y1="416.2" x2="194.54" y2="418.8" stroke="#111" stroke-width="0.8" />
<line x1="200.57" y1="416.2" x2="200.57" y2="418.8" stroke="#111" stroke-width="0.8" />
<line x1="213.33" y1="416.2" x2="213.33" y2="418.8" stroke="#111" stroke-width="0.8" />
<line x1="224.7" y1="416.2" x2="224.7" y2="418.8" stroke="#111" stroke-width="0.8" />
<rect x="181.2" y="404.05" width="2.2" height="3.6" fill="#111" />
<rect x="195.46" y="416.2" width="3.71" height="2" fill="#111" />
<text x="179.8" y="377.3" font-size="4.68" text-anchor="end" fill="#555" color="#555" class="ns" textLength="6.28" lengthAdjust="spacingAndGlyphs">10³</text>
<text x="179.8" y="388.1" font-size="4.68" text-anchor="end" fill="#555" color="#555" class="ns" textLength="6.28" lengthAdjust="spacingAndGlyphs">10²</text>
<text x="179.8" y="400.03" font-size="4.68" text-anchor="end" fill="#555" color="#555" class="ns" textLength="6.28" lengthAdjust="spacingAndGlyphs">10¹</text>
<text x="179.8" y="407.45" font-size="4.68" text-anchor="end" fill="#555" color="#555" class="ns" textLength="2.42" lengthAdjust="spacingAndGlyphs">0</text>
<text x="179.8" y="415.55" font-size="4.68" text-anchor="end" fill="#555" color="#555" class="ns" textLength="7.72" lengthAdjust="spacingAndGlyphs">-10¹</text>
<text x="186.18" y="424.6" font-size="4.68" text-anchor="middle" fill="#555" color="#555" class="ns" textLength="7.72" lengthAdjust="spacingAndGlyphs">-10¹</text>
<text x="194.54" y="424.6" font-size="4.68" text-anchor="middle" fill="#555" color="#555" class="ns" textLength="2.42" lengthAdjust="spacingAndGlyphs">0</text>
<text x="200.57" y="424.6" font-size="4.68" text-anchor="middle" fill="#555" color="#555" class="ns" textLength="6.28" lengthAdjust="spacingAndGlyphs">10¹</text>
<text x="213.33" y="424.6" font-size="4.68" text-anchor="middle" fill="#555" color="#555" class="ns" textLength="6.28" lengthAdjust="spacingAndGlyphs">10²</text>
<text x="224.7" y="424.6" font-size="4.68" text-anchor="middle" fill="#555" color="#555" class="ns" textLength="6.28" lengthAdjust="spacingAndGlyphs">10³</text>
<rect x="183.4" y="371.2" width="46.4" height="45" fill="none" stroke="#111" stroke-width="1.3"/>
<path d="M133.14 461.08h0.01 M133.34 456.18h0.01 M130.47 455.98h0.01 M132.87 457.48h0.01 M132.73 459.3h0.01 M130.39 453.26h0.01 M134.11 455.06h0.01 M130.47 453.26h0.01 M133.35 452.47h0.01 M130.41 461.19h0.01 M132.01 457.22h0.01 M130.77 456.11h0.01 M131 456.91h0.01 M133.03 451.92h0.01 M134.21 456.7h0.01 M131.78 456.77h0.01 M133.41 458.28h0.01 M133.16 456.33h0.01 M131.61 456.78h0.01 M128.82 461.36h0.01 M129.28 453.02h0.01 M132.87 457.22h0.01 M133.1 463.82h0.01 M131.44 465.2h0.01 M130.39 456.65h0.01 M133.39 456.15h0.01 M131.61 455.59h0.01 M133.84 461.24h0.01 M131.68 459.24h0.01 M130.25 461.44h0.01 M134.03 456.77h0.01 M131.26 455.05h0.01 M131.5 451.99h0.01 M129.63 463.65h0.01 M131.77 459.21h0.01 M132.3 458.91h0.01 M129.36 453.21h0.01 M132.81 460.99h0.01 M129.97 454.69h0.01 M130.09 459.61h0.01 M132.35 457.13h0.01 M130.76 458.37h0.01 M131.85 454.03h0.01 M132.33 454.34h0.01 M133.32 459.5h0.01" stroke="#8a86e0" stroke-width="0.7" stroke-linecap="round" opacity="0.3"/>
<ellipse cx="131.3" cy="459.5" rx="1.6" ry="1.2" fill="#a09ae8" opacity="0.45" filter="url(#b0_6)" transform="rotate(0 131.3 459.5)"/>
<ellipse cx="131.5" cy="454.5" rx="1.4" ry="1.4" fill="#b0aaee" opacity="0.35" filter="url(#b0_6)" transform="rotate(0 131.5 454.5)"/>
<line x1="118.8" y1="442.27" x2="120.4" y2="442.27" stroke="#111" stroke-width="0.5" />
<line x1="118.8" y1="439.02" x2="120.4" y2="439.02" stroke="#111" stroke-width="0.5" />
<line x1="118.8" y1="437.12" x2="120.4" y2="437.12" stroke="#111" stroke-width="0.5" />
<line x1="118.8" y1="435.78" x2="120.4" y2="435.78" stroke="#111" stroke-width="0.5" />
<line x1="118.8" y1="434.73" x2="120.4" y2="434.73" stroke="#111" stroke-width="0.5" />
<line x1="118.8" y1="433.88" x2="120.4" y2="433.88" stroke="#111" stroke-width="0.5" />
<line x1="118.8" y1="433.16" x2="120.4" y2="433.16" stroke="#111" stroke-width="0.5" />
<line x1="118.8" y1="432.53" x2="120.4" y2="432.53" stroke="#111" stroke-width="0.5" />
<line x1="118.8" y1="431.98" x2="120.4" y2="431.98" stroke="#111" stroke-width="0.5" />
<line x1="118.8" y1="454.16" x2="120.4" y2="454.16" stroke="#111" stroke-width="0.5" />
<line x1="118.8" y1="450.58" x2="120.4" y2="450.58" stroke="#111" stroke-width="0.5" />
<line x1="118.8" y1="448.49" x2="120.4" y2="448.49" stroke="#111" stroke-width="0.5" />
<line x1="118.8" y1="447" x2="120.4" y2="447" stroke="#111" stroke-width="0.5" />
<line x1="118.8" y1="445.85" x2="120.4" y2="445.85" stroke="#111" stroke-width="0.5" />
<line x1="118.8" y1="444.91" x2="120.4" y2="444.91" stroke="#111" stroke-width="0.5" />
<line x1="118.8" y1="444.11" x2="120.4" y2="444.11" stroke="#111" stroke-width="0.5" />
<line x1="118.8" y1="443.42" x2="120.4" y2="443.42" stroke="#111" stroke-width="0.5" />
<line x1="118.8" y1="442.81" x2="120.4" y2="442.81" stroke="#111" stroke-width="0.5" />
<line x1="118.8" y1="461.57" x2="120.4" y2="461.57" stroke="#111" stroke-width="0.5" />
<line x1="118.8" y1="459.34" x2="120.4" y2="459.34" stroke="#111" stroke-width="0.5" />
<line x1="118.8" y1="458.04" x2="120.4" y2="458.04" stroke="#111" stroke-width="0.5" />
<line x1="118.8" y1="457.11" x2="120.4" y2="457.11" stroke="#111" stroke-width="0.5" />
<line x1="118.8" y1="456.39" x2="120.4" y2="456.39" stroke="#111" stroke-width="0.5" />
<line x1="118.8" y1="455.81" x2="120.4" y2="455.81" stroke="#111" stroke-width="0.5" />
<line x1="118.8" y1="455.31" x2="120.4" y2="455.31" stroke="#111" stroke-width="0.5" />
<line x1="118.8" y1="454.88" x2="120.4" y2="454.88" stroke="#111" stroke-width="0.5" />
<line x1="118.8" y1="454.5" x2="120.4" y2="454.5" stroke="#111" stroke-width="0.5" />
<line x1="118.8" y1="469.65" x2="120.4" y2="469.65" stroke="#111" stroke-width="0.5" />
<line x1="118.8" y1="467.22" x2="120.4" y2="467.22" stroke="#111" stroke-width="0.5" />
<line x1="118.8" y1="465.8" x2="120.4" y2="465.8" stroke="#111" stroke-width="0.5" />
<line x1="118.8" y1="464.79" x2="120.4" y2="464.79" stroke="#111" stroke-width="0.5" />
<line x1="118.8" y1="464.01" x2="120.4" y2="464.01" stroke="#111" stroke-width="0.5" />
<line x1="118.8" y1="463.37" x2="120.4" y2="463.37" stroke="#111" stroke-width="0.5" />
<line x1="118.8" y1="462.82" x2="120.4" y2="462.82" stroke="#111" stroke-width="0.5" />
<line x1="118.8" y1="462.36" x2="120.4" y2="462.36" stroke="#111" stroke-width="0.5" />
<line x1="118.8" y1="461.94" x2="120.4" y2="461.94" stroke="#111" stroke-width="0.5" />
<line x1="117.8" y1="431.49" x2="120.4" y2="431.49" stroke="#111" stroke-width="0.8" />
<line x1="117.8" y1="442.27" x2="120.4" y2="442.27" stroke="#111" stroke-width="0.8" />
<line x1="117.8" y1="454.16" x2="120.4" y2="454.16" stroke="#111" stroke-width="0.8" />
<line x1="117.8" y1="461.57" x2="120.4" y2="461.57" stroke="#111" stroke-width="0.8" />
<line x1="117.8" y1="469.65" x2="120.4" y2="469.65" stroke="#111" stroke-width="0.8" />
<line x1="123.15" y1="471.9" x2="123.15" y2="473.5" stroke="#111" stroke-width="0.5" />
<line x1="125.64" y1="471.9" x2="125.64" y2="473.5" stroke="#111" stroke-width="0.5" />
<line x1="127.1" y1="471.9" x2="127.1" y2="473.5" stroke="#111" stroke-width="0.5" />
<line x1="128.13" y1="471.9" x2="128.13" y2="473.5" stroke="#111" stroke-width="0.5" />
<line x1="128.93" y1="471.9" x2="128.93" y2="473.5" stroke="#111" stroke-width="0.5" />
<line x1="129.58" y1="471.9" x2="129.58" y2="473.5" stroke="#111" stroke-width="0.5" />
<line x1="130.14" y1="471.9" x2="130.14" y2="473.5" stroke="#111" stroke-width="0.5" />
<line x1="130.62" y1="471.9" x2="130.62" y2="473.5" stroke="#111" stroke-width="0.5" />
<line x1="131.04" y1="471.9" x2="131.04" y2="473.5" stroke="#111" stroke-width="0.5" />
<line x1="131.42" y1="471.9" x2="131.42" y2="473.5" stroke="#111" stroke-width="0.5" />
<line x1="133.21" y1="471.9" x2="133.21" y2="473.5" stroke="#111" stroke-width="0.5" />
<line x1="134.26" y1="471.9" x2="134.26" y2="473.5" stroke="#111" stroke-width="0.5" />
<line x1="135.01" y1="471.9" x2="135.01" y2="473.5" stroke="#111" stroke-width="0.5" />
<line x1="135.59" y1="471.9" x2="135.59" y2="473.5" stroke="#111" stroke-width="0.5" />
<line x1="136.06" y1="471.9" x2="136.06" y2="473.5" stroke="#111" stroke-width="0.5" />
<line x1="136.46" y1="471.9" x2="136.46" y2="473.5" stroke="#111" stroke-width="0.5" />
<line x1="136.8" y1="471.9" x2="136.8" y2="473.5" stroke="#111" stroke-width="0.5" />
<line x1="137.11" y1="471.9" x2="137.11" y2="473.5" stroke="#111" stroke-width="0.5" />
<line x1="137.38" y1="471.9" x2="137.38" y2="473.5" stroke="#111" stroke-width="0.5" />
<line x1="141.18" y1="471.9" x2="141.18" y2="473.5" stroke="#111" stroke-width="0.5" />
<line x1="143.41" y1="471.9" x2="143.41" y2="473.5" stroke="#111" stroke-width="0.5" />
<line x1="144.98" y1="471.9" x2="144.98" y2="473.5" stroke="#111" stroke-width="0.5" />
<line x1="146.21" y1="471.9" x2="146.21" y2="473.5" stroke="#111" stroke-width="0.5" />
<line x1="147.21" y1="471.9" x2="147.21" y2="473.5" stroke="#111" stroke-width="0.5" />
<line x1="148.05" y1="471.9" x2="148.05" y2="473.5" stroke="#111" stroke-width="0.5" />
<line x1="148.78" y1="471.9" x2="148.78" y2="473.5" stroke="#111" stroke-width="0.5" />
<line x1="149.43" y1="471.9" x2="149.43" y2="473.5" stroke="#111" stroke-width="0.5" />
<line x1="150.01" y1="471.9" x2="150.01" y2="473.5" stroke="#111" stroke-width="0.5" />
<line x1="153.39" y1="471.9" x2="153.39" y2="473.5" stroke="#111" stroke-width="0.5" />
<line x1="155.37" y1="471.9" x2="155.37" y2="473.5" stroke="#111" stroke-width="0.5" />
<line x1="156.78" y1="471.9" x2="156.78" y2="473.5" stroke="#111" stroke-width="0.5" />
<line x1="157.87" y1="471.9" x2="157.87" y2="473.5" stroke="#111" stroke-width="0.5" />
<line x1="158.76" y1="471.9" x2="158.76" y2="473.5" stroke="#111" stroke-width="0.5" />
<line x1="159.51" y1="471.9" x2="159.51" y2="473.5" stroke="#111" stroke-width="0.5" />
<line x1="160.16" y1="471.9" x2="160.16" y2="473.5" stroke="#111" stroke-width="0.5" />
<line x1="160.74" y1="471.9" x2="160.74" y2="473.5" stroke="#111" stroke-width="0.5" />
<line x1="123.15" y1="471.9" x2="123.15" y2="474.5" stroke="#111" stroke-width="0.8" />
<line x1="131.42" y1="471.9" x2="131.42" y2="474.5" stroke="#111" stroke-width="0.8" />
<line x1="137.38" y1="471.9" x2="137.38" y2="474.5" stroke="#111" stroke-width="0.8" />
<line x1="150.01" y1="471.9" x2="150.01" y2="474.5" stroke="#111" stroke-width="0.8" />
<line x1="161.25" y1="471.9" x2="161.25" y2="474.5" stroke="#111" stroke-width="0.8" />
<rect x="118.2" y="459.78" width="2.2" height="3.59" fill="#111" />
<rect x="132.33" y="471.9" width="3.67" height="2" fill="#111" />
<text x="116.8" y="433.09" font-size="4.68" text-anchor="end" fill="#555" color="#555" class="ns" textLength="6.28" lengthAdjust="spacingAndGlyphs">10³</text>
<text x="116.8" y="443.87" font-size="4.68" text-anchor="end" fill="#555" color="#555" class="ns" textLength="6.28" lengthAdjust="spacingAndGlyphs">10²</text>
<text x="116.8" y="455.76" font-size="4.68" text-anchor="end" fill="#555" color="#555" class="ns" textLength="6.28" lengthAdjust="spacingAndGlyphs">10¹</text>
<text x="116.8" y="463.17" font-size="4.68" text-anchor="end" fill="#555" color="#555" class="ns" textLength="2.42" lengthAdjust="spacingAndGlyphs">0</text>
<text x="116.8" y="471.25" font-size="4.68" text-anchor="end" fill="#555" color="#555" class="ns" textLength="7.72" lengthAdjust="spacingAndGlyphs">-10¹</text>
<text x="123.15" y="480.3" font-size="4.68" text-anchor="middle" fill="#555" color="#555" class="ns" textLength="7.72" lengthAdjust="spacingAndGlyphs">-10¹</text>
<text x="131.42" y="480.3" font-size="4.68" text-anchor="middle" fill="#555" color="#555" class="ns" textLength="2.42" lengthAdjust="spacingAndGlyphs">0</text>
<text x="137.38" y="480.3" font-size="4.68" text-anchor="middle" fill="#555" color="#555" class="ns" textLength="6.28" lengthAdjust="spacingAndGlyphs">10¹</text>
<text x="150.01" y="480.3" font-size="4.68" text-anchor="middle" fill="#555" color="#555" class="ns" textLength="6.28" lengthAdjust="spacingAndGlyphs">10²</text>
<text x="161.25" y="480.3" font-size="4.68" text-anchor="middle" fill="#555" color="#555" class="ns" textLength="6.28" lengthAdjust="spacingAndGlyphs">10³</text>
<rect x="120.4" y="427" width="45.9" height="44.9" fill="none" stroke="#111" stroke-width="1.3"/>
<path d="M194.33 459.77h0.01 M195.61 454.34h0.01 M193.95 450.32h0.01 M193.58 458.76h0.01 M197.55 454.66h0.01 M195.77 458.75h0.01 M196.83 459.16h0.01 M197.59 460.52h0.01 M194.2 458.97h0.01 M195.53 459.73h0.01 M194.99 460.8h0.01 M197.75 453.77h0.01 M194.58 458.39h0.01 M196.33 457.9h0.01 M196.91 452.33h0.01 M196.82 462.2h0.01 M197.39 459.09h0.01 M195.1 458.98h0.01 M195.37 450.64h0.01 M194.47 457.13h0.01 M194.62 453.38h0.01 M195.11 455.74h0.01 M195.62 457.1h0.01 M195.79 461.47h0.01 M195.73 459.01h0.01 M194.82 460.14h0.01 M194.92 454.68h0.01 M193.39 461.05h0.01 M194.6 458.33h0.01 M197.42 459.55h0.01 M197.13 460.21h0.01 M194.39 457.5h0.01 M194.54 453h0.01 M196.01 454.05h0.01 M198.36 454.19h0.01 M194.57 457.68h0.01 M194.62 457.52h0.01 M194.47 451.33h0.01 M198.09 459.17h0.01 M195.76 455.35h0.01 M195.25 458.56h0.01 M193.14 453.95h0.01 M193.99 462.59h0.01 M193.7 462.22h0.01 M195.37 457.44h0.01 M197.8 460.97h0.01 M197.1 452.81h0.01 M197.43 464.36h0.01 M195.33 455.27h0.01 M193.64 461.57h0.01" stroke="#8a86e0" stroke-width="0.7" stroke-linecap="round" opacity="0.3"/>
<ellipse cx="195.4" cy="458.5" rx="1.5" ry="1.6" fill="#a09ae8" opacity="0.45" filter="url(#b0_6)" transform="rotate(0 195.4 458.5)"/>
<ellipse cx="195.8" cy="453.8" rx="1.3" ry="1.3" fill="#b0aaee" opacity="0.35" filter="url(#b0_6)" transform="rotate(0 195.8 453.8)"/>
<line x1="181.8" y1="442.27" x2="183.4" y2="442.27" stroke="#111" stroke-width="0.5" />
<line x1="181.8" y1="439.02" x2="183.4" y2="439.02" stroke="#111" stroke-width="0.5" />
<line x1="181.8" y1="437.12" x2="183.4" y2="437.12" stroke="#111" stroke-width="0.5" />
<line x1="181.8" y1="435.78" x2="183.4" y2="435.78" stroke="#111" stroke-width="0.5" />
<line x1="181.8" y1="434.73" x2="183.4" y2="434.73" stroke="#111" stroke-width="0.5" />
<line x1="181.8" y1="433.88" x2="183.4" y2="433.88" stroke="#111" stroke-width="0.5" />
<line x1="181.8" y1="433.16" x2="183.4" y2="433.16" stroke="#111" stroke-width="0.5" />
<line x1="181.8" y1="432.53" x2="183.4" y2="432.53" stroke="#111" stroke-width="0.5" />
<line x1="181.8" y1="431.98" x2="183.4" y2="431.98" stroke="#111" stroke-width="0.5" />
<line x1="181.8" y1="454.16" x2="183.4" y2="454.16" stroke="#111" stroke-width="0.5" />
<line x1="181.8" y1="450.58" x2="183.4" y2="450.58" stroke="#111" stroke-width="0.5" />
<line x1="181.8" y1="448.49" x2="183.4" y2="448.49" stroke="#111" stroke-width="0.5" />
<line x1="181.8" y1="447" x2="183.4" y2="447" stroke="#111" stroke-width="0.5" />
<line x1="181.8" y1="445.85" x2="183.4" y2="445.85" stroke="#111" stroke-width="0.5" />
<line x1="181.8" y1="444.91" x2="183.4" y2="444.91" stroke="#111" stroke-width="0.5" />
<line x1="181.8" y1="444.11" x2="183.4" y2="444.11" stroke="#111" stroke-width="0.5" />
<line x1="181.8" y1="443.42" x2="183.4" y2="443.42" stroke="#111" stroke-width="0.5" />
<line x1="181.8" y1="442.81" x2="183.4" y2="442.81" stroke="#111" stroke-width="0.5" />
<line x1="181.8" y1="461.57" x2="183.4" y2="461.57" stroke="#111" stroke-width="0.5" />
<line x1="181.8" y1="459.34" x2="183.4" y2="459.34" stroke="#111" stroke-width="0.5" />
<line x1="181.8" y1="458.04" x2="183.4" y2="458.04" stroke="#111" stroke-width="0.5" />
<line x1="181.8" y1="457.11" x2="183.4" y2="457.11" stroke="#111" stroke-width="0.5" />
<line x1="181.8" y1="456.39" x2="183.4" y2="456.39" stroke="#111" stroke-width="0.5" />
<line x1="181.8" y1="455.81" x2="183.4" y2="455.81" stroke="#111" stroke-width="0.5" />
<line x1="181.8" y1="455.31" x2="183.4" y2="455.31" stroke="#111" stroke-width="0.5" />
<line x1="181.8" y1="454.88" x2="183.4" y2="454.88" stroke="#111" stroke-width="0.5" />
<line x1="181.8" y1="454.5" x2="183.4" y2="454.5" stroke="#111" stroke-width="0.5" />
<line x1="181.8" y1="469.65" x2="183.4" y2="469.65" stroke="#111" stroke-width="0.5" />
<line x1="181.8" y1="467.22" x2="183.4" y2="467.22" stroke="#111" stroke-width="0.5" />
<line x1="181.8" y1="465.8" x2="183.4" y2="465.8" stroke="#111" stroke-width="0.5" />
<line x1="181.8" y1="464.79" x2="183.4" y2="464.79" stroke="#111" stroke-width="0.5" />
<line x1="181.8" y1="464.01" x2="183.4" y2="464.01" stroke="#111" stroke-width="0.5" />
<line x1="181.8" y1="463.37" x2="183.4" y2="463.37" stroke="#111" stroke-width="0.5" />
<line x1="181.8" y1="462.82" x2="183.4" y2="462.82" stroke="#111" stroke-width="0.5" />
<line x1="181.8" y1="462.36" x2="183.4" y2="462.36" stroke="#111" stroke-width="0.5" />
<line x1="181.8" y1="461.94" x2="183.4" y2="461.94" stroke="#111" stroke-width="0.5" />
<line x1="180.8" y1="431.49" x2="183.4" y2="431.49" stroke="#111" stroke-width="0.8" />
<line x1="180.8" y1="442.27" x2="183.4" y2="442.27" stroke="#111" stroke-width="0.8" />
<line x1="180.8" y1="454.16" x2="183.4" y2="454.16" stroke="#111" stroke-width="0.8" />
<line x1="180.8" y1="461.57" x2="183.4" y2="461.57" stroke="#111" stroke-width="0.8" />
<line x1="180.8" y1="469.65" x2="183.4" y2="469.65" stroke="#111" stroke-width="0.8" />
<line x1="186.18" y1="471.9" x2="186.18" y2="473.5" stroke="#111" stroke-width="0.5" />
<line x1="188.7" y1="471.9" x2="188.7" y2="473.5" stroke="#111" stroke-width="0.5" />
<line x1="190.17" y1="471.9" x2="190.17" y2="473.5" stroke="#111" stroke-width="0.5" />
<line x1="191.21" y1="471.9" x2="191.21" y2="473.5" stroke="#111" stroke-width="0.5" />
<line x1="192.02" y1="471.9" x2="192.02" y2="473.5" stroke="#111" stroke-width="0.5" />
<line x1="192.68" y1="471.9" x2="192.68" y2="473.5" stroke="#111" stroke-width="0.5" />
<line x1="193.24" y1="471.9" x2="193.24" y2="473.5" stroke="#111" stroke-width="0.5" />
<line x1="193.73" y1="471.9" x2="193.73" y2="473.5" stroke="#111" stroke-width="0.5" />
<line x1="194.15" y1="471.9" x2="194.15" y2="473.5" stroke="#111" stroke-width="0.5" />
<line x1="194.54" y1="471.9" x2="194.54" y2="473.5" stroke="#111" stroke-width="0.5" />
<line x1="196.35" y1="471.9" x2="196.35" y2="473.5" stroke="#111" stroke-width="0.5" />
<line x1="197.41" y1="471.9" x2="197.41" y2="473.5" stroke="#111" stroke-width="0.5" />
<line x1="198.17" y1="471.9" x2="198.17" y2="473.5" stroke="#111" stroke-width="0.5" />
<line x1="198.75" y1="471.9" x2="198.75" y2="473.5" stroke="#111" stroke-width="0.5" />
<line x1="199.23" y1="471.9" x2="199.23" y2="473.5" stroke="#111" stroke-width="0.5" />
<line x1="199.63" y1="471.9" x2="199.63" y2="473.5" stroke="#111" stroke-width="0.5" />
<line x1="199.98" y1="471.9" x2="199.98" y2="473.5" stroke="#111" stroke-width="0.5" />
<line x1="200.29" y1="471.9" x2="200.29" y2="473.5" stroke="#111" stroke-width="0.5" />
<line x1="200.57" y1="471.9" x2="200.57" y2="473.5" stroke="#111" stroke-width="0.5" />
<line x1="204.41" y1="471.9" x2="204.41" y2="473.5" stroke="#111" stroke-width="0.5" />
<line x1="206.66" y1="471.9" x2="206.66" y2="473.5" stroke="#111" stroke-width="0.5" />
<line x1="208.25" y1="471.9" x2="208.25" y2="473.5" stroke="#111" stroke-width="0.5" />
<line x1="209.49" y1="471.9" x2="209.49" y2="473.5" stroke="#111" stroke-width="0.5" />
<line x1="210.5" y1="471.9" x2="210.5" y2="473.5" stroke="#111" stroke-width="0.5" />
<line x1="211.35" y1="471.9" x2="211.35" y2="473.5" stroke="#111" stroke-width="0.5" />
<line x1="212.09" y1="471.9" x2="212.09" y2="473.5" stroke="#111" stroke-width="0.5" />
<line x1="212.74" y1="471.9" x2="212.74" y2="473.5" stroke="#111" stroke-width="0.5" />
<line x1="213.33" y1="471.9" x2="213.33" y2="473.5" stroke="#111" stroke-width="0.5" />
<line x1="216.75" y1="471.9" x2="216.75" y2="473.5" stroke="#111" stroke-width="0.5" />
<line x1="218.75" y1="471.9" x2="218.75" y2="473.5" stroke="#111" stroke-width="0.5" />
<line x1="220.17" y1="471.9" x2="220.17" y2="473.5" stroke="#111" stroke-width="0.5" />
<line x1="221.27" y1="471.9" x2="221.27" y2="473.5" stroke="#111" stroke-width="0.5" />
<line x1="222.17" y1="471.9" x2="222.17" y2="473.5" stroke="#111" stroke-width="0.5" />
<line x1="222.94" y1="471.9" x2="222.94" y2="473.5" stroke="#111" stroke-width="0.5" />
<line x1="223.59" y1="471.9" x2="223.59" y2="473.5" stroke="#111" stroke-width="0.5" />
<line x1="224.18" y1="471.9" x2="224.18" y2="473.5" stroke="#111" stroke-width="0.5" />
<line x1="186.18" y1="471.9" x2="186.18" y2="474.5" stroke="#111" stroke-width="0.8" />
<line x1="194.54" y1="471.9" x2="194.54" y2="474.5" stroke="#111" stroke-width="0.8" />
<line x1="200.57" y1="471.9" x2="200.57" y2="474.5" stroke="#111" stroke-width="0.8" />
<line x1="213.33" y1="471.9" x2="213.33" y2="474.5" stroke="#111" stroke-width="0.8" />
<line x1="224.7" y1="471.9" x2="224.7" y2="474.5" stroke="#111" stroke-width="0.8" />
<rect x="181.2" y="459.78" width="2.2" height="3.59" fill="#111" />
<rect x="195.46" y="471.9" width="3.71" height="2" fill="#111" />
<text x="179.8" y="433.09" font-size="4.68" text-anchor="end" fill="#555" color="#555" class="ns" textLength="6.28" lengthAdjust="spacingAndGlyphs">10³</text>
<text x="179.8" y="443.87" font-size="4.68" text-anchor="end" fill="#555" color="#555" class="ns" textLength="6.28" lengthAdjust="spacingAndGlyphs">10²</text>
<text x="179.8" y="455.76" font-size="4.68" text-anchor="end" fill="#555" color="#555" class="ns" textLength="6.28" lengthAdjust="spacingAndGlyphs">10¹</text>
<text x="179.8" y="463.17" font-size="4.68" text-anchor="end" fill="#555" color="#555" class="ns" textLength="2.42" lengthAdjust="spacingAndGlyphs">0</text>
<text x="179.8" y="471.25" font-size="4.68" text-anchor="end" fill="#555" color="#555" class="ns" textLength="7.72" lengthAdjust="spacingAndGlyphs">-10¹</text>
<text x="186.18" y="480.3" font-size="4.68" text-anchor="middle" fill="#555" color="#555" class="ns" textLength="7.72" lengthAdjust="spacingAndGlyphs">-10¹</text>
<text x="194.54" y="480.3" font-size="4.68" text-anchor="middle" fill="#555" color="#555" class="ns" textLength="2.42" lengthAdjust="spacingAndGlyphs">0</text>
<text x="200.57" y="480.3" font-size="4.68" text-anchor="middle" fill="#555" color="#555" class="ns" textLength="6.28" lengthAdjust="spacingAndGlyphs">10¹</text>
<text x="213.33" y="480.3" font-size="4.68" text-anchor="middle" fill="#555" color="#555" class="ns" textLength="6.28" lengthAdjust="spacingAndGlyphs">10²</text>
<text x="224.7" y="480.3" font-size="4.68" text-anchor="middle" fill="#555" color="#555" class="ns" textLength="6.28" lengthAdjust="spacingAndGlyphs">10³</text>
<rect x="183.4" y="427" width="46.4" height="44.9" fill="none" stroke="#111" stroke-width="1.3"/>
<line x1="101.9" y1="234" x2="101.9" y2="304.7" stroke="#111" stroke-width="1.2" />
<path d="M101.9 230 L98.6 237 L101.9 235.5 L105.2 237 Z" stroke="none" stroke-width="1" fill="#111" />
<text x="104.4" y="326.9" font-size="9.78" text-anchor="start" fill="#111" color="#111" textLength="18.6" lengthAdjust="spacingAndGlyphs" transform="rotate(-90 104.4 326.9)">PD-1</text>
<line x1="142" y1="342.2" x2="159.4" y2="342.2" stroke="#111" stroke-width="1.2" />
<path d="M163.4 342.2 L156.4 338.9 L157.9 342.2 L156.4 345.5 Z" stroke="none" stroke-width="1" fill="#111" />
<text x="121.8" y="345" font-size="9.98" text-anchor="start" fill="#111" color="#111" textLength="17.4" lengthAdjust="spacingAndGlyphs">CD4</text>
<line x1="206" y1="342.2" x2="223.2" y2="342.2" stroke="#111" stroke-width="1.2" />
<path d="M227.2 342.2 L220.2 338.9 L221.7 342.2 L220.2 345.5 Z" stroke="none" stroke-width="1" fill="#111" />
<text x="185.5" y="345" font-size="9.98" text-anchor="start" fill="#111" color="#111" textLength="17.6" lengthAdjust="spacingAndGlyphs">CD8</text>
<line x1="100.1" y1="379" x2="100.1" y2="448.8" stroke="#111" stroke-width="1.2" />
<path d="M100.1 375 L96.8 382 L100.1 380.5 L103.4 382 Z" stroke="none" stroke-width="1" fill="#111" />
<text x="102.6" y="472.7" font-size="9.78" text-anchor="start" fill="#111" color="#111" textLength="20.6" lengthAdjust="spacingAndGlyphs" transform="rotate(-90 102.6 472.7)">LAG3</text>
<line x1="131.8" y1="487" x2="211.2" y2="487" stroke="#111" stroke-width="1.2" />
<path d="M215.2 487 L208.2 483.7 L209.7 487 L208.2 490.3 Z" stroke="none" stroke-width="1" fill="#111" />
<text x="109.6" y="490" font-size="10.3" text-anchor="start" fill="#111" color="#111" textLength="19.4" lengthAdjust="spacingAndGlyphs">Tim3</text>
<text x="267.2" y="218.2" font-size="11.02" text-anchor="start" fill="#111" color="#111" textLength="6.9" lengthAdjust="spacingAndGlyphs">D</text>
<line x1="335.2" y1="225.6" x2="335.2" y2="301" stroke="#111" stroke-width="1.2" />
<line x1="332.6" y1="300.4" x2="335.2" y2="300.4" stroke="#111" stroke-width="1" />
<text x="330.2" y="303.2" font-size="8.51" text-anchor="end" fill="#111" color="#111" textLength="4.08" lengthAdjust="spacingAndGlyphs">0</text>
<line x1="332.6" y1="286.05" x2="335.2" y2="286.05" stroke="#111" stroke-width="1" />
<text x="330.2" y="288.85" font-size="8.51" text-anchor="end" fill="#111" color="#111" textLength="8.16" lengthAdjust="spacingAndGlyphs">20</text>
<line x1="332.6" y1="271.7" x2="335.2" y2="271.7" stroke="#111" stroke-width="1" />
<text x="330.2" y="274.5" font-size="8.51" text-anchor="end" fill="#111" color="#111" textLength="8.16" lengthAdjust="spacingAndGlyphs">40</text>
<line x1="332.6" y1="257.35" x2="335.2" y2="257.35" stroke="#111" stroke-width="1" />
<text x="330.2" y="260.15" font-size="8.51" text-anchor="end" fill="#111" color="#111" textLength="8.16" lengthAdjust="spacingAndGlyphs">60</text>
<line x1="332.6" y1="243" x2="335.2" y2="243" stroke="#111" stroke-width="1" />
<text x="330.2" y="245.8" font-size="8.51" text-anchor="end" fill="#111" color="#111" textLength="8.16" lengthAdjust="spacingAndGlyphs">80</text>
<line x1="332.6" y1="228.65" x2="335.2" y2="228.65" stroke="#111" stroke-width="1" />
<text x="330.2" y="231.45" font-size="8.51" text-anchor="end" fill="#111" color="#111" textLength="12.24" lengthAdjust="spacingAndGlyphs">100</text>
<line x1="334.6" y1="300.5" x2="443.3" y2="300.5" stroke="#1a1a1a" stroke-width="1.45" />
<line x1="355" y1="300.4" x2="355" y2="303.2" stroke="#111" stroke-width="1" />
<line x1="378.1" y1="300.4" x2="378.1" y2="303.2" stroke="#111" stroke-width="1" />
<line x1="401.2" y1="300.4" x2="401.2" y2="303.2" stroke="#111" stroke-width="1" />
<line x1="424.2" y1="300.4" x2="424.2" y2="303.2" stroke="#111" stroke-width="1" />
<line x1="346.6" y1="269.6" x2="375.7" y2="269.6" stroke="#3a3a3a" stroke-width="1.4" />
<text x="361.15" y="264.6" font-size="7.38" text-anchor="middle" fill="#111" color="#111" textLength="29.5" lengthAdjust="spacingAndGlyphs">p&lt;0.0001</text>
<line x1="400.2" y1="239" x2="429.2" y2="239" stroke="#3a3a3a" stroke-width="1.4" />
<text x="414.7" y="234" font-size="7.38" text-anchor="middle" fill="#111" color="#111" textLength="29.5" lengthAdjust="spacingAndGlyphs">p&lt;0.0001</text>
<text x="298.3" y="263.8" font-size="8.94" text-anchor="middle" fill="#111" color="#111" textLength="75" lengthAdjust="spacingAndGlyphs" transform="rotate(-90 298.3 263.8)">Percent PD1+ cells</text>
<text x="310.3" y="263.8" font-size="8.94" text-anchor="middle" fill="#111" color="#111" textLength="66" lengthAdjust="spacingAndGlyphs" transform="rotate(-90 310.3 263.8)">expressing Tim3</text>
<circle cx="348.7" cy="293.7" r="1.45" fill="#1c4486" />
<circle cx="351.5" cy="296.2" r="1.45" fill="#1c4486" />
<circle cx="355" cy="297.5" r="1.45" fill="#1c4486" />
<circle cx="358.3" cy="296.2" r="1.45" fill="#1c4486" />
<circle cx="361.2" cy="295" r="1.45" fill="#1c4486" />
<line x1="347.5" y1="295.6" x2="362.5" y2="295.6" stroke="#333" stroke-width="1.3" />
<line x1="355" y1="294.2" x2="355" y2="296.9" stroke="#333" stroke-width="1.1" />
<line x1="351" y1="294.2" x2="359" y2="294.2" stroke="#333" stroke-width="1.1" />
<line x1="351" y1="296.9" x2="359" y2="296.9" stroke="#333" stroke-width="1.1" />
<circle cx="378.1" cy="275" r="1.45" fill="#1c4486" />
<circle cx="371.7" cy="281.2" r="1.45" fill="#1c4486" />
<circle cx="384.2" cy="281.2" r="1.45" fill="#1c4486" />
<circle cx="376.2" cy="284" r="1.45" fill="#1c4486" />
<circle cx="380.8" cy="284" r="1.45" fill="#1c4486" />
<line x1="370.4" y1="281.2" x2="385.8" y2="281.2" stroke="#333" stroke-width="1.3" />
<line x1="378.1" y1="277.7" x2="378.1" y2="284.4" stroke="#333" stroke-width="1.1" />
<line x1="373.6" y1="277.7" x2="382.6" y2="277.7" stroke="#333" stroke-width="1.1" />
<line x1="373.6" y1="284.4" x2="382.6" y2="284.4" stroke="#333" stroke-width="1.1" />
<circle cx="401.2" cy="292.3" r="1.45" fill="#b0102c" />
<circle cx="395.8" cy="296.5" r="1.45" fill="#b0102c" />
<circle cx="406.3" cy="296.5" r="1.45" fill="#b0102c" />
<circle cx="398.7" cy="298" r="1.45" fill="#b0102c" />
<circle cx="403.5" cy="298" r="1.45" fill="#b0102c" />
<line x1="393.95" y1="296.5" x2="408.45" y2="296.5" stroke="#333" stroke-width="1.3" />
<line x1="401.2" y1="293.7" x2="401.2" y2="298.5" stroke="#333" stroke-width="1.1" />
<line x1="397.2" y1="293.7" x2="405.2" y2="293.7" stroke="#333" stroke-width="1.1" />
<line x1="397.2" y1="298.5" x2="405.2" y2="298.5" stroke="#333" stroke-width="1.1" />
<circle cx="424.2" cy="245.6" r="1.45" fill="#b0102c" />
<circle cx="417.9" cy="248.5" r="1.45" fill="#b0102c" />
<circle cx="430.4" cy="248.5" r="1.45" fill="#b0102c" />
<circle cx="421.7" cy="251.3" r="1.45" fill="#b0102c" />
<circle cx="426.5" cy="251.3" r="1.45" fill="#b0102c" />
<line x1="416.3" y1="248.5" x2="432.1" y2="248.5" stroke="#333" stroke-width="1.3" />
<line x1="424.2" y1="246.5" x2="424.2" y2="250.4" stroke="#333" stroke-width="1.1" />
<line x1="420.2" y1="246.5" x2="428.2" y2="246.5" stroke="#333" stroke-width="1.1" />
<line x1="420.2" y1="250.4" x2="428.2" y2="250.4" stroke="#333" stroke-width="1.1" />
<text x="357.6" y="308.4" font-size="8.18" text-anchor="end" fill="#111" color="#111" textLength="44" lengthAdjust="spacingAndGlyphs" transform="rotate(-45 357.6 308.4)">No leukemia</text>
<text x="381.96" y="310.22" font-size="8.18" text-anchor="end" fill="#111" color="#111" textLength="25" lengthAdjust="spacingAndGlyphs" transform="rotate(-45 381.96 310.22)">Day 10</text>
<text x="403.8" y="308.4" font-size="8.18" text-anchor="end" fill="#111" color="#111" textLength="46" lengthAdjust="spacingAndGlyphs" transform="rotate(-45 403.8 308.4)">No Leukemia</text>
<text x="428.06" y="310.22" font-size="8.18" text-anchor="end" fill="#111" color="#111" textLength="25" lengthAdjust="spacingAndGlyphs" transform="rotate(-45 428.06 310.22)">Day 10</text>
<line x1="330" y1="350.2" x2="363" y2="350.2" stroke="#666" stroke-width="1.4" />
<text x="346.3" y="358.5" font-size="7.9" text-anchor="middle" fill="#111" color="#111" textLength="14.67" lengthAdjust="spacingAndGlyphs">CD4</text>
<line x1="384.5" y1="350.2" x2="417.5" y2="350.2" stroke="#666" stroke-width="1.4" />
<text x="403" y="358.5" font-size="7.9" text-anchor="middle" fill="#111" color="#111" textLength="14.67" lengthAdjust="spacingAndGlyphs">CD8</text>
<line x1="335.2" y1="378" x2="335.2" y2="458.1" stroke="#111" stroke-width="1.2" />
<line x1="332.6" y1="457.5" x2="335.2" y2="457.5" stroke="#111" stroke-width="1" />
<text x="330.2" y="460.3" font-size="8.51" text-anchor="end" fill="#111" color="#111" textLength="4.08" lengthAdjust="spacingAndGlyphs">0</text>
<line x1="332.6" y1="442.1" x2="335.2" y2="442.1" stroke="#111" stroke-width="1" />
<text x="330.2" y="444.9" font-size="8.51" text-anchor="end" fill="#111" color="#111" textLength="8.16" lengthAdjust="spacingAndGlyphs">20</text>
<line x1="332.6" y1="426.7" x2="335.2" y2="426.7" stroke="#111" stroke-width="1" />
<text x="330.2" y="429.5" font-size="8.51" text-anchor="end" fill="#111" color="#111" textLength="8.16" lengthAdjust="spacingAndGlyphs">40</text>
<line x1="332.6" y1="411.3" x2="335.2" y2="411.3" stroke="#111" stroke-width="1" />
<text x="330.2" y="414.1" font-size="8.51" text-anchor="end" fill="#111" color="#111" textLength="8.16" lengthAdjust="spacingAndGlyphs">60</text>
<line x1="332.6" y1="395.9" x2="335.2" y2="395.9" stroke="#111" stroke-width="1" />
<text x="330.2" y="398.7" font-size="8.51" text-anchor="end" fill="#111" color="#111" textLength="8.16" lengthAdjust="spacingAndGlyphs">80</text>
<line x1="332.6" y1="380.5" x2="335.2" y2="380.5" stroke="#111" stroke-width="1" />
<text x="330.2" y="383.3" font-size="8.51" text-anchor="end" fill="#111" color="#111" textLength="12.24" lengthAdjust="spacingAndGlyphs">100</text>
<line x1="334.6" y1="457.6" x2="451.3" y2="457.6" stroke="#1a1a1a" stroke-width="1.45" />
<line x1="356.25" y1="457.5" x2="356.25" y2="460.3" stroke="#111" stroke-width="1" />
<line x1="381.25" y1="457.5" x2="381.25" y2="460.3" stroke="#111" stroke-width="1" />
<line x1="406.25" y1="457.5" x2="406.25" y2="460.3" stroke="#111" stroke-width="1" />
<line x1="431.25" y1="457.5" x2="431.25" y2="460.3" stroke="#111" stroke-width="1" />
<line x1="347" y1="418" x2="378.75" y2="418" stroke="#3a3a3a" stroke-width="1.4" />
<text x="362.88" y="413" font-size="7.38" text-anchor="middle" fill="#111" color="#111" textLength="29.5" lengthAdjust="spacingAndGlyphs">p&lt;0.0001</text>
<line x1="405" y1="391.25" x2="436.25" y2="391.25" stroke="#3a3a3a" stroke-width="1.4" />
<text x="420.62" y="386.25" font-size="7.38" text-anchor="middle" fill="#111" color="#111" textLength="29.5" lengthAdjust="spacingAndGlyphs">p&lt;0.0001</text>
<text x="300.3" y="418" font-size="8.94" text-anchor="middle" fill="#111" color="#111" textLength="67" lengthAdjust="spacingAndGlyphs" transform="rotate(-90 300.3 418)">Percent of PD1+</text>
<text x="310.8" y="418" font-size="8.94" text-anchor="middle" fill="#111" color="#111" textLength="65" lengthAdjust="spacingAndGlyphs" transform="rotate(-90 310.8 418)">expressing Lag3</text>
<circle cx="350" cy="455.2" r="1.45" fill="#1c4486" />
<circle cx="353.5" cy="456.6" r="1.45" fill="#1c4486" />
<circle cx="356.3" cy="455.5" r="1.45" fill="#1c4486" />
<circle cx="359.5" cy="456.4" r="1.45" fill="#1c4486" />
<circle cx="362.5" cy="455.3" r="1.45" fill="#1c4486" />
<line x1="348.75" y1="455.9" x2="363.75" y2="455.9" stroke="#333" stroke-width="1.3" />
<line x1="356.25" y1="455" x2="356.25" y2="456.8" stroke="#333" stroke-width="1.1" />
<line x1="352.75" y1="455" x2="359.75" y2="455" stroke="#333" stroke-width="1.1" />
<line x1="352.75" y1="456.8" x2="359.75" y2="456.8" stroke="#333" stroke-width="1.1" />
<circle cx="377.5" cy="425.5" r="1.45" fill="#1c4486" />
<circle cx="383.75" cy="425.5" r="1.45" fill="#1c4486" />
<circle cx="381.25" cy="432.5" r="1.45" fill="#1c4486" />
<circle cx="377" cy="429" r="1.45" fill="#1c4486" />
<circle cx="385.5" cy="429" r="1.45" fill="#1c4486" />
<line x1="373.15" y1="428.75" x2="389.35" y2="428.75" stroke="#333" stroke-width="1.3" />
<line x1="381.25" y1="425.5" x2="381.25" y2="432" stroke="#333" stroke-width="1.1" />
<line x1="377.25" y1="425.5" x2="385.25" y2="425.5" stroke="#333" stroke-width="1.1" />
<line x1="377.25" y1="432" x2="385.25" y2="432" stroke="#333" stroke-width="1.1" />
<circle cx="403.25" cy="445.5" r="1.45" fill="#b0102c" />
<circle cx="410" cy="448" r="1.45" fill="#b0102c" />
<circle cx="400.75" cy="450.5" r="1.45" fill="#b0102c" />
<circle cx="406.25" cy="453.75" r="1.45" fill="#b0102c" />
<circle cx="411.25" cy="451.25" r="1.45" fill="#b0102c" />
<line x1="398.15" y1="450.5" x2="414.35" y2="450.5" stroke="#333" stroke-width="1.3" />
<line x1="406.25" y1="447" x2="406.25" y2="453.25" stroke="#333" stroke-width="1.1" />
<line x1="402.25" y1="447" x2="410.25" y2="447" stroke="#333" stroke-width="1.1" />
<line x1="402.25" y1="453.25" x2="410.25" y2="453.25" stroke="#333" stroke-width="1.1" />
<circle cx="431.25" cy="398" r="1.45" fill="#b0102c" />
<circle cx="424.5" cy="403.25" r="1.45" fill="#b0102c" />
<circle cx="438" cy="403.25" r="1.45" fill="#b0102c" />
<circle cx="427.5" cy="406.75" r="1.45" fill="#b0102c" />
<circle cx="433.75" cy="406.75" r="1.45" fill="#b0102c" />
<line x1="423.15" y1="403.25" x2="439.35" y2="403.25" stroke="#333" stroke-width="1.3" />
<line x1="431.25" y1="399.5" x2="431.25" y2="407" stroke="#333" stroke-width="1.1" />
<line x1="427.25" y1="399.5" x2="435.25" y2="399.5" stroke="#333" stroke-width="1.1" />
<line x1="427.25" y1="407" x2="435.25" y2="407" stroke="#333" stroke-width="1.1" />
<text x="358.85" y="465.5" font-size="8.18" text-anchor="end" fill="#111" color="#111" textLength="44" lengthAdjust="spacingAndGlyphs" transform="rotate(-45 358.85 465.5)">No leukemia</text>
<text x="385.11" y="467.32" font-size="8.18" text-anchor="end" fill="#111" color="#111" textLength="25" lengthAdjust="spacingAndGlyphs" transform="rotate(-45 385.11 467.32)">Day 10</text>
<text x="408.85" y="465.5" font-size="8.18" text-anchor="end" fill="#111" color="#111" textLength="46" lengthAdjust="spacingAndGlyphs" transform="rotate(-45 408.85 465.5)">No Leukemia</text>
<text x="435.11" y="467.32" font-size="8.18" text-anchor="end" fill="#111" color="#111" textLength="25" lengthAdjust="spacingAndGlyphs" transform="rotate(-45 435.11 467.32)">Day 10</text>
<line x1="333" y1="507" x2="366.25" y2="507" stroke="#666" stroke-width="1.4" />
<text x="349.5" y="515.8" font-size="7.9" text-anchor="middle" fill="#111" color="#111" textLength="14.67" lengthAdjust="spacingAndGlyphs">CD4</text>
<line x1="384.5" y1="507" x2="417.5" y2="507" stroke="#666" stroke-width="1.4" />
<text x="400.5" y="515.8" font-size="7.9" text-anchor="middle" fill="#111" color="#111" textLength="14.67" lengthAdjust="spacingAndGlyphs">CD8</text>
<text x="33.1" y="543.4" font-size="10.92" text-anchor="start" fill="#111" color="#111" textLength="5.2" lengthAdjust="spacingAndGlyphs">E</text>
<line x1="79.4" y1="549.3" x2="79.4" y2="644.6" stroke="#111" stroke-width="1.2" />
<line x1="75.2" y1="644" x2="79.4" y2="644" stroke="#111" stroke-width="1" />
<text x="73.6" y="646.9" font-size="8.69" text-anchor="end" fill="#111" color="#111" textLength="4.24" lengthAdjust="spacingAndGlyphs">0</text>
<line x1="75.2" y1="625.48" x2="79.4" y2="625.48" stroke="#111" stroke-width="1" />
<text x="73.6" y="628.38" font-size="8.69" text-anchor="end" fill="#111" color="#111" textLength="8.48" lengthAdjust="spacingAndGlyphs">20</text>
<line x1="75.2" y1="606.96" x2="79.4" y2="606.96" stroke="#111" stroke-width="1" />
<text x="73.6" y="609.86" font-size="8.69" text-anchor="end" fill="#111" color="#111" textLength="8.48" lengthAdjust="spacingAndGlyphs">40</text>
<line x1="75.2" y1="588.44" x2="79.4" y2="588.44" stroke="#111" stroke-width="1" />
<text x="73.6" y="591.34" font-size="8.69" text-anchor="end" fill="#111" color="#111" textLength="8.48" lengthAdjust="spacingAndGlyphs">60</text>
<line x1="75.2" y1="569.92" x2="79.4" y2="569.92" stroke="#111" stroke-width="1" />
<text x="73.6" y="572.82" font-size="8.69" text-anchor="end" fill="#111" color="#111" textLength="8.48" lengthAdjust="spacingAndGlyphs">80</text>
<line x1="75.2" y1="551.4" x2="79.4" y2="551.4" stroke="#111" stroke-width="1" />
<text x="73.6" y="554.3" font-size="8.69" text-anchor="end" fill="#111" color="#111" textLength="12.72" lengthAdjust="spacingAndGlyphs">100</text>
<line x1="78.8" y1="644.1" x2="218.6" y2="644.1" stroke="#1a1a1a" stroke-width="1.45" />
<line x1="79.4" y1="644" x2="79.4" y2="647.4" stroke="#111" stroke-width="1" />
<text x="79.4" y="657.3" font-size="8.69" text-anchor="middle" fill="#111" color="#111" textLength="4.24" lengthAdjust="spacingAndGlyphs">0</text>
<line x1="119.1" y1="644" x2="119.1" y2="647.4" stroke="#111" stroke-width="1" />
<text x="119.1" y="657.3" font-size="8.69" text-anchor="middle" fill="#111" color="#111" textLength="8.48" lengthAdjust="spacingAndGlyphs">20</text>
<line x1="158.8" y1="644" x2="158.8" y2="647.4" stroke="#111" stroke-width="1" />
<text x="158.8" y="657.3" font-size="8.69" text-anchor="middle" fill="#111" color="#111" textLength="8.48" lengthAdjust="spacingAndGlyphs">40</text>
<line x1="198.5" y1="644" x2="198.5" y2="647.4" stroke="#111" stroke-width="1" />
<text x="198.5" y="657.3" font-size="8.69" text-anchor="middle" fill="#111" color="#111" textLength="8.48" lengthAdjust="spacingAndGlyphs">60</text>
<text x="55" y="596.1" font-size="10.12" text-anchor="middle" fill="#111" color="#111" textLength="65" lengthAdjust="spacingAndGlyphs" transform="rotate(-90 55 596.1)">Percent survival</text>
<text x="148.8" y="671.3" font-size="10.42" text-anchor="middle" fill="#111" color="#111" textLength="106.6" lengthAdjust="spacingAndGlyphs">Day post tumor challenge</text>
<path d="M99.05 551.4 H99.25 V620.85 H109.18 V632.42 H123.07 V644" stroke="#72b54b" stroke-width="1.1" fill="none" stroke-linejoin="miter"/>
<path d="M106.99 551.4 H107.19 V557.19 H109.18 V568.76 H111.16 V609.27 H113.15 V620.85 H115.13 V644" stroke="#b3122e" stroke-width="1.7" fill="none" stroke-linejoin="miter"/>
<path d="M79.4 551.4 H138.95 V562.98 H146.89 V597.7 H150.86 V603.49 H152.85 V615.06 H158.8 V620.85 H160.79 V626.64 H166.74 V632.42 H178.65 V638.21 H198.5" stroke="#2b4f8e" stroke-width="1.3" fill="none" stroke-linejoin="miter"/>
<path d="M138.95 561.08 L137.05 564.4 L140.85 564.4 Z" stroke="none" stroke-width="1" fill="#2b4f8e" />
<path d="M146.89 595.8 L144.99 599.12 L148.79 599.12 Z" stroke="none" stroke-width="1" fill="#2b4f8e" />
<path d="M150.86 601.59 L148.96 604.91 L152.76 604.91 Z" stroke="none" stroke-width="1" fill="#2b4f8e" />
<path d="M152.85 613.16 L150.95 616.49 L154.75 616.49 Z" stroke="none" stroke-width="1" fill="#2b4f8e" />
<path d="M158.8 618.95 L156.9 622.27 L160.7 622.27 Z" stroke="none" stroke-width="1" fill="#2b4f8e" />
<path d="M160.79 624.74 L158.89 628.06 L162.69 628.06 Z" stroke="none" stroke-width="1" fill="#2b4f8e" />
<path d="M166.74 630.52 L164.84 633.85 L168.64 633.85 Z" stroke="none" stroke-width="1" fill="#2b4f8e" />
<path d="M178.65 636.31 L176.75 639.64 L180.55 639.64 Z" stroke="none" stroke-width="1" fill="#2b4f8e" />
<path d="M198.5 636.31 L196.6 639.64 L200.4 639.64 Z" stroke="none" stroke-width="1" fill="#2b4f8e" />
<rect x="105.49" y="555.49" width="3.4" height="3.4" fill="#b3122e" />
<rect x="107.48" y="567.06" width="3.4" height="3.4" fill="#b3122e" />
<rect x="109.46" y="607.57" width="3.4" height="3.4" fill="#b3122e" />
<rect x="111.45" y="619.15" width="3.4" height="3.4" fill="#b3122e" />
<rect x="113.43" y="642.3" width="3.4" height="3.4" fill="#b3122e" />
<path d="M97.45 619.05 L101.05 622.65 M97.45 622.65 L101.05 619.05 M97.09 620.85 H101.41" stroke="#72b54b" stroke-width="0.9" fill="none" />
<path d="M107.38 630.62 L110.98 634.22 M107.38 634.22 L110.98 630.62 M107.02 632.42 H111.34" stroke="#72b54b" stroke-width="0.9" fill="none" />
<path d="M121.27 642.2 L124.87 645.8 M121.27 645.8 L124.87 642.2 M120.91 644 H125.23" stroke="#72b54b" stroke-width="0.9" fill="none" />
<line x1="150.8" y1="556.1" x2="161.9" y2="556.1" stroke="#b3122e" stroke-width="1.3" />
<rect x="154.6" y="554.4" width="3.4" height="3.4" fill="#b3122e" />
<text x="167" y="558.4" font-size="6.86" text-anchor="start" fill="#111" color="#111" textLength="68" lengthAdjust="spacingAndGlyphs">Leukemia-bearing Donor</text>
<line x1="150.8" y1="568.1" x2="161.9" y2="568.1" stroke="#2b4f8e" stroke-width="1.3" />
<path d="M156.3 566.3 L154.5 569.45 L158.1 569.45 Z" stroke="none" stroke-width="1" fill="#2b4f8e" />
<text x="167" y="570.4" font-size="6.86" text-anchor="start" fill="#111" color="#111" textLength="48.5" lengthAdjust="spacingAndGlyphs">Vaccinated Donor</text>
<line x1="150.8" y1="579.6" x2="161.9" y2="579.6" stroke="#72b54b" stroke-width="1" />
<path d="M154.6 577.9 L158 581.3 M154.6 581.3 L158 577.9 M154.26 579.6 H158.34" stroke="#72b54b" stroke-width="0.9" fill="none" />
<text x="167" y="581.9" font-size="6.86" text-anchor="start" fill="#111" color="#111" textLength="56.5" lengthAdjust="spacingAndGlyphs">No Adoptive Transfer</text>
<text x="266.9" y="543" font-size="10.92" text-anchor="start" fill="#111" color="#111" textLength="5" lengthAdjust="spacingAndGlyphs">F</text>
<line x1="307.3" y1="548" x2="307.3" y2="644.8" stroke="#111" stroke-width="1.2" />
<line x1="304.7" y1="644.2" x2="307.3" y2="644.2" stroke="#111" stroke-width="1" />
<text x="301.3" y="647.1" font-size="8.69" text-anchor="end" fill="#111" color="#111" textLength="4.24" lengthAdjust="spacingAndGlyphs">0</text>
<line x1="304.7" y1="613.05" x2="307.3" y2="613.05" stroke="#111" stroke-width="1" />
<text x="301.3" y="615.95" font-size="8.69" text-anchor="end" fill="#111" color="#111" textLength="8.48" lengthAdjust="spacingAndGlyphs">10</text>
<line x1="304.7" y1="581.9" x2="307.3" y2="581.9" stroke="#111" stroke-width="1" />
<text x="301.3" y="584.8" font-size="8.69" text-anchor="end" fill="#111" color="#111" textLength="8.48" lengthAdjust="spacingAndGlyphs">20</text>
<line x1="304.7" y1="550.75" x2="307.3" y2="550.75" stroke="#111" stroke-width="1" />
<text x="301.3" y="553.65" font-size="8.69" text-anchor="end" fill="#111" color="#111" textLength="8.48" lengthAdjust="spacingAndGlyphs">30</text>
<line x1="306.7" y1="644.3" x2="445.7" y2="644.3" stroke="#1a1a1a" stroke-width="1.45" />
<line x1="330.3" y1="644.2" x2="330.3" y2="647.4" stroke="#111" stroke-width="1" />
<line x1="376.4" y1="644.2" x2="376.4" y2="647.4" stroke="#111" stroke-width="1" />
<line x1="424" y1="644.2" x2="424" y2="647.4" stroke="#111" stroke-width="1" />
<text x="286.6" y="596.5" font-size="9.57" text-anchor="middle" fill="#111" color="#111" textLength="59.6" lengthAdjust="spacingAndGlyphs" transform="rotate(-90 286.6 596.5)">% of CD8+ cell</text>
<text x="333.2" y="652" font-size="8.36" text-anchor="end" fill="#111" color="#111" textLength="15.2" lengthAdjust="spacingAndGlyphs" transform="rotate(-45 333.2 652)">PD1</text>
<text x="379.3" y="652" font-size="8.36" text-anchor="end" fill="#111" color="#111" textLength="18.2" lengthAdjust="spacingAndGlyphs" transform="rotate(-45 379.3 652)">Tim3</text>
<text x="426.9" y="652" font-size="8.36" text-anchor="end" fill="#111" color="#111" textLength="19.8" lengthAdjust="spacingAndGlyphs" transform="rotate(-45 426.9 652)">LAG3</text>
<line x1="316.25" y1="577.5" x2="338.75" y2="577.5" stroke="#3a3a3a" stroke-width="1.4" />
<text x="327.5" y="573.1" font-size="7.49" text-anchor="middle" fill="#111" color="#111" textLength="30" lengthAdjust="spacingAndGlyphs">p&lt;0.0001</text>
<line x1="366.25" y1="558.75" x2="389" y2="558.75" stroke="#3a3a3a" stroke-width="1.4" />
<text x="377.6" y="554.35" font-size="7.49" text-anchor="middle" fill="#111" color="#111" textLength="26.5" lengthAdjust="spacingAndGlyphs">p=0.004</text>
<line x1="414" y1="599.5" x2="436" y2="599.5" stroke="#3a3a3a" stroke-width="1.4" />
<text x="424.8" y="595.1" font-size="7.49" text-anchor="middle" fill="#111" color="#111" textLength="30" lengthAdjust="spacingAndGlyphs">p&lt;0.0001</text>
<circle cx="318.5" cy="633.8" r="1.85" fill="#1c4486" />
<circle cx="327.6" cy="634.3" r="1.85" fill="#1c4486" />
<circle cx="324.5" cy="638.2" r="1.85" fill="#1c4486" />
<circle cx="318.6" cy="640.6" r="1.85" fill="#1c4486" />
<circle cx="322.5" cy="636.5" r="1.85" fill="#1c4486" />
<line x1="315.8" y1="636.7" x2="325.8" y2="636.7" stroke="#111" stroke-width="1.3" />
<line x1="320.8" y1="633.9" x2="320.8" y2="639.2" stroke="#111" stroke-width="1" />
<line x1="318.3" y1="633.9" x2="323.3" y2="633.9" stroke="#111" stroke-width="1" />
<line x1="318.3" y1="639.2" x2="323.3" y2="639.2" stroke="#111" stroke-width="1" />
<rect x="337.1" y="583.1" width="3.8" height="3.8" fill="#b0102c" />
<rect x="334.1" y="598.5" width="3.8" height="3.8" fill="#b0102c" />
<rect x="340.8" y="595.1" width="3.8" height="3.8" fill="#b0102c" />
<rect x="337.1" y="592.1" width="3.8" height="3.8" fill="#b0102c" />
<line x1="333" y1="594" x2="345" y2="594" stroke="#111" stroke-width="1.3" />
<line x1="339" y1="588" x2="339" y2="601.2" stroke="#111" stroke-width="1" />
<line x1="335.5" y1="588" x2="342.5" y2="588" stroke="#111" stroke-width="1" />
<line x1="335.5" y1="601.2" x2="342.5" y2="601.2" stroke="#111" stroke-width="1" />
<circle cx="368.4" cy="634.4" r="1.85" fill="#1c4486" />
<circle cx="364.8" cy="640.5" r="1.85" fill="#1c4486" />
<circle cx="372" cy="640.5" r="1.85" fill="#1c4486" />
<circle cx="368.4" cy="643.5" r="1.85" fill="#1c4486" />
<line x1="362.4" y1="640.2" x2="374.4" y2="640.2" stroke="#111" stroke-width="1.3" />
<line x1="368.4" y1="637.5" x2="368.4" y2="643" stroke="#111" stroke-width="1" />
<line x1="364.9" y1="637.5" x2="371.9" y2="637.5" stroke="#111" stroke-width="1" />
<line x1="364.9" y1="643" x2="371.9" y2="643" stroke="#111" stroke-width="1" />
<rect x="383.8" y="563.9" width="3.8" height="3.8" fill="#b0102c" />
<rect x="383.8" y="576.8" width="3.8" height="3.8" fill="#b0102c" />
<rect x="383.8" y="583.1" width="3.8" height="3.8" fill="#b0102c" />
<rect x="383.8" y="601.4" width="3.8" height="3.8" fill="#b0102c" />
<line x1="379.7" y1="583" x2="391.7" y2="583" stroke="#111" stroke-width="1.3" />
<line x1="385.7" y1="567.2" x2="385.7" y2="598.4" stroke="#111" stroke-width="1" />
<line x1="382.2" y1="567.2" x2="389.2" y2="567.2" stroke="#111" stroke-width="1" />
<line x1="382.2" y1="598.4" x2="389.2" y2="598.4" stroke="#111" stroke-width="1" />
<circle cx="411.8" cy="644" r="1.85" fill="#1c4486" />
<circle cx="414.8" cy="644" r="1.85" fill="#1c4486" />
<circle cx="417.8" cy="644" r="1.85" fill="#1c4486" />
<line x1="410.3" y1="644" x2="419.3" y2="644" stroke="#111" stroke-width="1.3" />
<rect x="427.3" y="607.1" width="3.8" height="3.8" fill="#b0102c" />
<rect x="433.7" y="604.1" width="3.8" height="3.8" fill="#b0102c" />
<rect x="430.1" y="617.1" width="3.8" height="3.8" fill="#b0102c" />
<rect x="427.6" y="608.6" width="3.8" height="3.8" fill="#b0102c" />
<line x1="426" y1="611.3" x2="438" y2="611.3" stroke="#111" stroke-width="1.3" />
<line x1="432" y1="605.6" x2="432" y2="615" stroke="#111" stroke-width="1" />
<line x1="428.5" y1="605.6" x2="435.5" y2="605.6" stroke="#111" stroke-width="1" />
<line x1="428.5" y1="615" x2="435.5" y2="615" stroke="#111" stroke-width="1" />
<circle cx="443.8" cy="553" r="1.6" fill="#1c4486" />
<text x="449" y="555.3" font-size="6.86" text-anchor="start" fill="#111" color="#111" textLength="35.3" lengthAdjust="spacingAndGlyphs">No Leukemia</text>
<rect x="442.2" y="563" width="3.2" height="3.2" fill="#b0102c" />
<text x="449" y="566.9" font-size="6.86" text-anchor="start" fill="#111" color="#111" textLength="23.8" lengthAdjust="spacingAndGlyphs">MLL-AF4</text>
<rect x="0" y="0" width="520" height="1.1" fill="#000"/>
<rect x="0" y="0" width="1.1" height="678" fill="#000"/>
<rect x="518.7" y="0" width="1.3" height="678" fill="#000"/>
<rect x="0" y="676.6" width="520" height="1.4" fill="#000"/>
</svg>
</body></html>
